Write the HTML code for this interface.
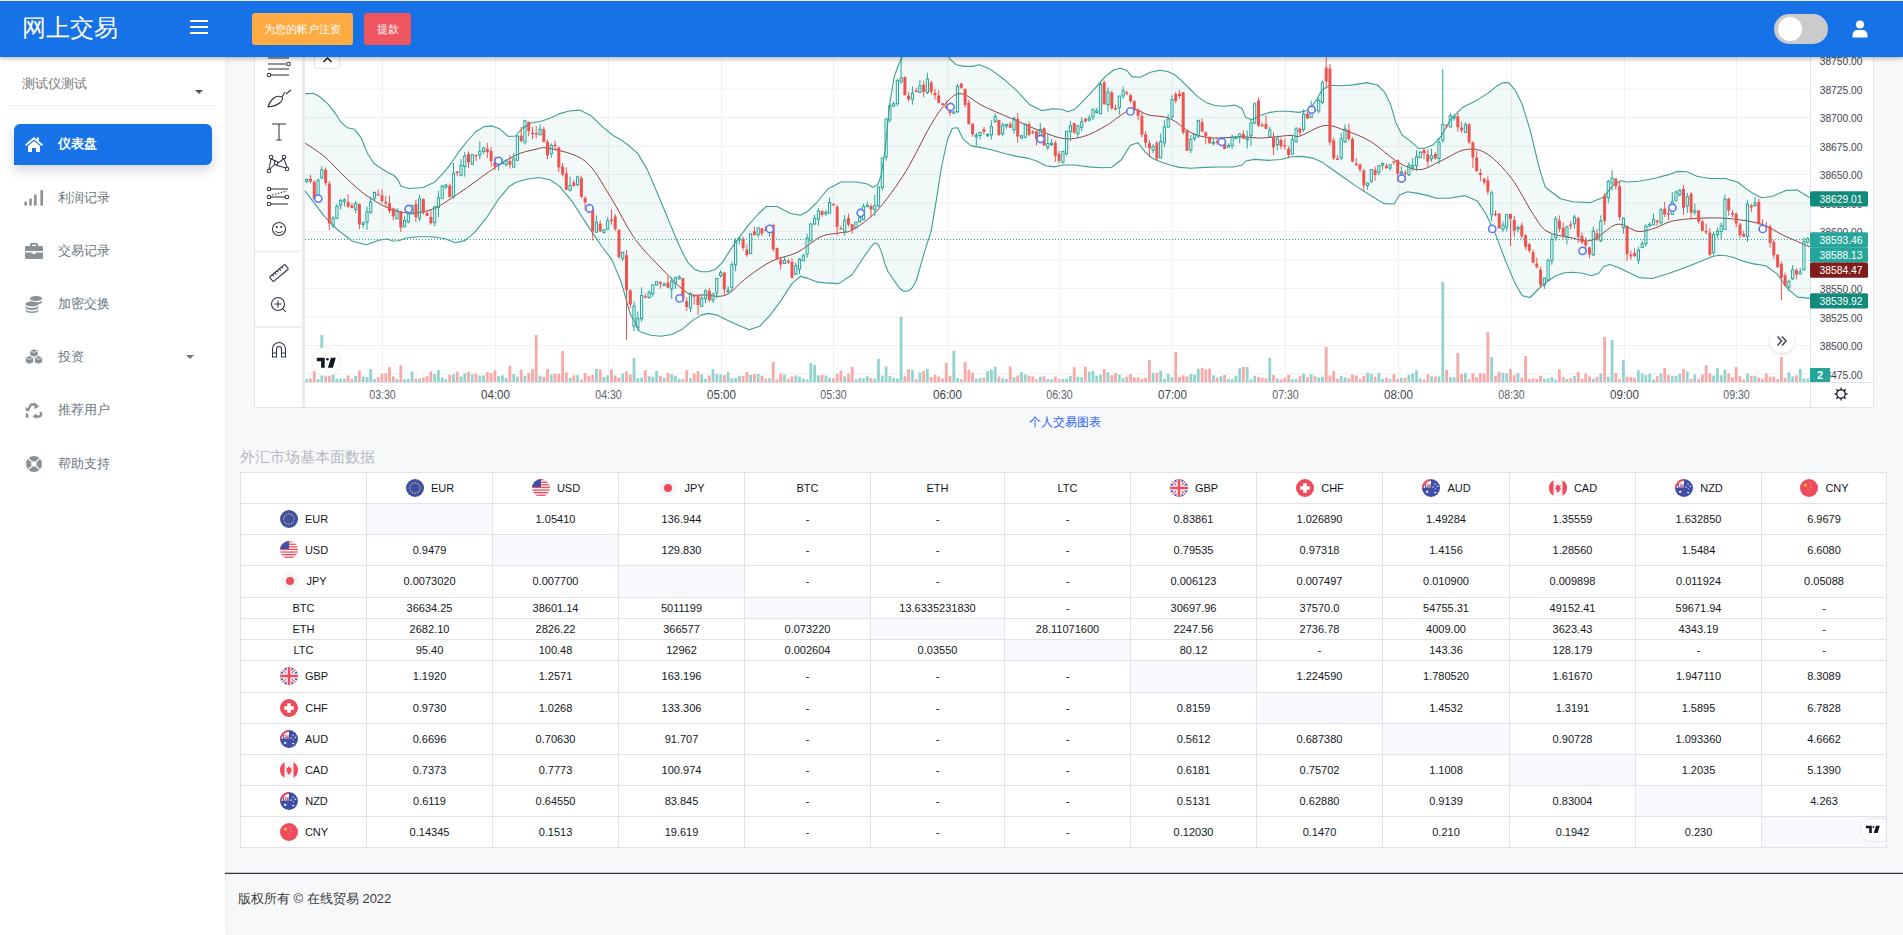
<!DOCTYPE html>
<html><head><meta charset="utf-8"><title>网上交易</title><style>*{box-sizing:border-box;margin:0;padding:0}
html,body{width:1903px;height:935px;overflow:hidden}
body{font-family:"Liberation Sans",sans-serif;background:#f7f8fa;position:relative}
.header{position:absolute;left:0;top:0;width:1903px;height:57px;background:#1672e6;border-top:1px solid #f3ead9;box-shadow:0 2px 4px rgba(0,0,0,.25);z-index:10}
.logo{position:absolute;left:22px;top:12px;font-size:24px;color:#fff;line-height:30px;letter-spacing:0px}
.ham{position:absolute;left:190px;top:19px;width:18px;height:15px}
.ham i{position:absolute;left:0;width:18px;height:2px;background:#fff}
.btn{position:absolute;top:12px;height:32px;border-radius:3px;color:#fff;font-size:11px;line-height:32px;text-align:center}
.btn1{left:252px;width:101px;background:#ffab44}
.btn2{left:364px;width:47px;background:#f05661}
.toggle{position:absolute;left:1774px;top:13px;width:54px;height:30px;border-radius:15px;background:#cbcbcb}
.toggle i{position:absolute;left:4px;top:3px;width:24px;height:24px;border-radius:50%;background:#fff}
.user{position:absolute;left:1852px;top:19px}
.side{position:absolute;left:0;top:56px;width:225px;height:879px;background:#fff;z-index:5;box-shadow:3px 0 10px rgba(0,0,0,.035)}
.acct{position:absolute;left:22px;top:20px;font-size:13px;color:#777;line-height:16px}
.caret{position:absolute;left:195px;top:34px;width:0;height:0;border-left:4px solid transparent;border-right:4px solid transparent;border-top:4px solid #555}
.sep{position:absolute;left:9px;top:49px;width:207px;height:1px;background:#ececec}
.nav{position:absolute;left:14px;width:198px;height:41px;font-size:13px;color:#6c757d}
.nav .ico{position:absolute;left:10px;top:12px;width:20px;height:18px}
.nav span{position:absolute;left:44px;top:12px;line-height:17px}
.nav.active{background:#1672e6;border-radius:6px 6px 6px 0;box-shadow:0 5px 12px rgba(50,70,100,.22);color:#fff;font-weight:bold}
.chart{position:absolute;left:0;top:0;z-index:1}
.chart text{font-family:"Liberation Sans",sans-serif}
.link{position:absolute;left:1029px;top:415px;font-size:11.7px;color:#2962ff;line-height:14px}
.sect{position:absolute;left:240px;top:448px;font-size:15px;color:#b5b8c0;line-height:18px}
.tbl{position:absolute;left:240px;top:472px;width:1647px;height:376px;background:#fff}
.c{position:absolute;border:1px solid #e0e3eb;text-align:center;font-size:11px;color:#131722;white-space:nowrap}
.c.hl{background:#f8f9fd}
.c .flag{display:inline-block;vertical-align:middle;margin-right:8px;position:relative;top:-1px;left:1px}
.c span{vertical-align:middle;position:relative;top:-1px}
.foot{position:absolute;left:225px;top:873px;width:1678px;height:62px;border-top:1px solid #2f3542;box-shadow:0 -0.5px 0 rgba(47,53,66,.5);background:#f7f8fa}
.foot div{position:absolute;left:13px;top:17px;font-size:13px;color:#3a3a3a;line-height:16px}
.nav.active span{top:11px}.nav.active .ico{top:11px}
</style></head>
<body>
<div class="header">
  <div class="logo">网上交易</div>
  <div class="ham"><i style="top:0"></i><i style="top:6px"></i><i style="top:12px"></i></div>
  <div class="btn btn1">为您的帐户注资</div>
  <div class="btn btn2">提款</div>
  <div class="toggle"><i></i></div>
  <svg class="user" width="16" height="18" viewBox="0 0 16 18"><circle cx="8" cy="4.5" r="4" fill="#fff"/><path d="M0.5,17.5 v-2.5 a5,5 0 0 1 5,-5 h5 a5,5 0 0 1 5,5 v2.5z" fill="#fff"/></svg>
</div>
<div class="side">
  <div class="acct">测试仪测试</div>
  <div class="caret"></div>
  <div class="sep"></div>
  <div class="nav active" style="top:68px">
    <svg class="ico" viewBox="0 0 20 18"><path d="M10,2 L1,9.5 L2.3,11 L10,4.6 L17.7,11 L19,9.5 L15,6.2 V2.5 H13 V4.5z M4,11 V17 H8 V13 H12 V17 H16 V11 L10,6z" fill="#fff"/></svg>
    <span>仪表盘</span></div>
  <div class="nav" style="top:121px">
    <svg class="ico" viewBox="0 0 20 18"><rect x="0.4" y="12.7" width="2.6" height="3.9" fill="#8a9196"/><rect x="5.3" y="9.6" width="2.5" height="7" fill="#8a9196"/><rect x="10" y="5.6" width="2.6" height="11" fill="#8a9196"/><rect x="16.4" y="1.2" width="2.6" height="15.4" fill="#8a9196"/></svg>
    <span>利润记录</span></div>
  <div class="nav" style="top:174px">
    <svg class="ico" viewBox="0 0 20 18"><path d="M6,4 V2.5 a1.5,1.5 0 0 1 1.5,-1.5 h5 a1.5,1.5 0 0 1 1.5,1.5 V4 h4 a1,1 0 0 1 1,1 v4 H1 V5 a1,1 0 0 1 1,-1z M8,4 h4 V2.8 H8z M1,10.5 h7.5 v1.5 h3 v-1.5 H19 V16 a1,1 0 0 1 -1,1 H2 a1,1 0 0 1 -1,-1z" fill="#8a9196"/></svg>
    <span>交易记录</span></div>
  <div class="nav" style="top:227px">
    <svg class="ico" viewBox="0 0 20 18"><ellipse cx="12" cy="3.5" rx="6" ry="2.5" fill="#8a9196"/><path d="M6,5 v2 a6,2.5 0 0 0 12,0 v-2 a6,2.5 0 0 1 -12,0z" fill="#8a9196"/><ellipse cx="8" cy="9" rx="6.5" ry="2.5" fill="#8a9196"/><path d="M1.5,10.5 v2 a6.5,2.5 0 0 0 13,0 v-2 a6.5,2.5 0 0 1 -13,0z M1.5,14 v1.5 a6.5,2.5 0 0 0 13,0 v-1.5 a6.5,2.5 0 0 1 -13,0z" fill="#8a9196"/></svg>
    <span>加密交换</span></div>
  <div class="nav" style="top:280px">
    <svg class="ico" viewBox="0 0 20 18"><g fill="#8a9196" stroke="#fff" stroke-width="0.9" stroke-linejoin="round"><path d="M10,0.8 L14.2,2.6 V7.4 L10,9.2 L5.8,7.4 V2.6z"/><path d="M5.5,7.6 L9.7,9.4 V14.4 L5.5,16.2 L1.3,14.4 V9.4z"/><path d="M14.5,7.6 L18.7,9.4 V14.4 L14.5,16.2 L10.3,14.4 V9.4z"/></g><path d="M6.3,2.9 L10,4.5 L13.7,2.9 M1.8,9.7 L5.5,11.3 L9.2,9.7 M10.8,9.7 L14.5,11.3 L18.2,9.7" fill="none" stroke="#fff" stroke-width="0.7"/></svg>
    <span>投资</span>
    <div style="position:absolute;left:172px;top:19px;border-left:4px solid transparent;border-right:4px solid transparent;border-top:4px solid #777"></div></div>
  <div class="nav" style="top:333px">
    <svg class="ico" viewBox="0 0 20 18"><g fill="none" stroke="#8a9196" stroke-width="2.3" stroke-linejoin="round"><path d="M3.5,10 L7,3.5 H10.5"/><path d="M4.5,15.5 H2.8 L3.2,12.5"/><path d="M16.5,11 L17.3,14.3 L15.5,15.5 H12"/></g><path d="M10,1 L15,5.5 L10.5,8z" fill="#8a9196"/><path d="M12.5,12.5 V18 L8.5,15.2z" fill="#8a9196"/><path d="M5.5,8.5 L2.2,10 L1,6z" fill="#8a9196"/></svg>
    <span>推荐用户</span></div>
  <div class="nav" style="top:387px">
    <svg class="ico" viewBox="0 0 20 18"><circle cx="10" cy="9" r="5.4" fill="none" stroke="#8a9196" stroke-width="5.2"/><path d="M12,11 L16.5,15.5 M8,11 L3.5,15.5 M12,7 L16.5,2.5 M8,7 L3.5,2.5" stroke="#fff" stroke-width="1.1"/></svg>
    <span>帮助支持</span></div>
</div>
<svg class="chart" width="1903" height="410" viewBox="0 0 1903 410">
<defs><clipPath id="pl"><rect x="305" y="0" width="1505" height="383"/></clipPath><filter id="sh" x="-50%" y="-50%" width="200%" height="200%"><feDropShadow dx="0" dy="1" stdDeviation="1.5" flood-color="#000" flood-opacity="0.18"/></filter></defs>
<rect x="254.5" y="-9.5" width="1619" height="417" fill="#fff" stroke="#e0e3eb" stroke-width="1"/>
<rect x="302" y="0" width="3" height="407" fill="#e9ebf0"/>
<rect x="255" y="250.5" width="47" height="2" fill="#eceef2"/>
<rect x="255" y="326" width="47" height="2" fill="#eceef2"/>
<line x1="305" x2="1810" y1="60.5" y2="60.5" stroke="#f0f0f0" stroke-width="1"/>
<line x1="305" x2="1810" y1="89.0" y2="89.0" stroke="#f0f0f0" stroke-width="1"/>
<line x1="305" x2="1810" y1="117.5" y2="117.5" stroke="#f0f0f0" stroke-width="1"/>
<line x1="305" x2="1810" y1="146.0" y2="146.0" stroke="#f0f0f0" stroke-width="1"/>
<line x1="305" x2="1810" y1="174.5" y2="174.5" stroke="#f0f0f0" stroke-width="1"/>
<line x1="305" x2="1810" y1="203.0" y2="203.0" stroke="#f0f0f0" stroke-width="1"/>
<line x1="305" x2="1810" y1="231.5" y2="231.5" stroke="#f0f0f0" stroke-width="1"/>
<line x1="305" x2="1810" y1="260.0" y2="260.0" stroke="#f0f0f0" stroke-width="1"/>
<line x1="305" x2="1810" y1="288.5" y2="288.5" stroke="#f0f0f0" stroke-width="1"/>
<line x1="305" x2="1810" y1="317.0" y2="317.0" stroke="#f0f0f0" stroke-width="1"/>
<line x1="305" x2="1810" y1="345.5" y2="345.5" stroke="#f0f0f0" stroke-width="1"/>
<line x1="305" x2="1810" y1="374.0" y2="374.0" stroke="#f0f0f0" stroke-width="1"/>
<line x1="382.5" x2="382.5" y1="0" y2="383" stroke="#f0f0f0" stroke-width="1"/>
<line x1="495.5" x2="495.5" y1="0" y2="383" stroke="#f0f0f0" stroke-width="1"/>
<line x1="608.5" x2="608.5" y1="0" y2="383" stroke="#f0f0f0" stroke-width="1"/>
<line x1="721.5" x2="721.5" y1="0" y2="383" stroke="#f0f0f0" stroke-width="1"/>
<line x1="833.5" x2="833.5" y1="0" y2="383" stroke="#f0f0f0" stroke-width="1"/>
<line x1="947.5" x2="947.5" y1="0" y2="383" stroke="#f0f0f0" stroke-width="1"/>
<line x1="1059.5" x2="1059.5" y1="0" y2="383" stroke="#f0f0f0" stroke-width="1"/>
<line x1="1172.5" x2="1172.5" y1="0" y2="383" stroke="#f0f0f0" stroke-width="1"/>
<line x1="1285.5" x2="1285.5" y1="0" y2="383" stroke="#f0f0f0" stroke-width="1"/>
<line x1="1398.5" x2="1398.5" y1="0" y2="383" stroke="#f0f0f0" stroke-width="1"/>
<line x1="1511.5" x2="1511.5" y1="0" y2="383" stroke="#f0f0f0" stroke-width="1"/>
<line x1="1624.5" x2="1624.5" y1="0" y2="383" stroke="#f0f0f0" stroke-width="1"/>
<line x1="1736.5" x2="1736.5" y1="0" y2="383" stroke="#f0f0f0" stroke-width="1"/>
<g clip-path="url(#pl)">
<path d="M305.0,93.8 L307.8,93.6 L313.2,93.2 L320.0,96.8 L328.0,104.2 L335.0,112.8 L341.0,122.2 L347.5,127.8 L354.5,129.2 L361.1,137.8 L367.4,153.2 L374.1,163.5 L381.4,168.5 L388.0,172.5 L394.0,175.5 L398.2,180.0 L400.8,186.0 L409.0,188.5 L423.0,187.5 L434.5,182.2 L443.5,172.8 L451.5,162.8 L458.5,152.2 L466.5,142.0 L475.5,132.0 L484.0,126.6 L492.0,125.9 L500.0,129.1 L508.0,136.4 L515.5,136.0 L522.5,128.0 L531.2,123.0 L541.8,121.0 L551.2,117.8 L559.8,113.6 L569.2,111.0 L579.8,110.1 L591.2,115.8 L603.8,127.9 L613.5,135.8 L620.5,139.6 L628.5,145.3 L637.5,153.1 L647.2,169.4 L657.8,194.3 L667.4,217.3 L676.1,238.4 L683.1,253.8 L688.4,263.2 L694.5,269.2 L701.5,271.8 L708.5,271.8 L715.5,269.2 L722.5,262.4 L729.5,251.1 L738.4,238.4 L749.2,224.1 L758.6,213.5 L766.5,206.5 L777.1,206.5 L790.4,213.5 L800.4,215.2 L807.2,211.8 L816.3,203.0 L827.8,189.0 L841.0,182.0 L856.0,182.0 L866.6,183.8 L872.9,187.2 L877.8,184.5 L881.2,175.5 L885.2,149.0 L889.5,105.0 L894.3,76.2 L899.4,62.8 L905.2,50.8 L911.8,40.2 L918.8,33.8 L926.2,31.2 L933.8,33.8 L941.2,41.2 L946.7,49.7 L950.0,59.1 L956.0,64.7 L964.7,66.4 L972.5,66.4 L979.5,64.7 L990.1,69.1 L1004.5,79.7 L1017.7,91.6 L1029.9,104.8 L1041.7,110.6 L1053.1,108.8 L1061.8,109.2 L1068.0,111.8 L1075.5,108.7 L1084.3,99.9 L1094.1,89.4 L1104.7,77.1 L1113.5,70.0 L1120.5,68.2 L1126.7,70.4 L1132.0,76.6 L1140.0,77.2 L1150.5,72.3 L1159.8,70.3 L1167.7,71.5 L1174.8,74.8 L1180.9,80.2 L1188.4,87.5 L1197.3,96.4 L1206.0,102.4 L1214.7,105.5 L1224.4,106.3 L1235.1,105.1 L1242.2,108.8 L1245.8,117.6 L1251.9,119.8 L1260.6,115.2 L1269.5,112.4 L1278.3,111.3 L1288.1,111.3 L1298.7,112.4 L1306.5,110.8 L1311.5,106.6 L1316.7,99.6 L1322.0,89.8 L1330.0,85.2 L1340.6,85.8 L1352.9,84.9 L1367.0,82.6 L1377.5,85.0 L1384.5,92.1 L1390.7,104.8 L1396.1,123.3 L1402.3,135.2 L1409.4,140.4 L1414.7,144.8 L1418.2,148.2 L1424.4,148.2 L1433.2,144.8 L1441.9,135.1 L1450.7,119.3 L1462.1,107.8 L1476.3,100.6 L1487.8,93.4 L1496.6,86.1 L1503.7,82.6 L1508.9,82.9 L1515.1,90.1 L1522.2,104.3 L1530.1,129.9 L1539.0,167.0 L1545.1,186.8 L1548.3,189.5 L1553.5,193.5 L1560.5,198.8 L1572.8,201.8 L1590.2,202.6 L1603.5,197.2 L1612.5,185.8 L1620.5,180.7 L1627.5,182.0 L1639.0,181.2 L1654.9,178.2 L1667.7,174.9 L1677.2,171.4 L1686.9,171.8 L1696.8,176.3 L1709.5,178.5 L1725.2,178.5 L1737.5,182.0 L1746.5,189.1 L1754.5,194.3 L1761.5,197.8 L1772.0,196.5 L1786.0,190.4 L1797.2,190.0 L1805.8,195.2 L1810.0,197.9 L1810.0,298.4 L1805.8,297.9 L1797.6,297.1 L1788.1,289.1 L1777.3,274.1 L1765.9,265.7 L1753.6,263.9 L1743.1,261.2 L1734.4,257.8 L1726.5,255.8 L1719.3,255.2 L1712.3,256.5 L1705.2,259.5 L1694.7,263.8 L1680.5,269.2 L1666.4,274.2 L1652.1,278.5 L1638.9,277.6 L1626.6,271.5 L1617.0,267.0 L1609.9,264.4 L1603.8,266.5 L1598.5,273.5 L1591.4,275.8 L1582.5,273.2 L1573.5,272.2 L1564.5,272.8 L1555.8,275.8 L1547.6,281.2 L1539.0,288.5 L1530.1,297.5 L1522.2,295.8 L1515.1,283.2 L1506.3,262.9 L1495.8,234.9 L1486.1,214.2 L1477.2,200.9 L1464.8,195.6 L1449.0,198.3 L1436.6,198.3 L1427.9,195.6 L1418.1,193.4 L1407.4,191.7 L1399.4,195.2 L1394.3,204.0 L1383.8,203.6 L1367.9,193.8 L1353.8,184.6 L1341.2,175.8 L1330.7,168.3 L1321.9,162.1 L1312.4,158.1 L1302.2,156.4 L1291.7,156.8 L1281.0,159.5 L1268.7,160.4 L1254.5,159.4 L1245.8,161.0 L1242.2,165.0 L1233.4,167.0 L1219.1,167.0 L1205.0,167.4 L1191.0,168.2 L1179.5,167.4 L1170.5,165.2 L1161.7,162.2 L1153.1,158.8 L1145.3,152.2 L1138.2,142.8 L1130.3,145.2 L1121.4,159.8 L1111.7,167.2 L1101.2,167.7 L1088.8,166.9 L1074.7,165.0 L1063.2,165.0 L1054.4,166.9 L1045.7,165.7 L1037.1,161.2 L1027.5,158.1 L1016.9,156.4 L1005.5,153.8 L993.1,150.2 L981.7,147.6 L971.1,145.9 L963.1,139.2 L957.7,127.8 L952.4,128.2 L947.2,140.5 L941.4,167.5 L934.9,209.2 L930.9,232.4 L929.1,237.3 L926.7,244.8 L923.6,254.9 L920.8,264.8 L918.2,274.2 L916.0,281.0 L914.0,285.0 L912.0,288.0 L910.0,290.0 L907.2,291.1 L903.5,291.3 L899.5,288.3 L895.2,282.1 L891.4,276.5 L888.0,271.5 L884.8,263.6 L881.6,252.6 L879.0,245.9 L877.0,243.3 L874.6,243.2 L871.9,245.8 L864.4,256.2 L852.0,274.8 L838.8,283.6 L824.7,282.9 L815.7,281.6 L811.9,279.9 L806.8,278.1 L800.2,276.4 L791.7,283.9 L781.0,300.6 L770.4,314.8 L759.9,326.2 L749.2,329.8 L738.4,325.2 L727.8,320.4 L717.2,315.1 L708.5,313.4 L701.5,315.1 L692.8,320.4 L682.2,329.3 L671.8,334.5 L661.2,336.2 L650.6,335.2 L640.0,331.8 L630.2,314.1 L621.4,282.5 L611.8,259.6 L601.2,245.5 L588.0,226.1 L572.0,201.3 L559.2,185.9 L549.8,179.8 L538.8,177.5 L526.2,179.2 L516.2,182.2 L508.8,186.8 L498.8,198.8 L486.2,218.2 L475.0,232.2 L465.0,240.6 L455.0,242.8 L445.0,238.7 L432.5,236.7 L417.5,236.7 L406.2,238.0 L398.8,240.7 L392.5,241.0 L387.5,239.0 L378.8,240.2 L366.2,244.8 L352.5,241.2 L337.5,229.8 L323.8,215.7 L311.2,199.1 L305.0,190.8 Z" fill="#26a69a" fill-opacity="0.06"/>
<rect x="305.4" y="378.9" width="2.8" height="3.1" fill="#94d3cd"/>
<rect x="309.1" y="378.7" width="2.8" height="3.3" fill="#f7a9a7"/>
<rect x="312.9" y="371.2" width="2.8" height="10.8" fill="#f7a9a7"/>
<rect x="316.7" y="379.2" width="2.8" height="2.8" fill="#94d3cd"/>
<rect x="320.4" y="335.0" width="2.8" height="47.0" fill="#94d3cd"/>
<rect x="324.2" y="369.6" width="2.8" height="12.4" fill="#f7a9a7"/>
<rect x="327.9" y="370.1" width="2.8" height="11.9" fill="#f7a9a7"/>
<rect x="331.7" y="373.7" width="2.8" height="8.3" fill="#94d3cd"/>
<rect x="335.5" y="378.8" width="2.8" height="3.2" fill="#94d3cd"/>
<rect x="339.2" y="378.7" width="2.8" height="3.3" fill="#94d3cd"/>
<rect x="343.0" y="378.7" width="2.8" height="3.3" fill="#94d3cd"/>
<rect x="346.7" y="375.5" width="2.8" height="6.5" fill="#f7a9a7"/>
<rect x="350.5" y="379.1" width="2.8" height="2.9" fill="#f7a9a7"/>
<rect x="354.3" y="376.0" width="2.8" height="6.0" fill="#94d3cd"/>
<rect x="358.0" y="370.5" width="2.8" height="11.5" fill="#f7a9a7"/>
<rect x="361.8" y="376.6" width="2.8" height="5.4" fill="#94d3cd"/>
<rect x="365.6" y="377.0" width="2.8" height="5.0" fill="#94d3cd"/>
<rect x="369.3" y="369.0" width="2.8" height="13.0" fill="#94d3cd"/>
<rect x="373.1" y="379.2" width="2.8" height="2.8" fill="#94d3cd"/>
<rect x="376.8" y="377.2" width="2.8" height="4.8" fill="#f7a9a7"/>
<rect x="380.6" y="373.5" width="2.8" height="8.5" fill="#f7a9a7"/>
<rect x="384.4" y="373.2" width="2.8" height="8.8" fill="#f7a9a7"/>
<rect x="388.1" y="367.1" width="2.8" height="14.9" fill="#f7a9a7"/>
<rect x="391.9" y="376.4" width="2.8" height="5.6" fill="#f7a9a7"/>
<rect x="395.6" y="379.1" width="2.8" height="2.9" fill="#94d3cd"/>
<rect x="399.4" y="365.3" width="2.8" height="16.7" fill="#f7a9a7"/>
<rect x="403.2" y="379.3" width="2.8" height="2.7" fill="#94d3cd"/>
<rect x="406.9" y="378.7" width="2.8" height="3.3" fill="#94d3cd"/>
<rect x="410.7" y="371.6" width="2.8" height="10.4" fill="#94d3cd"/>
<rect x="414.5" y="378.8" width="2.8" height="3.2" fill="#f7a9a7"/>
<rect x="418.2" y="378.6" width="2.8" height="3.4" fill="#94d3cd"/>
<rect x="422.0" y="377.5" width="2.8" height="4.5" fill="#f7a9a7"/>
<rect x="425.7" y="376.2" width="2.8" height="5.8" fill="#f7a9a7"/>
<rect x="429.5" y="371.3" width="2.8" height="10.7" fill="#f7a9a7"/>
<rect x="433.3" y="374.0" width="2.8" height="8.0" fill="#94d3cd"/>
<rect x="437.0" y="370.1" width="2.8" height="11.9" fill="#94d3cd"/>
<rect x="440.8" y="377.6" width="2.8" height="4.4" fill="#94d3cd"/>
<rect x="444.5" y="379.3" width="2.8" height="2.7" fill="#94d3cd"/>
<rect x="448.3" y="374.7" width="2.8" height="7.3" fill="#f7a9a7"/>
<rect x="452.1" y="374.2" width="2.8" height="7.8" fill="#94d3cd"/>
<rect x="455.8" y="371.8" width="2.8" height="10.2" fill="#f7a9a7"/>
<rect x="459.6" y="376.4" width="2.8" height="5.6" fill="#94d3cd"/>
<rect x="463.4" y="373.5" width="2.8" height="8.5" fill="#94d3cd"/>
<rect x="467.1" y="371.7" width="2.8" height="10.3" fill="#f7a9a7"/>
<rect x="470.9" y="374.3" width="2.8" height="7.7" fill="#94d3cd"/>
<rect x="474.6" y="373.5" width="2.8" height="8.5" fill="#f7a9a7"/>
<rect x="478.4" y="375.6" width="2.8" height="6.4" fill="#94d3cd"/>
<rect x="482.2" y="375.3" width="2.8" height="6.7" fill="#94d3cd"/>
<rect x="485.9" y="372.2" width="2.8" height="9.8" fill="#f7a9a7"/>
<rect x="489.7" y="373.1" width="2.8" height="8.9" fill="#f7a9a7"/>
<rect x="493.5" y="370.4" width="2.8" height="11.6" fill="#f7a9a7"/>
<rect x="497.2" y="376.2" width="2.8" height="5.8" fill="#94d3cd"/>
<rect x="501.0" y="375.3" width="2.8" height="6.7" fill="#94d3cd"/>
<rect x="504.7" y="377.6" width="2.8" height="4.4" fill="#94d3cd"/>
<rect x="508.5" y="365.7" width="2.8" height="16.3" fill="#f7a9a7"/>
<rect x="512.3" y="374.0" width="2.8" height="8.0" fill="#94d3cd"/>
<rect x="516.0" y="376.5" width="2.8" height="5.5" fill="#94d3cd"/>
<rect x="519.8" y="369.6" width="2.8" height="12.4" fill="#f7a9a7"/>
<rect x="523.5" y="375.8" width="2.8" height="6.2" fill="#94d3cd"/>
<rect x="527.3" y="373.0" width="2.8" height="9.0" fill="#f7a9a7"/>
<rect x="531.1" y="369.2" width="2.8" height="12.8" fill="#f7a9a7"/>
<rect x="534.8" y="335.0" width="2.8" height="47.0" fill="#f7a9a7"/>
<rect x="538.6" y="375.7" width="2.8" height="6.3" fill="#94d3cd"/>
<rect x="542.4" y="376.7" width="2.8" height="5.3" fill="#f7a9a7"/>
<rect x="546.1" y="369.1" width="2.8" height="12.9" fill="#f7a9a7"/>
<rect x="549.9" y="374.5" width="2.8" height="7.5" fill="#94d3cd"/>
<rect x="553.6" y="373.5" width="2.8" height="8.5" fill="#f7a9a7"/>
<rect x="557.4" y="373.7" width="2.8" height="8.3" fill="#f7a9a7"/>
<rect x="561.2" y="351.0" width="2.8" height="31.0" fill="#f7a9a7"/>
<rect x="564.9" y="372.5" width="2.8" height="9.5" fill="#f7a9a7"/>
<rect x="568.7" y="377.9" width="2.8" height="4.1" fill="#94d3cd"/>
<rect x="572.4" y="375.3" width="2.8" height="6.7" fill="#f7a9a7"/>
<rect x="576.2" y="375.2" width="2.8" height="6.8" fill="#94d3cd"/>
<rect x="580.0" y="379.5" width="2.8" height="2.5" fill="#f7a9a7"/>
<rect x="583.7" y="373.0" width="2.8" height="9.0" fill="#f7a9a7"/>
<rect x="587.5" y="376.1" width="2.8" height="5.9" fill="#f7a9a7"/>
<rect x="591.3" y="374.9" width="2.8" height="7.1" fill="#f7a9a7"/>
<rect x="595.0" y="369.0" width="2.8" height="13.0" fill="#94d3cd"/>
<rect x="598.8" y="369.5" width="2.8" height="12.5" fill="#f7a9a7"/>
<rect x="602.5" y="376.8" width="2.8" height="5.2" fill="#94d3cd"/>
<rect x="606.3" y="375.3" width="2.8" height="6.7" fill="#94d3cd"/>
<rect x="610.1" y="369.3" width="2.8" height="12.7" fill="#f7a9a7"/>
<rect x="613.8" y="375.5" width="2.8" height="6.5" fill="#f7a9a7"/>
<rect x="617.6" y="377.6" width="2.8" height="4.4" fill="#f7a9a7"/>
<rect x="621.3" y="373.6" width="2.8" height="8.4" fill="#94d3cd"/>
<rect x="625.1" y="371.5" width="2.8" height="10.5" fill="#f7a9a7"/>
<rect x="628.9" y="374.6" width="2.8" height="7.4" fill="#f7a9a7"/>
<rect x="632.6" y="358.0" width="2.8" height="24.0" fill="#94d3cd"/>
<rect x="636.4" y="378.2" width="2.8" height="3.8" fill="#94d3cd"/>
<rect x="640.2" y="377.6" width="2.8" height="4.4" fill="#94d3cd"/>
<rect x="643.9" y="370.2" width="2.8" height="11.8" fill="#f7a9a7"/>
<rect x="647.7" y="376.2" width="2.8" height="5.8" fill="#94d3cd"/>
<rect x="651.4" y="376.7" width="2.8" height="5.3" fill="#94d3cd"/>
<rect x="655.2" y="370.8" width="2.8" height="11.2" fill="#94d3cd"/>
<rect x="659.0" y="375.8" width="2.8" height="6.2" fill="#f7a9a7"/>
<rect x="662.7" y="377.8" width="2.8" height="4.2" fill="#94d3cd"/>
<rect x="666.5" y="373.0" width="2.8" height="9.0" fill="#f7a9a7"/>
<rect x="670.3" y="374.3" width="2.8" height="7.7" fill="#94d3cd"/>
<rect x="674.0" y="375.8" width="2.8" height="6.2" fill="#94d3cd"/>
<rect x="677.8" y="378.7" width="2.8" height="3.3" fill="#94d3cd"/>
<rect x="681.5" y="379.2" width="2.8" height="2.8" fill="#f7a9a7"/>
<rect x="685.3" y="370.3" width="2.8" height="11.7" fill="#f7a9a7"/>
<rect x="689.1" y="377.9" width="2.8" height="4.1" fill="#94d3cd"/>
<rect x="692.8" y="373.6" width="2.8" height="8.4" fill="#f7a9a7"/>
<rect x="696.6" y="371.0" width="2.8" height="11.0" fill="#f7a9a7"/>
<rect x="700.3" y="374.3" width="2.8" height="7.7" fill="#94d3cd"/>
<rect x="704.1" y="378.9" width="2.8" height="3.1" fill="#94d3cd"/>
<rect x="707.9" y="375.5" width="2.8" height="6.5" fill="#f7a9a7"/>
<rect x="711.6" y="369.2" width="2.8" height="12.8" fill="#94d3cd"/>
<rect x="715.4" y="373.9" width="2.8" height="8.1" fill="#94d3cd"/>
<rect x="719.2" y="374.5" width="2.8" height="7.5" fill="#94d3cd"/>
<rect x="722.9" y="375.1" width="2.8" height="6.9" fill="#f7a9a7"/>
<rect x="726.7" y="372.2" width="2.8" height="9.8" fill="#94d3cd"/>
<rect x="730.4" y="378.4" width="2.8" height="3.6" fill="#94d3cd"/>
<rect x="734.2" y="378.2" width="2.8" height="3.8" fill="#94d3cd"/>
<rect x="738.0" y="376.2" width="2.8" height="5.8" fill="#94d3cd"/>
<rect x="741.7" y="375.9" width="2.8" height="6.1" fill="#f7a9a7"/>
<rect x="745.5" y="371.8" width="2.8" height="10.2" fill="#f7a9a7"/>
<rect x="749.2" y="374.9" width="2.8" height="7.1" fill="#94d3cd"/>
<rect x="753.0" y="374.1" width="2.8" height="7.9" fill="#f7a9a7"/>
<rect x="756.8" y="374.1" width="2.8" height="7.9" fill="#94d3cd"/>
<rect x="760.5" y="375.7" width="2.8" height="6.3" fill="#f7a9a7"/>
<rect x="764.3" y="378.5" width="2.8" height="3.5" fill="#f7a9a7"/>
<rect x="768.1" y="378.2" width="2.8" height="3.8" fill="#94d3cd"/>
<rect x="771.8" y="362.0" width="2.8" height="20.0" fill="#f7a9a7"/>
<rect x="775.6" y="379.4" width="2.8" height="2.6" fill="#f7a9a7"/>
<rect x="779.3" y="373.4" width="2.8" height="8.6" fill="#f7a9a7"/>
<rect x="783.1" y="374.7" width="2.8" height="7.3" fill="#94d3cd"/>
<rect x="786.9" y="378.8" width="2.8" height="3.2" fill="#f7a9a7"/>
<rect x="790.6" y="376.4" width="2.8" height="5.6" fill="#f7a9a7"/>
<rect x="794.4" y="375.4" width="2.8" height="6.6" fill="#94d3cd"/>
<rect x="798.1" y="376.6" width="2.8" height="5.4" fill="#94d3cd"/>
<rect x="801.9" y="378.4" width="2.8" height="3.6" fill="#94d3cd"/>
<rect x="805.7" y="379.4" width="2.8" height="2.6" fill="#94d3cd"/>
<rect x="809.4" y="363.1" width="2.8" height="18.9" fill="#94d3cd"/>
<rect x="813.2" y="365.0" width="2.8" height="17.0" fill="#94d3cd"/>
<rect x="817.0" y="375.3" width="2.8" height="6.7" fill="#94d3cd"/>
<rect x="820.7" y="374.8" width="2.8" height="7.2" fill="#f7a9a7"/>
<rect x="824.5" y="375.6" width="2.8" height="6.4" fill="#94d3cd"/>
<rect x="828.2" y="377.7" width="2.8" height="4.3" fill="#94d3cd"/>
<rect x="832.0" y="378.4" width="2.8" height="3.6" fill="#f7a9a7"/>
<rect x="835.8" y="373.8" width="2.8" height="8.2" fill="#f7a9a7"/>
<rect x="839.5" y="370.6" width="2.8" height="11.4" fill="#f7a9a7"/>
<rect x="843.3" y="376.4" width="2.8" height="5.6" fill="#94d3cd"/>
<rect x="847.1" y="373.6" width="2.8" height="8.4" fill="#f7a9a7"/>
<rect x="850.8" y="366.7" width="2.8" height="15.3" fill="#f7a9a7"/>
<rect x="854.6" y="379.5" width="2.8" height="2.5" fill="#94d3cd"/>
<rect x="858.3" y="378.0" width="2.8" height="4.0" fill="#94d3cd"/>
<rect x="862.1" y="378.4" width="2.8" height="3.6" fill="#94d3cd"/>
<rect x="865.9" y="376.2" width="2.8" height="5.8" fill="#94d3cd"/>
<rect x="869.6" y="378.0" width="2.8" height="4.0" fill="#f7a9a7"/>
<rect x="873.4" y="378.6" width="2.8" height="3.4" fill="#94d3cd"/>
<rect x="877.1" y="359.0" width="2.8" height="23.0" fill="#94d3cd"/>
<rect x="880.9" y="375.6" width="2.8" height="6.4" fill="#94d3cd"/>
<rect x="884.7" y="366.6" width="2.8" height="15.4" fill="#94d3cd"/>
<rect x="888.4" y="376.0" width="2.8" height="6.0" fill="#94d3cd"/>
<rect x="892.2" y="377.8" width="2.8" height="4.2" fill="#94d3cd"/>
<rect x="896.0" y="378.4" width="2.8" height="3.6" fill="#94d3cd"/>
<rect x="899.7" y="316.7" width="2.8" height="65.3" fill="#94d3cd"/>
<rect x="903.5" y="376.3" width="2.8" height="5.7" fill="#f7a9a7"/>
<rect x="907.2" y="369.3" width="2.8" height="12.7" fill="#f7a9a7"/>
<rect x="911.0" y="370.0" width="2.8" height="12.0" fill="#94d3cd"/>
<rect x="914.8" y="379.2" width="2.8" height="2.8" fill="#f7a9a7"/>
<rect x="918.5" y="372.4" width="2.8" height="9.6" fill="#94d3cd"/>
<rect x="922.3" y="370.8" width="2.8" height="11.2" fill="#f7a9a7"/>
<rect x="926.0" y="368.9" width="2.8" height="13.1" fill="#94d3cd"/>
<rect x="929.8" y="376.8" width="2.8" height="5.2" fill="#f7a9a7"/>
<rect x="933.6" y="374.7" width="2.8" height="7.3" fill="#f7a9a7"/>
<rect x="937.3" y="376.4" width="2.8" height="5.6" fill="#f7a9a7"/>
<rect x="941.1" y="378.5" width="2.8" height="3.5" fill="#f7a9a7"/>
<rect x="944.9" y="362.9" width="2.8" height="19.1" fill="#f7a9a7"/>
<rect x="948.6" y="375.9" width="2.8" height="6.1" fill="#f7a9a7"/>
<rect x="952.4" y="350.6" width="2.8" height="31.4" fill="#94d3cd"/>
<rect x="956.1" y="378.0" width="2.8" height="4.0" fill="#94d3cd"/>
<rect x="959.9" y="379.3" width="2.8" height="2.7" fill="#f7a9a7"/>
<rect x="963.7" y="362.0" width="2.8" height="20.0" fill="#f7a9a7"/>
<rect x="967.4" y="369.7" width="2.8" height="12.3" fill="#f7a9a7"/>
<rect x="971.2" y="372.7" width="2.8" height="9.3" fill="#f7a9a7"/>
<rect x="974.9" y="378.6" width="2.8" height="3.4" fill="#94d3cd"/>
<rect x="978.7" y="378.0" width="2.8" height="4.0" fill="#94d3cd"/>
<rect x="982.5" y="377.5" width="2.8" height="4.5" fill="#f7a9a7"/>
<rect x="986.2" y="371.1" width="2.8" height="10.9" fill="#94d3cd"/>
<rect x="990.0" y="369.8" width="2.8" height="12.2" fill="#94d3cd"/>
<rect x="993.8" y="366.8" width="2.8" height="15.2" fill="#94d3cd"/>
<rect x="997.5" y="376.6" width="2.8" height="5.4" fill="#f7a9a7"/>
<rect x="1001.3" y="378.4" width="2.8" height="3.6" fill="#94d3cd"/>
<rect x="1005.0" y="379.1" width="2.8" height="2.9" fill="#94d3cd"/>
<rect x="1008.8" y="366.5" width="2.8" height="15.5" fill="#f7a9a7"/>
<rect x="1012.6" y="377.4" width="2.8" height="4.6" fill="#94d3cd"/>
<rect x="1016.3" y="375.3" width="2.8" height="6.7" fill="#f7a9a7"/>
<rect x="1020.1" y="371.7" width="2.8" height="10.3" fill="#94d3cd"/>
<rect x="1023.9" y="374.5" width="2.8" height="7.5" fill="#94d3cd"/>
<rect x="1027.6" y="375.7" width="2.8" height="6.3" fill="#f7a9a7"/>
<rect x="1031.4" y="376.5" width="2.8" height="5.5" fill="#f7a9a7"/>
<rect x="1035.1" y="379.4" width="2.8" height="2.6" fill="#f7a9a7"/>
<rect x="1038.9" y="376.7" width="2.8" height="5.3" fill="#94d3cd"/>
<rect x="1042.7" y="376.2" width="2.8" height="5.8" fill="#f7a9a7"/>
<rect x="1046.4" y="379.1" width="2.8" height="2.9" fill="#94d3cd"/>
<rect x="1050.2" y="379.3" width="2.8" height="2.7" fill="#94d3cd"/>
<rect x="1053.9" y="376.5" width="2.8" height="5.5" fill="#f7a9a7"/>
<rect x="1057.7" y="379.1" width="2.8" height="2.9" fill="#f7a9a7"/>
<rect x="1061.5" y="378.7" width="2.8" height="3.3" fill="#94d3cd"/>
<rect x="1065.2" y="378.8" width="2.8" height="3.2" fill="#94d3cd"/>
<rect x="1069.0" y="376.0" width="2.8" height="6.0" fill="#94d3cd"/>
<rect x="1072.8" y="367.2" width="2.8" height="14.8" fill="#f7a9a7"/>
<rect x="1076.5" y="376.7" width="2.8" height="5.3" fill="#94d3cd"/>
<rect x="1080.3" y="377.1" width="2.8" height="4.9" fill="#94d3cd"/>
<rect x="1084.0" y="366.9" width="2.8" height="15.1" fill="#f7a9a7"/>
<rect x="1087.8" y="371.8" width="2.8" height="10.2" fill="#94d3cd"/>
<rect x="1091.6" y="370.9" width="2.8" height="11.1" fill="#94d3cd"/>
<rect x="1095.3" y="375.7" width="2.8" height="6.3" fill="#94d3cd"/>
<rect x="1099.1" y="374.9" width="2.8" height="7.1" fill="#94d3cd"/>
<rect x="1102.8" y="369.1" width="2.8" height="12.9" fill="#f7a9a7"/>
<rect x="1106.6" y="372.3" width="2.8" height="9.7" fill="#94d3cd"/>
<rect x="1110.4" y="375.3" width="2.8" height="6.7" fill="#f7a9a7"/>
<rect x="1114.1" y="373.0" width="2.8" height="9.0" fill="#f7a9a7"/>
<rect x="1117.9" y="374.7" width="2.8" height="7.3" fill="#94d3cd"/>
<rect x="1121.7" y="378.0" width="2.8" height="4.0" fill="#94d3cd"/>
<rect x="1125.4" y="376.7" width="2.8" height="5.3" fill="#f7a9a7"/>
<rect x="1129.2" y="373.9" width="2.8" height="8.1" fill="#f7a9a7"/>
<rect x="1132.9" y="377.4" width="2.8" height="4.6" fill="#f7a9a7"/>
<rect x="1136.7" y="377.3" width="2.8" height="4.7" fill="#f7a9a7"/>
<rect x="1140.5" y="379.2" width="2.8" height="2.8" fill="#f7a9a7"/>
<rect x="1144.2" y="377.7" width="2.8" height="4.3" fill="#f7a9a7"/>
<rect x="1148.0" y="360.0" width="2.8" height="22.0" fill="#f7a9a7"/>
<rect x="1151.7" y="372.7" width="2.8" height="9.3" fill="#94d3cd"/>
<rect x="1155.5" y="372.7" width="2.8" height="9.3" fill="#f7a9a7"/>
<rect x="1159.3" y="370.7" width="2.8" height="11.3" fill="#94d3cd"/>
<rect x="1163.0" y="378.9" width="2.8" height="3.1" fill="#94d3cd"/>
<rect x="1166.8" y="373.9" width="2.8" height="8.1" fill="#94d3cd"/>
<rect x="1170.6" y="377.1" width="2.8" height="4.9" fill="#94d3cd"/>
<rect x="1174.3" y="352.0" width="2.8" height="30.0" fill="#f7a9a7"/>
<rect x="1178.1" y="376.9" width="2.8" height="5.1" fill="#f7a9a7"/>
<rect x="1181.8" y="375.3" width="2.8" height="6.7" fill="#f7a9a7"/>
<rect x="1185.6" y="376.3" width="2.8" height="5.7" fill="#f7a9a7"/>
<rect x="1189.4" y="373.9" width="2.8" height="8.1" fill="#94d3cd"/>
<rect x="1193.1" y="374.6" width="2.8" height="7.4" fill="#94d3cd"/>
<rect x="1196.9" y="368.7" width="2.8" height="13.3" fill="#94d3cd"/>
<rect x="1200.7" y="368.0" width="2.8" height="14.0" fill="#f7a9a7"/>
<rect x="1204.4" y="369.5" width="2.8" height="12.5" fill="#f7a9a7"/>
<rect x="1208.2" y="368.6" width="2.8" height="13.4" fill="#f7a9a7"/>
<rect x="1211.9" y="375.4" width="2.8" height="6.6" fill="#94d3cd"/>
<rect x="1215.7" y="377.6" width="2.8" height="4.4" fill="#f7a9a7"/>
<rect x="1219.5" y="376.2" width="2.8" height="5.8" fill="#94d3cd"/>
<rect x="1223.2" y="375.0" width="2.8" height="7.0" fill="#f7a9a7"/>
<rect x="1227.0" y="378.9" width="2.8" height="3.1" fill="#94d3cd"/>
<rect x="1230.7" y="379.3" width="2.8" height="2.7" fill="#94d3cd"/>
<rect x="1234.5" y="375.8" width="2.8" height="6.2" fill="#94d3cd"/>
<rect x="1238.3" y="368.4" width="2.8" height="13.6" fill="#94d3cd"/>
<rect x="1242.0" y="366.8" width="2.8" height="15.2" fill="#f7a9a7"/>
<rect x="1245.8" y="367.0" width="2.8" height="15.0" fill="#94d3cd"/>
<rect x="1249.6" y="379.3" width="2.8" height="2.7" fill="#94d3cd"/>
<rect x="1253.3" y="375.8" width="2.8" height="6.2" fill="#94d3cd"/>
<rect x="1257.1" y="376.9" width="2.8" height="5.1" fill="#f7a9a7"/>
<rect x="1260.8" y="378.0" width="2.8" height="4.0" fill="#f7a9a7"/>
<rect x="1264.6" y="378.4" width="2.8" height="3.6" fill="#f7a9a7"/>
<rect x="1268.4" y="358.0" width="2.8" height="24.0" fill="#94d3cd"/>
<rect x="1272.1" y="375.0" width="2.8" height="7.0" fill="#f7a9a7"/>
<rect x="1275.9" y="378.5" width="2.8" height="3.5" fill="#94d3cd"/>
<rect x="1279.6" y="379.4" width="2.8" height="2.6" fill="#f7a9a7"/>
<rect x="1283.4" y="377.7" width="2.8" height="4.3" fill="#f7a9a7"/>
<rect x="1287.2" y="374.8" width="2.8" height="7.2" fill="#f7a9a7"/>
<rect x="1290.9" y="379.3" width="2.8" height="2.7" fill="#94d3cd"/>
<rect x="1294.7" y="379.2" width="2.8" height="2.8" fill="#94d3cd"/>
<rect x="1298.5" y="376.2" width="2.8" height="5.8" fill="#f7a9a7"/>
<rect x="1302.2" y="373.7" width="2.8" height="8.3" fill="#94d3cd"/>
<rect x="1306.0" y="377.2" width="2.8" height="4.8" fill="#f7a9a7"/>
<rect x="1309.7" y="374.1" width="2.8" height="7.9" fill="#94d3cd"/>
<rect x="1313.5" y="376.2" width="2.8" height="5.8" fill="#f7a9a7"/>
<rect x="1317.3" y="377.5" width="2.8" height="4.5" fill="#94d3cd"/>
<rect x="1321.0" y="376.8" width="2.8" height="5.2" fill="#94d3cd"/>
<rect x="1324.8" y="347.0" width="2.8" height="35.0" fill="#f7a9a7"/>
<rect x="1328.5" y="375.5" width="2.8" height="6.5" fill="#f7a9a7"/>
<rect x="1332.3" y="371.0" width="2.8" height="11.0" fill="#f7a9a7"/>
<rect x="1336.1" y="378.6" width="2.8" height="3.4" fill="#f7a9a7"/>
<rect x="1339.8" y="376.0" width="2.8" height="6.0" fill="#94d3cd"/>
<rect x="1343.6" y="377.4" width="2.8" height="4.6" fill="#94d3cd"/>
<rect x="1347.4" y="378.4" width="2.8" height="3.6" fill="#f7a9a7"/>
<rect x="1351.1" y="374.5" width="2.8" height="7.5" fill="#f7a9a7"/>
<rect x="1354.9" y="375.4" width="2.8" height="6.6" fill="#f7a9a7"/>
<rect x="1358.6" y="378.9" width="2.8" height="3.1" fill="#f7a9a7"/>
<rect x="1362.4" y="375.8" width="2.8" height="6.2" fill="#f7a9a7"/>
<rect x="1366.2" y="372.9" width="2.8" height="9.1" fill="#94d3cd"/>
<rect x="1369.9" y="373.9" width="2.8" height="8.1" fill="#94d3cd"/>
<rect x="1373.7" y="376.8" width="2.8" height="5.2" fill="#f7a9a7"/>
<rect x="1377.5" y="372.8" width="2.8" height="9.2" fill="#94d3cd"/>
<rect x="1381.2" y="378.9" width="2.8" height="3.1" fill="#94d3cd"/>
<rect x="1385.0" y="377.6" width="2.8" height="4.4" fill="#f7a9a7"/>
<rect x="1388.7" y="378.9" width="2.8" height="3.1" fill="#94d3cd"/>
<rect x="1392.5" y="373.9" width="2.8" height="8.1" fill="#f7a9a7"/>
<rect x="1396.3" y="379.2" width="2.8" height="2.8" fill="#f7a9a7"/>
<rect x="1400.0" y="377.7" width="2.8" height="4.3" fill="#94d3cd"/>
<rect x="1403.8" y="377.7" width="2.8" height="4.3" fill="#f7a9a7"/>
<rect x="1407.5" y="374.9" width="2.8" height="7.1" fill="#94d3cd"/>
<rect x="1411.3" y="373.5" width="2.8" height="8.5" fill="#94d3cd"/>
<rect x="1415.1" y="370.3" width="2.8" height="11.7" fill="#94d3cd"/>
<rect x="1418.8" y="378.5" width="2.8" height="3.5" fill="#94d3cd"/>
<rect x="1422.6" y="379.5" width="2.8" height="2.5" fill="#f7a9a7"/>
<rect x="1426.4" y="374.2" width="2.8" height="7.8" fill="#f7a9a7"/>
<rect x="1430.1" y="376.2" width="2.8" height="5.8" fill="#94d3cd"/>
<rect x="1433.9" y="376.5" width="2.8" height="5.5" fill="#f7a9a7"/>
<rect x="1437.6" y="376.4" width="2.8" height="5.6" fill="#94d3cd"/>
<rect x="1441.4" y="281.8" width="2.8" height="100.2" fill="#94d3cd"/>
<rect x="1445.2" y="369.9" width="2.8" height="12.1" fill="#f7a9a7"/>
<rect x="1448.9" y="377.3" width="2.8" height="4.7" fill="#94d3cd"/>
<rect x="1452.7" y="377.1" width="2.8" height="4.9" fill="#94d3cd"/>
<rect x="1456.4" y="353.0" width="2.8" height="29.0" fill="#f7a9a7"/>
<rect x="1460.2" y="374.1" width="2.8" height="7.9" fill="#f7a9a7"/>
<rect x="1464.0" y="372.8" width="2.8" height="9.2" fill="#94d3cd"/>
<rect x="1467.7" y="379.3" width="2.8" height="2.7" fill="#f7a9a7"/>
<rect x="1471.5" y="373.3" width="2.8" height="8.7" fill="#f7a9a7"/>
<rect x="1475.3" y="377.3" width="2.8" height="4.7" fill="#f7a9a7"/>
<rect x="1479.0" y="373.2" width="2.8" height="8.8" fill="#f7a9a7"/>
<rect x="1482.8" y="373.5" width="2.8" height="8.5" fill="#f7a9a7"/>
<rect x="1486.5" y="332.0" width="2.8" height="50.0" fill="#f7a9a7"/>
<rect x="1490.3" y="357.0" width="2.8" height="25.0" fill="#94d3cd"/>
<rect x="1494.1" y="375.8" width="2.8" height="6.2" fill="#f7a9a7"/>
<rect x="1497.8" y="371.7" width="2.8" height="10.3" fill="#f7a9a7"/>
<rect x="1501.6" y="372.8" width="2.8" height="9.2" fill="#94d3cd"/>
<rect x="1505.3" y="373.3" width="2.8" height="8.7" fill="#94d3cd"/>
<rect x="1509.1" y="369.1" width="2.8" height="12.9" fill="#f7a9a7"/>
<rect x="1512.9" y="375.3" width="2.8" height="6.7" fill="#f7a9a7"/>
<rect x="1516.6" y="373.3" width="2.8" height="8.7" fill="#94d3cd"/>
<rect x="1520.4" y="377.7" width="2.8" height="4.3" fill="#f7a9a7"/>
<rect x="1524.2" y="356.0" width="2.8" height="26.0" fill="#f7a9a7"/>
<rect x="1527.9" y="378.9" width="2.8" height="3.1" fill="#f7a9a7"/>
<rect x="1531.7" y="378.4" width="2.8" height="3.6" fill="#f7a9a7"/>
<rect x="1535.4" y="379.2" width="2.8" height="2.8" fill="#f7a9a7"/>
<rect x="1539.2" y="375.7" width="2.8" height="6.3" fill="#f7a9a7"/>
<rect x="1543.0" y="378.7" width="2.8" height="3.3" fill="#94d3cd"/>
<rect x="1546.7" y="378.4" width="2.8" height="3.6" fill="#94d3cd"/>
<rect x="1550.5" y="377.2" width="2.8" height="4.8" fill="#94d3cd"/>
<rect x="1554.3" y="379.5" width="2.8" height="2.5" fill="#94d3cd"/>
<rect x="1558.0" y="369.4" width="2.8" height="12.6" fill="#f7a9a7"/>
<rect x="1561.8" y="377.1" width="2.8" height="4.9" fill="#f7a9a7"/>
<rect x="1565.5" y="379.0" width="2.8" height="3.0" fill="#94d3cd"/>
<rect x="1569.3" y="378.4" width="2.8" height="3.6" fill="#f7a9a7"/>
<rect x="1573.1" y="376.1" width="2.8" height="5.9" fill="#94d3cd"/>
<rect x="1576.8" y="372.1" width="2.8" height="9.9" fill="#f7a9a7"/>
<rect x="1580.6" y="378.7" width="2.8" height="3.3" fill="#f7a9a7"/>
<rect x="1584.3" y="373.6" width="2.8" height="8.4" fill="#f7a9a7"/>
<rect x="1588.1" y="376.4" width="2.8" height="5.6" fill="#f7a9a7"/>
<rect x="1591.9" y="378.7" width="2.8" height="3.3" fill="#94d3cd"/>
<rect x="1595.6" y="377.0" width="2.8" height="5.0" fill="#f7a9a7"/>
<rect x="1599.4" y="373.5" width="2.8" height="8.5" fill="#94d3cd"/>
<rect x="1603.2" y="337.0" width="2.8" height="45.0" fill="#f7a9a7"/>
<rect x="1606.9" y="376.8" width="2.8" height="5.2" fill="#94d3cd"/>
<rect x="1610.7" y="340.0" width="2.8" height="42.0" fill="#94d3cd"/>
<rect x="1614.4" y="373.0" width="2.8" height="9.0" fill="#f7a9a7"/>
<rect x="1618.2" y="379.2" width="2.8" height="2.8" fill="#f7a9a7"/>
<rect x="1622.0" y="360.0" width="2.8" height="22.0" fill="#94d3cd"/>
<rect x="1625.7" y="376.7" width="2.8" height="5.3" fill="#f7a9a7"/>
<rect x="1629.5" y="377.0" width="2.8" height="5.0" fill="#f7a9a7"/>
<rect x="1633.2" y="377.8" width="2.8" height="4.2" fill="#f7a9a7"/>
<rect x="1637.0" y="370.3" width="2.8" height="11.7" fill="#94d3cd"/>
<rect x="1640.8" y="373.5" width="2.8" height="8.5" fill="#94d3cd"/>
<rect x="1644.5" y="375.2" width="2.8" height="6.8" fill="#94d3cd"/>
<rect x="1648.3" y="373.8" width="2.8" height="8.2" fill="#94d3cd"/>
<rect x="1652.1" y="379.4" width="2.8" height="2.6" fill="#94d3cd"/>
<rect x="1655.8" y="376.2" width="2.8" height="5.8" fill="#f7a9a7"/>
<rect x="1659.6" y="373.5" width="2.8" height="8.5" fill="#94d3cd"/>
<rect x="1663.3" y="368.0" width="2.8" height="14.0" fill="#f7a9a7"/>
<rect x="1667.1" y="375.1" width="2.8" height="6.9" fill="#f7a9a7"/>
<rect x="1670.9" y="375.8" width="2.8" height="6.2" fill="#94d3cd"/>
<rect x="1674.6" y="375.9" width="2.8" height="6.1" fill="#94d3cd"/>
<rect x="1678.4" y="373.8" width="2.8" height="8.2" fill="#94d3cd"/>
<rect x="1682.1" y="369.1" width="2.8" height="12.9" fill="#f7a9a7"/>
<rect x="1685.9" y="371.5" width="2.8" height="10.5" fill="#94d3cd"/>
<rect x="1689.7" y="378.7" width="2.8" height="3.3" fill="#f7a9a7"/>
<rect x="1693.4" y="374.6" width="2.8" height="7.4" fill="#94d3cd"/>
<rect x="1697.2" y="379.2" width="2.8" height="2.8" fill="#f7a9a7"/>
<rect x="1701.0" y="374.5" width="2.8" height="7.5" fill="#f7a9a7"/>
<rect x="1704.7" y="365.2" width="2.8" height="16.8" fill="#f7a9a7"/>
<rect x="1708.5" y="373.4" width="2.8" height="8.6" fill="#f7a9a7"/>
<rect x="1712.2" y="375.4" width="2.8" height="6.6" fill="#94d3cd"/>
<rect x="1716.0" y="368.1" width="2.8" height="13.9" fill="#94d3cd"/>
<rect x="1719.8" y="375.3" width="2.8" height="6.7" fill="#94d3cd"/>
<rect x="1723.5" y="369.7" width="2.8" height="12.3" fill="#94d3cd"/>
<rect x="1727.3" y="373.2" width="2.8" height="8.8" fill="#f7a9a7"/>
<rect x="1731.1" y="377.3" width="2.8" height="4.7" fill="#f7a9a7"/>
<rect x="1734.8" y="367.1" width="2.8" height="14.9" fill="#f7a9a7"/>
<rect x="1738.6" y="376.1" width="2.8" height="5.9" fill="#f7a9a7"/>
<rect x="1742.3" y="379.5" width="2.8" height="2.5" fill="#f7a9a7"/>
<rect x="1746.1" y="373.7" width="2.8" height="8.3" fill="#94d3cd"/>
<rect x="1749.9" y="376.0" width="2.8" height="6.0" fill="#f7a9a7"/>
<rect x="1753.6" y="375.6" width="2.8" height="6.4" fill="#94d3cd"/>
<rect x="1757.4" y="377.5" width="2.8" height="4.5" fill="#f7a9a7"/>
<rect x="1761.1" y="379.1" width="2.8" height="2.9" fill="#f7a9a7"/>
<rect x="1764.9" y="373.5" width="2.8" height="8.5" fill="#f7a9a7"/>
<rect x="1768.7" y="376.8" width="2.8" height="5.2" fill="#f7a9a7"/>
<rect x="1772.4" y="376.5" width="2.8" height="5.5" fill="#f7a9a7"/>
<rect x="1776.2" y="379.1" width="2.8" height="2.9" fill="#f7a9a7"/>
<rect x="1780.0" y="357.0" width="2.8" height="25.0" fill="#f7a9a7"/>
<rect x="1783.7" y="377.7" width="2.8" height="4.3" fill="#f7a9a7"/>
<rect x="1787.5" y="372.3" width="2.8" height="9.7" fill="#94d3cd"/>
<rect x="1791.2" y="376.5" width="2.8" height="5.5" fill="#94d3cd"/>
<rect x="1795.0" y="375.3" width="2.8" height="6.7" fill="#f7a9a7"/>
<rect x="1798.8" y="368.9" width="2.8" height="13.1" fill="#94d3cd"/>
<rect x="1802.5" y="378.4" width="2.8" height="3.6" fill="#94d3cd"/>
<rect x="1806.3" y="378.5" width="2.8" height="3.5" fill="#94d3cd"/>
<path d="M305.0,93.8 L307.8,93.6 L313.2,93.2 L320.0,96.8 L328.0,104.2 L335.0,112.8 L341.0,122.2 L347.5,127.8 L354.5,129.2 L361.1,137.8 L367.4,153.2 L374.1,163.5 L381.4,168.5 L388.0,172.5 L394.0,175.5 L398.2,180.0 L400.8,186.0 L409.0,188.5 L423.0,187.5 L434.5,182.2 L443.5,172.8 L451.5,162.8 L458.5,152.2 L466.5,142.0 L475.5,132.0 L484.0,126.6 L492.0,125.9 L500.0,129.1 L508.0,136.4 L515.5,136.0 L522.5,128.0 L531.2,123.0 L541.8,121.0 L551.2,117.8 L559.8,113.6 L569.2,111.0 L579.8,110.1 L591.2,115.8 L603.8,127.9 L613.5,135.8 L620.5,139.6 L628.5,145.3 L637.5,153.1 L647.2,169.4 L657.8,194.3 L667.4,217.3 L676.1,238.4 L683.1,253.8 L688.4,263.2 L694.5,269.2 L701.5,271.8 L708.5,271.8 L715.5,269.2 L722.5,262.4 L729.5,251.1 L738.4,238.4 L749.2,224.1 L758.6,213.5 L766.5,206.5 L777.1,206.5 L790.4,213.5 L800.4,215.2 L807.2,211.8 L816.3,203.0 L827.8,189.0 L841.0,182.0 L856.0,182.0 L866.6,183.8 L872.9,187.2 L877.8,184.5 L881.2,175.5 L885.2,149.0 L889.5,105.0 L894.3,76.2 L899.4,62.8 L905.2,50.8 L911.8,40.2 L918.8,33.8 L926.2,31.2 L933.8,33.8 L941.2,41.2 L946.7,49.7 L950.0,59.1 L956.0,64.7 L964.7,66.4 L972.5,66.4 L979.5,64.7 L990.1,69.1 L1004.5,79.7 L1017.7,91.6 L1029.9,104.8 L1041.7,110.6 L1053.1,108.8 L1061.8,109.2 L1068.0,111.8 L1075.5,108.7 L1084.3,99.9 L1094.1,89.4 L1104.7,77.1 L1113.5,70.0 L1120.5,68.2 L1126.7,70.4 L1132.0,76.6 L1140.0,77.2 L1150.5,72.3 L1159.8,70.3 L1167.7,71.5 L1174.8,74.8 L1180.9,80.2 L1188.4,87.5 L1197.3,96.4 L1206.0,102.4 L1214.7,105.5 L1224.4,106.3 L1235.1,105.1 L1242.2,108.8 L1245.8,117.6 L1251.9,119.8 L1260.6,115.2 L1269.5,112.4 L1278.3,111.3 L1288.1,111.3 L1298.7,112.4 L1306.5,110.8 L1311.5,106.6 L1316.7,99.6 L1322.0,89.8 L1330.0,85.2 L1340.6,85.8 L1352.9,84.9 L1367.0,82.6 L1377.5,85.0 L1384.5,92.1 L1390.7,104.8 L1396.1,123.3 L1402.3,135.2 L1409.4,140.4 L1414.7,144.8 L1418.2,148.2 L1424.4,148.2 L1433.2,144.8 L1441.9,135.1 L1450.7,119.3 L1462.1,107.8 L1476.3,100.6 L1487.8,93.4 L1496.6,86.1 L1503.7,82.6 L1508.9,82.9 L1515.1,90.1 L1522.2,104.3 L1530.1,129.9 L1539.0,167.0 L1545.1,186.8 L1548.3,189.5 L1553.5,193.5 L1560.5,198.8 L1572.8,201.8 L1590.2,202.6 L1603.5,197.2 L1612.5,185.8 L1620.5,180.7 L1627.5,182.0 L1639.0,181.2 L1654.9,178.2 L1667.7,174.9 L1677.2,171.4 L1686.9,171.8 L1696.8,176.3 L1709.5,178.5 L1725.2,178.5 L1737.5,182.0 L1746.5,189.1 L1754.5,194.3 L1761.5,197.8 L1772.0,196.5 L1786.0,190.4 L1797.2,190.0 L1805.8,195.2 L1810.0,197.9" fill="none" stroke="#3f9d95" stroke-width="1.1" stroke-linejoin="round"/>
<path d="M305.0,190.8 L311.2,199.1 L323.8,215.7 L337.5,229.8 L352.5,241.2 L366.2,244.8 L378.8,240.2 L387.5,239.0 L392.5,241.0 L398.8,240.7 L406.2,238.0 L417.5,236.7 L432.5,236.7 L445.0,238.7 L455.0,242.8 L465.0,240.6 L475.0,232.2 L486.2,218.2 L498.8,198.8 L508.8,186.8 L516.2,182.2 L526.2,179.2 L538.8,177.5 L549.8,179.8 L559.2,185.9 L572.0,201.3 L588.0,226.1 L601.2,245.5 L611.8,259.6 L621.4,282.5 L630.2,314.1 L640.0,331.8 L650.6,335.2 L661.2,336.2 L671.8,334.5 L682.2,329.3 L692.8,320.4 L701.5,315.1 L708.5,313.4 L717.2,315.1 L727.8,320.4 L738.4,325.2 L749.2,329.8 L759.9,326.2 L770.4,314.8 L781.0,300.6 L791.7,283.9 L800.2,276.4 L806.8,278.1 L811.9,279.9 L815.7,281.6 L824.7,282.9 L838.8,283.6 L852.0,274.8 L864.4,256.2 L871.9,245.8 L874.6,243.2 L877.0,243.3 L879.0,245.9 L881.6,252.6 L884.8,263.6 L888.0,271.5 L891.4,276.5 L895.2,282.1 L899.5,288.3 L903.5,291.3 L907.2,291.1 L910.0,290.0 L912.0,288.0 L914.0,285.0 L916.0,281.0 L918.2,274.2 L920.8,264.8 L923.6,254.9 L926.7,244.8 L929.1,237.3 L930.9,232.4 L934.9,209.2 L941.4,167.5 L947.2,140.5 L952.4,128.2 L957.7,127.8 L963.1,139.2 L971.1,145.9 L981.7,147.6 L993.1,150.2 L1005.5,153.8 L1016.9,156.4 L1027.5,158.1 L1037.1,161.2 L1045.7,165.7 L1054.4,166.9 L1063.2,165.0 L1074.7,165.0 L1088.8,166.9 L1101.2,167.7 L1111.7,167.2 L1121.4,159.8 L1130.3,145.2 L1138.2,142.8 L1145.3,152.2 L1153.1,158.8 L1161.7,162.2 L1170.5,165.2 L1179.5,167.4 L1191.0,168.2 L1205.0,167.4 L1219.1,167.0 L1233.4,167.0 L1242.2,165.0 L1245.8,161.0 L1254.5,159.4 L1268.7,160.4 L1281.0,159.5 L1291.7,156.8 L1302.2,156.4 L1312.4,158.1 L1321.9,162.1 L1330.7,168.3 L1341.2,175.8 L1353.8,184.6 L1367.9,193.8 L1383.8,203.6 L1394.3,204.0 L1399.4,195.2 L1407.4,191.7 L1418.1,193.4 L1427.9,195.6 L1436.6,198.3 L1449.0,198.3 L1464.8,195.6 L1477.2,200.9 L1486.1,214.2 L1495.8,234.9 L1506.3,262.9 L1515.1,283.2 L1522.2,295.8 L1530.1,297.5 L1539.0,288.5 L1547.6,281.2 L1555.8,275.8 L1564.5,272.8 L1573.5,272.2 L1582.5,273.2 L1591.4,275.8 L1598.5,273.5 L1603.8,266.5 L1609.9,264.4 L1617.0,267.0 L1626.6,271.5 L1638.9,277.6 L1652.1,278.5 L1666.4,274.2 L1680.5,269.2 L1694.7,263.8 L1705.2,259.5 L1712.3,256.5 L1719.3,255.2 L1726.5,255.8 L1734.4,257.8 L1743.1,261.2 L1753.6,263.9 L1765.9,265.7 L1777.3,274.1 L1788.1,289.1 L1797.6,297.1 L1805.8,297.9 L1810.0,298.4" fill="none" stroke="#3f9d95" stroke-width="1.1" stroke-linejoin="round"/>
<path d="M305.0,143.0 C308.3,145.3 318.3,151.3 325.0,157.0 C331.7,162.7 337.5,170.2 345.0,177.0 C352.5,183.8 360.8,192.2 370.0,198.0 C379.2,203.8 390.0,210.0 400.0,212.0 C410.0,214.0 420.0,213.2 430.0,210.0 C440.0,206.8 450.0,199.0 460.0,192.5 C470.0,186.0 480.8,177.2 490.0,171.0 C499.2,164.8 507.5,159.1 515.0,155.5 C522.5,151.9 529.2,150.7 535.0,149.5 C540.8,148.3 541.7,146.6 550.0,148.5 C558.3,150.4 575.0,153.1 585.0,161.0 C595.0,168.9 601.7,183.1 610.0,196.0 C618.3,208.9 625.8,226.1 634.6,238.4 C643.4,250.7 654.2,260.9 663.0,270.0 C671.8,279.1 680.6,288.9 687.6,293.0 C694.6,297.1 698.6,294.6 705.0,294.9 C711.4,295.2 718.9,297.9 726.0,294.9 C733.1,291.9 739.8,282.6 747.5,277.0 C755.2,271.4 763.8,265.1 772.0,261.0 C780.2,256.9 788.8,256.6 797.0,252.5 C805.2,248.4 814.0,239.9 821.0,236.7 C828.0,233.4 833.5,234.2 838.8,233.0 C844.1,231.8 846.5,233.4 853.0,229.6 C859.5,225.8 868.8,219.7 877.6,210.0 C886.4,200.3 897.0,185.5 905.8,171.4 C914.6,157.3 923.5,137.2 930.5,125.5 C937.5,113.8 942.8,106.2 948.0,100.9 C953.2,95.6 956.2,93.0 962.0,93.8 C967.8,94.6 974.7,101.9 983.0,106.0 C991.3,110.1 1002.1,114.4 1011.6,118.5 C1021.1,122.6 1031.3,127.5 1040.0,130.8 C1048.7,134.2 1056.5,137.7 1064.0,138.6 C1071.5,139.5 1077.9,138.2 1085.0,136.0 C1092.1,133.8 1098.7,129.9 1106.4,125.5 C1114.1,121.1 1123.9,111.5 1131.0,109.7 C1138.1,108.0 1142.3,113.5 1148.8,115.0 C1155.3,116.5 1163.0,115.6 1170.0,118.5 C1177.0,121.4 1184.0,129.3 1191.0,132.6 C1198.0,135.8 1203.8,137.3 1212.0,138.0 C1220.2,138.7 1232.2,136.8 1240.5,136.8 C1248.8,136.8 1253.3,138.2 1261.6,138.0 C1269.8,137.8 1283.6,135.7 1290.0,135.4 C1296.4,135.1 1294.2,137.7 1300.0,136.0 C1305.8,134.3 1317.0,126.4 1324.7,125.5 C1332.4,124.6 1338.3,128.2 1345.9,130.8 C1353.5,133.5 1361.7,136.1 1370.5,141.4 C1379.3,146.7 1390.5,157.9 1398.8,162.6 C1407.0,167.3 1413.0,169.9 1420.0,169.6 C1427.0,169.3 1433.4,164.2 1441.0,160.8 C1448.6,157.5 1458.1,150.7 1465.8,149.5 C1473.5,148.3 1479.4,149.0 1487.0,153.8 C1494.6,158.6 1504.0,168.5 1511.6,178.5 C1519.2,188.5 1526.9,204.9 1532.8,213.7 C1538.7,222.5 1540.6,227.4 1547.0,231.4 C1553.4,235.4 1563.5,236.2 1571.0,237.7 C1578.5,239.2 1584.3,242.4 1592.0,240.2 C1599.7,238.0 1609.3,225.8 1617.0,224.3 C1624.7,222.8 1631.5,230.8 1638.0,231.4 C1644.5,232.0 1649.9,229.6 1655.8,227.8 C1661.7,226.0 1665.3,222.4 1673.5,220.8 C1681.7,219.2 1695.0,218.3 1705.0,218.0 C1715.0,217.7 1724.0,217.9 1733.4,219.0 C1742.8,220.1 1753.4,221.6 1761.6,224.3 C1769.8,227.0 1774.7,231.2 1782.8,235.0 C1790.9,238.8 1805.5,245.0 1810.0,247.0" fill="none" stroke="#94403d" stroke-width="1"/>
<line x1="306.8" x2="306.8" y1="178.5" y2="179.4" stroke="#26a69a" stroke-width="1"/>
<line x1="306.8" x2="306.8" y1="181.7" y2="182.9" stroke="#26a69a" stroke-width="1"/>
<rect x="305.7" y="179.4" width="2.2" height="2.3" fill="none" stroke="#26a69a" stroke-width="1"/>
<line x1="310.5" x2="310.5" y1="174.8" y2="183.1" stroke="#ef5350" stroke-width="1"/>
<rect x="309.0" y="179.0" width="3" height="2.4" fill="#ef5350"/>
<line x1="314.3" x2="314.3" y1="180.3" y2="200.1" stroke="#ef5350" stroke-width="1"/>
<rect x="312.8" y="181.8" width="3" height="17.6" fill="#ef5350"/>
<line x1="318.1" x2="318.1" y1="178.4" y2="180.3" stroke="#26a69a" stroke-width="1"/>
<line x1="318.1" x2="318.1" y1="200.7" y2="202.6" stroke="#26a69a" stroke-width="1"/>
<rect x="317.0" y="180.3" width="2.2" height="20.4" fill="none" stroke="#26a69a" stroke-width="1"/>
<line x1="321.8" x2="321.8" y1="166.3" y2="169.7" stroke="#26a69a" stroke-width="1"/>
<line x1="321.8" x2="321.8" y1="177.7" y2="179.5" stroke="#26a69a" stroke-width="1"/>
<rect x="320.7" y="169.7" width="2.2" height="8.0" fill="none" stroke="#26a69a" stroke-width="1"/>
<line x1="325.6" x2="325.6" y1="167.7" y2="185.4" stroke="#ef5350" stroke-width="1"/>
<rect x="324.1" y="169.6" width="3" height="13.3" fill="#ef5350"/>
<line x1="329.3" x2="329.3" y1="181.1" y2="230.0" stroke="#ef5350" stroke-width="1"/>
<rect x="327.8" y="183.6" width="3" height="39.9" fill="#ef5350"/>
<line x1="333.1" x2="333.1" y1="216.1" y2="218.4" stroke="#26a69a" stroke-width="1"/>
<line x1="333.1" x2="333.1" y1="225.3" y2="228.1" stroke="#26a69a" stroke-width="1"/>
<rect x="332.0" y="218.4" width="2.2" height="6.9" fill="none" stroke="#26a69a" stroke-width="1"/>
<line x1="336.9" x2="336.9" y1="204.0" y2="206.4" stroke="#26a69a" stroke-width="1"/>
<line x1="336.9" x2="336.9" y1="218.3" y2="219.2" stroke="#26a69a" stroke-width="1"/>
<rect x="335.8" y="206.4" width="2.2" height="11.8" fill="none" stroke="#26a69a" stroke-width="1"/>
<line x1="340.6" x2="340.6" y1="198.6" y2="200.6" stroke="#26a69a" stroke-width="1"/>
<line x1="340.6" x2="340.6" y1="205.0" y2="209.6" stroke="#26a69a" stroke-width="1"/>
<rect x="339.5" y="200.6" width="2.2" height="4.4" fill="none" stroke="#26a69a" stroke-width="1"/>
<line x1="344.4" x2="344.4" y1="198.3" y2="199.9" stroke="#26a69a" stroke-width="1"/>
<line x1="344.4" x2="344.4" y1="201.4" y2="206.6" stroke="#26a69a" stroke-width="1"/>
<rect x="343.3" y="199.9" width="2.2" height="1.5" fill="none" stroke="#26a69a" stroke-width="1"/>
<line x1="348.1" x2="348.1" y1="194.2" y2="207.8" stroke="#ef5350" stroke-width="1"/>
<rect x="346.6" y="201.9" width="3" height="4.7" fill="#ef5350"/>
<line x1="351.9" x2="351.9" y1="203.4" y2="208.4" stroke="#ef5350" stroke-width="1"/>
<rect x="350.4" y="205.3" width="3" height="2.8" fill="#ef5350"/>
<line x1="355.7" x2="355.7" y1="201.0" y2="203.5" stroke="#26a69a" stroke-width="1"/>
<line x1="355.7" x2="355.7" y1="209.4" y2="213.0" stroke="#26a69a" stroke-width="1"/>
<rect x="354.6" y="203.5" width="2.2" height="5.9" fill="none" stroke="#26a69a" stroke-width="1"/>
<line x1="359.4" x2="359.4" y1="203.6" y2="229.4" stroke="#ef5350" stroke-width="1"/>
<rect x="357.9" y="204.0" width="3" height="20.4" fill="#ef5350"/>
<line x1="363.2" x2="363.2" y1="221.3" y2="223.0" stroke="#26a69a" stroke-width="1"/>
<line x1="363.2" x2="363.2" y1="224.5" y2="228.3" stroke="#26a69a" stroke-width="1"/>
<rect x="362.1" y="223.0" width="2.2" height="1.5" fill="none" stroke="#26a69a" stroke-width="1"/>
<line x1="367.0" x2="367.0" y1="206.8" y2="211.7" stroke="#26a69a" stroke-width="1"/>
<line x1="367.0" x2="367.0" y1="222.2" y2="229.9" stroke="#26a69a" stroke-width="1"/>
<rect x="365.9" y="211.7" width="2.2" height="10.5" fill="none" stroke="#26a69a" stroke-width="1"/>
<line x1="370.7" x2="370.7" y1="196.5" y2="202.0" stroke="#26a69a" stroke-width="1"/>
<line x1="370.7" x2="370.7" y1="212.0" y2="214.2" stroke="#26a69a" stroke-width="1"/>
<rect x="369.6" y="202.0" width="2.2" height="10.1" fill="none" stroke="#26a69a" stroke-width="1"/>
<line x1="374.5" x2="374.5" y1="191.2" y2="192.5" stroke="#26a69a" stroke-width="1"/>
<line x1="374.5" x2="374.5" y1="198.2" y2="201.0" stroke="#26a69a" stroke-width="1"/>
<rect x="373.4" y="192.5" width="2.2" height="5.6" fill="none" stroke="#26a69a" stroke-width="1"/>
<line x1="378.2" x2="378.2" y1="189.8" y2="195.3" stroke="#ef5350" stroke-width="1"/>
<rect x="376.7" y="194.0" width="3" height="1.5" fill="#ef5350"/>
<line x1="382.0" x2="382.0" y1="189.3" y2="203.3" stroke="#ef5350" stroke-width="1"/>
<rect x="380.5" y="195.3" width="3" height="5.7" fill="#ef5350"/>
<line x1="385.8" x2="385.8" y1="195.8" y2="207.2" stroke="#ef5350" stroke-width="1"/>
<rect x="384.3" y="201.8" width="3" height="1.5" fill="#ef5350"/>
<line x1="389.5" x2="389.5" y1="195.6" y2="213.4" stroke="#ef5350" stroke-width="1"/>
<rect x="388.0" y="203.1" width="3" height="7.8" fill="#ef5350"/>
<line x1="393.3" x2="393.3" y1="207.6" y2="220.2" stroke="#ef5350" stroke-width="1"/>
<rect x="391.8" y="208.3" width="3" height="8.1" fill="#ef5350"/>
<line x1="397.0" x2="397.0" y1="208.1" y2="210.2" stroke="#26a69a" stroke-width="1"/>
<line x1="397.0" x2="397.0" y1="218.7" y2="219.3" stroke="#26a69a" stroke-width="1"/>
<rect x="395.9" y="210.2" width="2.2" height="8.5" fill="none" stroke="#26a69a" stroke-width="1"/>
<line x1="400.8" x2="400.8" y1="210.7" y2="231.9" stroke="#ef5350" stroke-width="1"/>
<rect x="399.3" y="211.2" width="3" height="16.4" fill="#ef5350"/>
<line x1="404.6" x2="404.6" y1="216.5" y2="220.5" stroke="#26a69a" stroke-width="1"/>
<line x1="404.6" x2="404.6" y1="226.9" y2="227.0" stroke="#26a69a" stroke-width="1"/>
<rect x="403.5" y="220.5" width="2.2" height="6.4" fill="none" stroke="#26a69a" stroke-width="1"/>
<line x1="408.3" x2="408.3" y1="208.4" y2="214.0" stroke="#26a69a" stroke-width="1"/>
<line x1="408.3" x2="408.3" y1="221.9" y2="223.6" stroke="#26a69a" stroke-width="1"/>
<rect x="407.2" y="214.0" width="2.2" height="7.9" fill="none" stroke="#26a69a" stroke-width="1"/>
<line x1="412.1" x2="412.1" y1="205.2" y2="205.8" stroke="#26a69a" stroke-width="1"/>
<line x1="412.1" x2="412.1" y1="213.8" y2="214.9" stroke="#26a69a" stroke-width="1"/>
<rect x="411.0" y="205.8" width="2.2" height="8.0" fill="none" stroke="#26a69a" stroke-width="1"/>
<line x1="415.9" x2="415.9" y1="199.5" y2="222.1" stroke="#ef5350" stroke-width="1"/>
<rect x="414.4" y="204.2" width="3" height="13.0" fill="#ef5350"/>
<line x1="419.6" x2="419.6" y1="194.5" y2="198.8" stroke="#26a69a" stroke-width="1"/>
<line x1="419.6" x2="419.6" y1="218.2" y2="221.4" stroke="#26a69a" stroke-width="1"/>
<rect x="418.5" y="198.8" width="2.2" height="19.4" fill="none" stroke="#26a69a" stroke-width="1"/>
<line x1="423.4" x2="423.4" y1="198.4" y2="214.7" stroke="#ef5350" stroke-width="1"/>
<rect x="421.9" y="199.0" width="3" height="13.5" fill="#ef5350"/>
<line x1="427.1" x2="427.1" y1="210.7" y2="215.9" stroke="#ef5350" stroke-width="1"/>
<rect x="425.6" y="212.9" width="3" height="3.0" fill="#ef5350"/>
<line x1="430.9" x2="430.9" y1="209.1" y2="224.6" stroke="#ef5350" stroke-width="1"/>
<rect x="429.4" y="216.8" width="3" height="6.5" fill="#ef5350"/>
<line x1="434.7" x2="434.7" y1="206.7" y2="206.8" stroke="#26a69a" stroke-width="1"/>
<line x1="434.7" x2="434.7" y1="222.8" y2="226.3" stroke="#26a69a" stroke-width="1"/>
<rect x="433.6" y="206.8" width="2.2" height="16.0" fill="none" stroke="#26a69a" stroke-width="1"/>
<line x1="438.4" x2="438.4" y1="190.9" y2="197.9" stroke="#26a69a" stroke-width="1"/>
<line x1="438.4" x2="438.4" y1="207.4" y2="217.1" stroke="#26a69a" stroke-width="1"/>
<rect x="437.3" y="197.9" width="2.2" height="9.4" fill="none" stroke="#26a69a" stroke-width="1"/>
<line x1="442.2" x2="442.2" y1="184.7" y2="186.2" stroke="#26a69a" stroke-width="1"/>
<line x1="442.2" x2="442.2" y1="198.3" y2="199.2" stroke="#26a69a" stroke-width="1"/>
<rect x="441.1" y="186.2" width="2.2" height="12.1" fill="none" stroke="#26a69a" stroke-width="1"/>
<line x1="445.9" x2="445.9" y1="184.0" y2="185.1" stroke="#26a69a" stroke-width="1"/>
<line x1="445.9" x2="445.9" y1="187.2" y2="189.2" stroke="#26a69a" stroke-width="1"/>
<rect x="444.8" y="185.1" width="2.2" height="2.1" fill="none" stroke="#26a69a" stroke-width="1"/>
<line x1="449.7" x2="449.7" y1="183.5" y2="197.4" stroke="#ef5350" stroke-width="1"/>
<rect x="448.2" y="185.6" width="3" height="11.4" fill="#ef5350"/>
<line x1="453.5" x2="453.5" y1="163.0" y2="173.4" stroke="#26a69a" stroke-width="1"/>
<line x1="453.5" x2="453.5" y1="196.9" y2="198.7" stroke="#26a69a" stroke-width="1"/>
<rect x="452.4" y="173.4" width="2.2" height="23.5" fill="none" stroke="#26a69a" stroke-width="1"/>
<line x1="457.2" x2="457.2" y1="171.3" y2="176.5" stroke="#ef5350" stroke-width="1"/>
<rect x="455.7" y="171.6" width="3" height="1.5" fill="#ef5350"/>
<line x1="461.0" x2="461.0" y1="159.1" y2="165.5" stroke="#26a69a" stroke-width="1"/>
<line x1="461.0" x2="461.0" y1="175.1" y2="176.4" stroke="#26a69a" stroke-width="1"/>
<rect x="459.9" y="165.5" width="2.2" height="9.6" fill="none" stroke="#26a69a" stroke-width="1"/>
<line x1="464.8" x2="464.8" y1="152.0" y2="156.1" stroke="#26a69a" stroke-width="1"/>
<line x1="464.8" x2="464.8" y1="166.5" y2="176.7" stroke="#26a69a" stroke-width="1"/>
<rect x="463.7" y="156.1" width="2.2" height="10.4" fill="none" stroke="#26a69a" stroke-width="1"/>
<line x1="468.5" x2="468.5" y1="151.3" y2="168.1" stroke="#ef5350" stroke-width="1"/>
<rect x="467.0" y="153.9" width="3" height="8.5" fill="#ef5350"/>
<line x1="472.3" x2="472.3" y1="154.1" y2="154.7" stroke="#26a69a" stroke-width="1"/>
<line x1="472.3" x2="472.3" y1="164.2" y2="164.9" stroke="#26a69a" stroke-width="1"/>
<rect x="471.2" y="154.7" width="2.2" height="9.5" fill="none" stroke="#26a69a" stroke-width="1"/>
<line x1="476.0" x2="476.0" y1="154.6" y2="161.2" stroke="#ef5350" stroke-width="1"/>
<rect x="474.5" y="154.9" width="3" height="1.5" fill="#ef5350"/>
<line x1="479.8" x2="479.8" y1="141.3" y2="151.7" stroke="#26a69a" stroke-width="1"/>
<line x1="479.8" x2="479.8" y1="154.9" y2="159.3" stroke="#26a69a" stroke-width="1"/>
<rect x="478.7" y="151.7" width="2.2" height="3.2" fill="none" stroke="#26a69a" stroke-width="1"/>
<line x1="483.6" x2="483.6" y1="147.3" y2="147.8" stroke="#26a69a" stroke-width="1"/>
<line x1="483.6" x2="483.6" y1="151.3" y2="154.0" stroke="#26a69a" stroke-width="1"/>
<rect x="482.5" y="147.8" width="2.2" height="3.5" fill="none" stroke="#26a69a" stroke-width="1"/>
<line x1="487.3" x2="487.3" y1="142.9" y2="158.0" stroke="#ef5350" stroke-width="1"/>
<rect x="485.8" y="148.7" width="3" height="3.5" fill="#ef5350"/>
<line x1="491.1" x2="491.1" y1="146.9" y2="166.7" stroke="#ef5350" stroke-width="1"/>
<rect x="489.6" y="150.8" width="3" height="10.3" fill="#ef5350"/>
<line x1="494.9" x2="494.9" y1="156.6" y2="170.1" stroke="#ef5350" stroke-width="1"/>
<rect x="493.4" y="162.2" width="3" height="4.3" fill="#ef5350"/>
<line x1="498.6" x2="498.6" y1="157.5" y2="160.5" stroke="#26a69a" stroke-width="1"/>
<line x1="498.6" x2="498.6" y1="164.8" y2="170.9" stroke="#26a69a" stroke-width="1"/>
<rect x="497.5" y="160.5" width="2.2" height="4.4" fill="none" stroke="#26a69a" stroke-width="1"/>
<line x1="502.4" x2="502.4" y1="158.6" y2="162.3" stroke="#26a69a" stroke-width="1"/>
<line x1="502.4" x2="502.4" y1="163.8" y2="163.5" stroke="#26a69a" stroke-width="1"/>
<rect x="501.3" y="162.3" width="2.2" height="1.5" fill="none" stroke="#26a69a" stroke-width="1"/>
<line x1="506.1" x2="506.1" y1="159.9" y2="160.2" stroke="#26a69a" stroke-width="1"/>
<line x1="506.1" x2="506.1" y1="164.4" y2="166.7" stroke="#26a69a" stroke-width="1"/>
<rect x="505.0" y="160.2" width="2.2" height="4.2" fill="none" stroke="#26a69a" stroke-width="1"/>
<line x1="509.9" x2="509.9" y1="155.2" y2="168.7" stroke="#ef5350" stroke-width="1"/>
<rect x="508.4" y="160.9" width="3" height="3.9" fill="#ef5350"/>
<line x1="513.7" x2="513.7" y1="153.2" y2="158.8" stroke="#26a69a" stroke-width="1"/>
<line x1="513.7" x2="513.7" y1="167.0" y2="167.7" stroke="#26a69a" stroke-width="1"/>
<rect x="512.6" y="158.8" width="2.2" height="8.3" fill="none" stroke="#26a69a" stroke-width="1"/>
<line x1="517.4" x2="517.4" y1="135.6" y2="136.0" stroke="#26a69a" stroke-width="1"/>
<line x1="517.4" x2="517.4" y1="160.3" y2="160.8" stroke="#26a69a" stroke-width="1"/>
<rect x="516.3" y="136.0" width="2.2" height="24.3" fill="none" stroke="#26a69a" stroke-width="1"/>
<line x1="521.2" x2="521.2" y1="126.9" y2="142.4" stroke="#ef5350" stroke-width="1"/>
<rect x="519.7" y="135.6" width="3" height="5.4" fill="#ef5350"/>
<line x1="524.9" x2="524.9" y1="119.5" y2="120.7" stroke="#26a69a" stroke-width="1"/>
<line x1="524.9" x2="524.9" y1="142.2" y2="144.5" stroke="#26a69a" stroke-width="1"/>
<rect x="523.8" y="120.7" width="2.2" height="21.5" fill="none" stroke="#26a69a" stroke-width="1"/>
<line x1="528.7" x2="528.7" y1="121.6" y2="136.2" stroke="#ef5350" stroke-width="1"/>
<rect x="527.2" y="121.9" width="3" height="9.2" fill="#ef5350"/>
<line x1="532.5" x2="532.5" y1="127.0" y2="139.2" stroke="#ef5350" stroke-width="1"/>
<rect x="531.0" y="132.7" width="3" height="1.5" fill="#ef5350"/>
<line x1="536.2" x2="536.2" y1="126.1" y2="138.5" stroke="#ef5350" stroke-width="1"/>
<rect x="534.7" y="133.2" width="3" height="1.5" fill="#ef5350"/>
<line x1="540.0" x2="540.0" y1="124.5" y2="129.2" stroke="#26a69a" stroke-width="1"/>
<line x1="540.0" x2="540.0" y1="134.8" y2="134.9" stroke="#26a69a" stroke-width="1"/>
<rect x="538.9" y="129.2" width="2.2" height="5.6" fill="none" stroke="#26a69a" stroke-width="1"/>
<line x1="543.8" x2="543.8" y1="126.9" y2="142.6" stroke="#ef5350" stroke-width="1"/>
<rect x="542.3" y="129.2" width="3" height="12.6" fill="#ef5350"/>
<line x1="547.5" x2="547.5" y1="139.8" y2="159.3" stroke="#ef5350" stroke-width="1"/>
<rect x="546.0" y="141.8" width="3" height="13.7" fill="#ef5350"/>
<line x1="551.3" x2="551.3" y1="143.3" y2="145.5" stroke="#26a69a" stroke-width="1"/>
<line x1="551.3" x2="551.3" y1="153.6" y2="157.7" stroke="#26a69a" stroke-width="1"/>
<rect x="550.2" y="145.5" width="2.2" height="8.2" fill="none" stroke="#26a69a" stroke-width="1"/>
<line x1="555.0" x2="555.0" y1="140.7" y2="149.2" stroke="#ef5350" stroke-width="1"/>
<rect x="553.5" y="144.6" width="3" height="1.7" fill="#ef5350"/>
<line x1="558.8" x2="558.8" y1="146.8" y2="171.9" stroke="#ef5350" stroke-width="1"/>
<rect x="557.3" y="147.4" width="3" height="20.0" fill="#ef5350"/>
<line x1="562.6" x2="562.6" y1="163.0" y2="176.6" stroke="#ef5350" stroke-width="1"/>
<rect x="561.1" y="166.5" width="3" height="7.9" fill="#ef5350"/>
<line x1="566.3" x2="566.3" y1="167.4" y2="190.1" stroke="#ef5350" stroke-width="1"/>
<rect x="564.8" y="173.3" width="3" height="16.4" fill="#ef5350"/>
<line x1="570.1" x2="570.1" y1="176.4" y2="185.4" stroke="#26a69a" stroke-width="1"/>
<line x1="570.1" x2="570.1" y1="190.2" y2="191.5" stroke="#26a69a" stroke-width="1"/>
<rect x="569.0" y="185.4" width="2.2" height="4.8" fill="none" stroke="#26a69a" stroke-width="1"/>
<line x1="573.8" x2="573.8" y1="179.7" y2="187.0" stroke="#ef5350" stroke-width="1"/>
<rect x="572.3" y="182.4" width="3" height="3.5" fill="#ef5350"/>
<line x1="577.6" x2="577.6" y1="175.8" y2="176.9" stroke="#26a69a" stroke-width="1"/>
<line x1="577.6" x2="577.6" y1="184.6" y2="186.4" stroke="#26a69a" stroke-width="1"/>
<rect x="576.5" y="176.9" width="2.2" height="7.7" fill="none" stroke="#26a69a" stroke-width="1"/>
<line x1="581.4" x2="581.4" y1="175.5" y2="198.1" stroke="#ef5350" stroke-width="1"/>
<rect x="579.9" y="178.0" width="3" height="18.8" fill="#ef5350"/>
<line x1="585.1" x2="585.1" y1="196.1" y2="210.3" stroke="#ef5350" stroke-width="1"/>
<rect x="583.6" y="197.9" width="3" height="4.6" fill="#ef5350"/>
<line x1="588.9" x2="588.9" y1="203.3" y2="213.6" stroke="#ef5350" stroke-width="1"/>
<rect x="587.4" y="204.4" width="3" height="7.5" fill="#ef5350"/>
<line x1="592.7" x2="592.7" y1="207.4" y2="240.4" stroke="#ef5350" stroke-width="1"/>
<rect x="591.2" y="209.2" width="3" height="22.0" fill="#ef5350"/>
<line x1="596.4" x2="596.4" y1="215.3" y2="222.4" stroke="#26a69a" stroke-width="1"/>
<line x1="596.4" x2="596.4" y1="232.2" y2="232.7" stroke="#26a69a" stroke-width="1"/>
<rect x="595.3" y="222.4" width="2.2" height="9.8" fill="none" stroke="#26a69a" stroke-width="1"/>
<line x1="600.2" x2="600.2" y1="220.3" y2="231.7" stroke="#ef5350" stroke-width="1"/>
<rect x="598.7" y="223.8" width="3" height="7.6" fill="#ef5350"/>
<line x1="603.9" x2="603.9" y1="229.6" y2="229.8" stroke="#26a69a" stroke-width="1"/>
<line x1="603.9" x2="603.9" y1="232.6" y2="233.3" stroke="#26a69a" stroke-width="1"/>
<rect x="602.8" y="229.8" width="2.2" height="2.8" fill="none" stroke="#26a69a" stroke-width="1"/>
<line x1="607.7" x2="607.7" y1="217.4" y2="220.8" stroke="#26a69a" stroke-width="1"/>
<line x1="607.7" x2="607.7" y1="229.2" y2="229.6" stroke="#26a69a" stroke-width="1"/>
<rect x="606.6" y="220.8" width="2.2" height="8.4" fill="none" stroke="#26a69a" stroke-width="1"/>
<line x1="611.5" x2="611.5" y1="209.4" y2="224.6" stroke="#ef5350" stroke-width="1"/>
<rect x="610.0" y="219.6" width="3" height="1.5" fill="#ef5350"/>
<line x1="615.2" x2="615.2" y1="214.0" y2="230.9" stroke="#ef5350" stroke-width="1"/>
<rect x="613.7" y="216.4" width="3" height="12.7" fill="#ef5350"/>
<line x1="619.0" x2="619.0" y1="229.5" y2="258.8" stroke="#ef5350" stroke-width="1"/>
<rect x="617.5" y="229.8" width="3" height="27.1" fill="#ef5350"/>
<line x1="622.7" x2="622.7" y1="251.3" y2="252.5" stroke="#26a69a" stroke-width="1"/>
<line x1="622.7" x2="622.7" y1="258.4" y2="261.0" stroke="#26a69a" stroke-width="1"/>
<rect x="621.6" y="252.5" width="2.2" height="5.9" fill="none" stroke="#26a69a" stroke-width="1"/>
<line x1="626.5" x2="626.5" y1="249.9" y2="340.0" stroke="#ef5350" stroke-width="1"/>
<rect x="625.0" y="255.2" width="3" height="35.0" fill="#ef5350"/>
<line x1="630.3" x2="630.3" y1="289.0" y2="308.2" stroke="#ef5350" stroke-width="1"/>
<rect x="628.8" y="290.5" width="3" height="14.0" fill="#ef5350"/>
<line x1="634.0" x2="634.0" y1="301.5" y2="306.1" stroke="#26a69a" stroke-width="1"/>
<line x1="634.0" x2="634.0" y1="326.0" y2="331.1" stroke="#26a69a" stroke-width="1"/>
<rect x="632.9" y="306.1" width="2.2" height="20.0" fill="none" stroke="#26a69a" stroke-width="1"/>
<line x1="637.8" x2="637.8" y1="311.5" y2="318.4" stroke="#26a69a" stroke-width="1"/>
<line x1="637.8" x2="637.8" y1="327.5" y2="330.6" stroke="#26a69a" stroke-width="1"/>
<rect x="636.7" y="318.4" width="2.2" height="9.1" fill="none" stroke="#26a69a" stroke-width="1"/>
<line x1="641.6" x2="641.6" y1="287.3" y2="295.5" stroke="#26a69a" stroke-width="1"/>
<line x1="641.6" x2="641.6" y1="318.8" y2="321.6" stroke="#26a69a" stroke-width="1"/>
<rect x="640.5" y="295.5" width="2.2" height="23.3" fill="none" stroke="#26a69a" stroke-width="1"/>
<line x1="645.3" x2="645.3" y1="293.5" y2="297.5" stroke="#ef5350" stroke-width="1"/>
<rect x="643.8" y="296.3" width="3" height="1.5" fill="#ef5350"/>
<line x1="649.1" x2="649.1" y1="290.2" y2="292.6" stroke="#26a69a" stroke-width="1"/>
<line x1="649.1" x2="649.1" y1="297.6" y2="298.4" stroke="#26a69a" stroke-width="1"/>
<rect x="648.0" y="292.6" width="2.2" height="5.0" fill="none" stroke="#26a69a" stroke-width="1"/>
<line x1="652.8" x2="652.8" y1="284.7" y2="284.9" stroke="#26a69a" stroke-width="1"/>
<line x1="652.8" x2="652.8" y1="293.8" y2="296.9" stroke="#26a69a" stroke-width="1"/>
<rect x="651.7" y="284.9" width="2.2" height="8.9" fill="none" stroke="#26a69a" stroke-width="1"/>
<line x1="656.6" x2="656.6" y1="281.2" y2="281.6" stroke="#26a69a" stroke-width="1"/>
<line x1="656.6" x2="656.6" y1="284.9" y2="285.5" stroke="#26a69a" stroke-width="1"/>
<rect x="655.5" y="281.6" width="2.2" height="3.3" fill="none" stroke="#26a69a" stroke-width="1"/>
<line x1="660.4" x2="660.4" y1="281.4" y2="288.6" stroke="#ef5350" stroke-width="1"/>
<rect x="658.9" y="281.9" width="3" height="1.9" fill="#ef5350"/>
<line x1="664.1" x2="664.1" y1="282.4" y2="284.1" stroke="#26a69a" stroke-width="1"/>
<line x1="664.1" x2="664.1" y1="285.6" y2="286.1" stroke="#26a69a" stroke-width="1"/>
<rect x="663.0" y="284.1" width="2.2" height="1.5" fill="none" stroke="#26a69a" stroke-width="1"/>
<line x1="667.9" x2="667.9" y1="275.4" y2="287.9" stroke="#ef5350" stroke-width="1"/>
<rect x="666.4" y="282.6" width="3" height="5.1" fill="#ef5350"/>
<line x1="671.7" x2="671.7" y1="277.1" y2="281.3" stroke="#26a69a" stroke-width="1"/>
<line x1="671.7" x2="671.7" y1="288.8" y2="298.8" stroke="#26a69a" stroke-width="1"/>
<rect x="670.6" y="281.3" width="2.2" height="7.6" fill="none" stroke="#26a69a" stroke-width="1"/>
<line x1="675.4" x2="675.4" y1="276.5" y2="278.0" stroke="#26a69a" stroke-width="1"/>
<line x1="675.4" x2="675.4" y1="283.6" y2="288.8" stroke="#26a69a" stroke-width="1"/>
<rect x="674.3" y="278.0" width="2.2" height="5.7" fill="none" stroke="#26a69a" stroke-width="1"/>
<line x1="679.2" x2="679.2" y1="275.1" y2="277.0" stroke="#26a69a" stroke-width="1"/>
<line x1="679.2" x2="679.2" y1="278.8" y2="279.4" stroke="#26a69a" stroke-width="1"/>
<rect x="678.1" y="277.0" width="2.2" height="1.8" fill="none" stroke="#26a69a" stroke-width="1"/>
<line x1="682.9" x2="682.9" y1="278.0" y2="302.2" stroke="#ef5350" stroke-width="1"/>
<rect x="681.4" y="278.1" width="3" height="21.8" fill="#ef5350"/>
<line x1="686.7" x2="686.7" y1="297.5" y2="311.0" stroke="#ef5350" stroke-width="1"/>
<rect x="685.2" y="301.3" width="3" height="5.6" fill="#ef5350"/>
<line x1="690.5" x2="690.5" y1="292.6" y2="293.7" stroke="#26a69a" stroke-width="1"/>
<line x1="690.5" x2="690.5" y1="308.0" y2="312.1" stroke="#26a69a" stroke-width="1"/>
<rect x="689.4" y="293.7" width="2.2" height="14.3" fill="none" stroke="#26a69a" stroke-width="1"/>
<line x1="694.2" x2="694.2" y1="294.3" y2="304.9" stroke="#ef5350" stroke-width="1"/>
<rect x="692.7" y="295.1" width="3" height="1.5" fill="#ef5350"/>
<line x1="698.0" x2="698.0" y1="294.5" y2="314.9" stroke="#ef5350" stroke-width="1"/>
<rect x="696.5" y="294.9" width="3" height="10.1" fill="#ef5350"/>
<line x1="701.7" x2="701.7" y1="294.8" y2="298.5" stroke="#26a69a" stroke-width="1"/>
<line x1="701.7" x2="701.7" y1="306.3" y2="306.3" stroke="#26a69a" stroke-width="1"/>
<rect x="700.6" y="298.5" width="2.2" height="7.8" fill="none" stroke="#26a69a" stroke-width="1"/>
<line x1="705.5" x2="705.5" y1="289.3" y2="290.7" stroke="#26a69a" stroke-width="1"/>
<line x1="705.5" x2="705.5" y1="298.8" y2="303.1" stroke="#26a69a" stroke-width="1"/>
<rect x="704.4" y="290.7" width="2.2" height="8.1" fill="none" stroke="#26a69a" stroke-width="1"/>
<line x1="709.3" x2="709.3" y1="287.5" y2="302.2" stroke="#ef5350" stroke-width="1"/>
<rect x="707.8" y="290.7" width="3" height="9.4" fill="#ef5350"/>
<line x1="713.0" x2="713.0" y1="292.9" y2="293.8" stroke="#26a69a" stroke-width="1"/>
<line x1="713.0" x2="713.0" y1="300.2" y2="302.8" stroke="#26a69a" stroke-width="1"/>
<rect x="711.9" y="293.8" width="2.2" height="6.4" fill="none" stroke="#26a69a" stroke-width="1"/>
<line x1="716.8" x2="716.8" y1="278.5" y2="278.5" stroke="#26a69a" stroke-width="1"/>
<line x1="716.8" x2="716.8" y1="292.9" y2="298.4" stroke="#26a69a" stroke-width="1"/>
<rect x="715.7" y="278.5" width="2.2" height="14.4" fill="none" stroke="#26a69a" stroke-width="1"/>
<line x1="720.6" x2="720.6" y1="270.1" y2="272.7" stroke="#26a69a" stroke-width="1"/>
<line x1="720.6" x2="720.6" y1="275.5" y2="277.6" stroke="#26a69a" stroke-width="1"/>
<rect x="719.5" y="272.7" width="2.2" height="2.8" fill="none" stroke="#26a69a" stroke-width="1"/>
<line x1="724.3" x2="724.3" y1="271.7" y2="294.8" stroke="#ef5350" stroke-width="1"/>
<rect x="722.8" y="272.6" width="3" height="16.9" fill="#ef5350"/>
<line x1="728.1" x2="728.1" y1="286.0" y2="290.2" stroke="#26a69a" stroke-width="1"/>
<line x1="728.1" x2="728.1" y1="291.7" y2="293.6" stroke="#26a69a" stroke-width="1"/>
<rect x="727.0" y="290.2" width="2.2" height="1.5" fill="none" stroke="#26a69a" stroke-width="1"/>
<line x1="731.8" x2="731.8" y1="261.8" y2="264.8" stroke="#26a69a" stroke-width="1"/>
<line x1="731.8" x2="731.8" y1="287.4" y2="291.0" stroke="#26a69a" stroke-width="1"/>
<rect x="730.7" y="264.8" width="2.2" height="22.6" fill="none" stroke="#26a69a" stroke-width="1"/>
<line x1="735.6" x2="735.6" y1="238.3" y2="240.7" stroke="#26a69a" stroke-width="1"/>
<line x1="735.6" x2="735.6" y1="264.7" y2="271.4" stroke="#26a69a" stroke-width="1"/>
<rect x="734.5" y="240.7" width="2.2" height="24.0" fill="none" stroke="#26a69a" stroke-width="1"/>
<line x1="739.4" x2="739.4" y1="236.1" y2="238.5" stroke="#26a69a" stroke-width="1"/>
<line x1="739.4" x2="739.4" y1="240.0" y2="244.4" stroke="#26a69a" stroke-width="1"/>
<rect x="738.3" y="238.5" width="2.2" height="1.5" fill="none" stroke="#26a69a" stroke-width="1"/>
<line x1="743.1" x2="743.1" y1="236.5" y2="250.5" stroke="#ef5350" stroke-width="1"/>
<rect x="741.6" y="238.9" width="3" height="9.0" fill="#ef5350"/>
<line x1="746.9" x2="746.9" y1="244.6" y2="256.9" stroke="#ef5350" stroke-width="1"/>
<rect x="745.4" y="249.6" width="3" height="5.4" fill="#ef5350"/>
<line x1="750.6" x2="750.6" y1="233.3" y2="233.7" stroke="#26a69a" stroke-width="1"/>
<line x1="750.6" x2="750.6" y1="253.4" y2="253.4" stroke="#26a69a" stroke-width="1"/>
<rect x="749.5" y="233.7" width="2.2" height="19.7" fill="none" stroke="#26a69a" stroke-width="1"/>
<line x1="754.4" x2="754.4" y1="226.6" y2="235.3" stroke="#ef5350" stroke-width="1"/>
<rect x="752.9" y="231.3" width="3" height="3.9" fill="#ef5350"/>
<line x1="758.2" x2="758.2" y1="227.7" y2="227.9" stroke="#26a69a" stroke-width="1"/>
<line x1="758.2" x2="758.2" y1="234.7" y2="237.6" stroke="#26a69a" stroke-width="1"/>
<rect x="757.1" y="227.9" width="2.2" height="6.8" fill="none" stroke="#26a69a" stroke-width="1"/>
<line x1="761.9" x2="761.9" y1="228.1" y2="236.1" stroke="#ef5350" stroke-width="1"/>
<rect x="760.4" y="228.4" width="3" height="5.1" fill="#ef5350"/>
<line x1="765.7" x2="765.7" y1="225.7" y2="231.1" stroke="#ef5350" stroke-width="1"/>
<rect x="764.2" y="229.5" width="3" height="1.5" fill="#ef5350"/>
<line x1="769.5" x2="769.5" y1="225.0" y2="225.6" stroke="#26a69a" stroke-width="1"/>
<line x1="769.5" x2="769.5" y1="231.2" y2="236.5" stroke="#26a69a" stroke-width="1"/>
<rect x="768.4" y="225.6" width="2.2" height="5.6" fill="none" stroke="#26a69a" stroke-width="1"/>
<line x1="773.2" x2="773.2" y1="223.4" y2="251.6" stroke="#ef5350" stroke-width="1"/>
<rect x="771.7" y="225.1" width="3" height="24.2" fill="#ef5350"/>
<line x1="777.0" x2="777.0" y1="247.5" y2="259.6" stroke="#ef5350" stroke-width="1"/>
<rect x="775.5" y="248.0" width="3" height="11.3" fill="#ef5350"/>
<line x1="780.7" x2="780.7" y1="257.1" y2="269.7" stroke="#ef5350" stroke-width="1"/>
<rect x="779.2" y="259.8" width="3" height="4.7" fill="#ef5350"/>
<line x1="784.5" x2="784.5" y1="256.3" y2="260.5" stroke="#26a69a" stroke-width="1"/>
<line x1="784.5" x2="784.5" y1="263.4" y2="263.9" stroke="#26a69a" stroke-width="1"/>
<rect x="783.4" y="260.5" width="2.2" height="2.9" fill="none" stroke="#26a69a" stroke-width="1"/>
<line x1="788.3" x2="788.3" y1="258.7" y2="264.0" stroke="#ef5350" stroke-width="1"/>
<rect x="786.8" y="260.7" width="3" height="1.8" fill="#ef5350"/>
<line x1="792.0" x2="792.0" y1="257.8" y2="278.2" stroke="#ef5350" stroke-width="1"/>
<rect x="790.5" y="262.0" width="3" height="15.8" fill="#ef5350"/>
<line x1="795.8" x2="795.8" y1="262.7" y2="265.6" stroke="#26a69a" stroke-width="1"/>
<line x1="795.8" x2="795.8" y1="274.1" y2="275.1" stroke="#26a69a" stroke-width="1"/>
<rect x="794.7" y="265.6" width="2.2" height="8.5" fill="none" stroke="#26a69a" stroke-width="1"/>
<line x1="799.5" x2="799.5" y1="258.0" y2="259.2" stroke="#26a69a" stroke-width="1"/>
<line x1="799.5" x2="799.5" y1="269.1" y2="274.0" stroke="#26a69a" stroke-width="1"/>
<rect x="798.4" y="259.2" width="2.2" height="9.9" fill="none" stroke="#26a69a" stroke-width="1"/>
<line x1="803.3" x2="803.3" y1="253.8" y2="255.8" stroke="#26a69a" stroke-width="1"/>
<line x1="803.3" x2="803.3" y1="260.6" y2="261.2" stroke="#26a69a" stroke-width="1"/>
<rect x="802.2" y="255.8" width="2.2" height="4.8" fill="none" stroke="#26a69a" stroke-width="1"/>
<line x1="807.1" x2="807.1" y1="233.6" y2="238.0" stroke="#26a69a" stroke-width="1"/>
<line x1="807.1" x2="807.1" y1="254.1" y2="258.0" stroke="#26a69a" stroke-width="1"/>
<rect x="806.0" y="238.0" width="2.2" height="16.1" fill="none" stroke="#26a69a" stroke-width="1"/>
<line x1="810.8" x2="810.8" y1="223.1" y2="224.0" stroke="#26a69a" stroke-width="1"/>
<line x1="810.8" x2="810.8" y1="241.2" y2="241.3" stroke="#26a69a" stroke-width="1"/>
<rect x="809.7" y="224.0" width="2.2" height="17.2" fill="none" stroke="#26a69a" stroke-width="1"/>
<line x1="814.6" x2="814.6" y1="215.1" y2="218.2" stroke="#26a69a" stroke-width="1"/>
<line x1="814.6" x2="814.6" y1="224.0" y2="225.0" stroke="#26a69a" stroke-width="1"/>
<rect x="813.5" y="218.2" width="2.2" height="5.8" fill="none" stroke="#26a69a" stroke-width="1"/>
<line x1="818.4" x2="818.4" y1="208.2" y2="211.1" stroke="#26a69a" stroke-width="1"/>
<line x1="818.4" x2="818.4" y1="219.3" y2="225.9" stroke="#26a69a" stroke-width="1"/>
<rect x="817.3" y="211.1" width="2.2" height="8.1" fill="none" stroke="#26a69a" stroke-width="1"/>
<line x1="822.1" x2="822.1" y1="210.1" y2="216.6" stroke="#ef5350" stroke-width="1"/>
<rect x="820.6" y="211.2" width="3" height="3.8" fill="#ef5350"/>
<line x1="825.9" x2="825.9" y1="209.6" y2="212.2" stroke="#26a69a" stroke-width="1"/>
<line x1="825.9" x2="825.9" y1="214.0" y2="215.8" stroke="#26a69a" stroke-width="1"/>
<rect x="824.8" y="212.2" width="2.2" height="1.8" fill="none" stroke="#26a69a" stroke-width="1"/>
<line x1="829.6" x2="829.6" y1="197.5" y2="202.5" stroke="#26a69a" stroke-width="1"/>
<line x1="829.6" x2="829.6" y1="213.3" y2="213.3" stroke="#26a69a" stroke-width="1"/>
<rect x="828.5" y="202.5" width="2.2" height="10.7" fill="none" stroke="#26a69a" stroke-width="1"/>
<line x1="833.4" x2="833.4" y1="203.6" y2="206.2" stroke="#ef5350" stroke-width="1"/>
<rect x="831.9" y="203.8" width="3" height="1.5" fill="#ef5350"/>
<line x1="837.2" x2="837.2" y1="204.7" y2="235.6" stroke="#ef5350" stroke-width="1"/>
<rect x="835.7" y="206.7" width="3" height="20.3" fill="#ef5350"/>
<line x1="840.9" x2="840.9" y1="225.7" y2="228.7" stroke="#ef5350" stroke-width="1"/>
<rect x="839.4" y="228.1" width="3" height="1.5" fill="#ef5350"/>
<line x1="844.7" x2="844.7" y1="215.1" y2="220.3" stroke="#26a69a" stroke-width="1"/>
<line x1="844.7" x2="844.7" y1="231.3" y2="235.9" stroke="#26a69a" stroke-width="1"/>
<rect x="843.6" y="220.3" width="2.2" height="10.9" fill="none" stroke="#26a69a" stroke-width="1"/>
<line x1="848.5" x2="848.5" y1="213.4" y2="226.5" stroke="#ef5350" stroke-width="1"/>
<rect x="847.0" y="217.9" width="3" height="6.8" fill="#ef5350"/>
<line x1="852.2" x2="852.2" y1="223.8" y2="233.9" stroke="#ef5350" stroke-width="1"/>
<rect x="850.7" y="224.3" width="3" height="5.5" fill="#ef5350"/>
<line x1="856.0" x2="856.0" y1="221.9" y2="222.2" stroke="#26a69a" stroke-width="1"/>
<line x1="856.0" x2="856.0" y1="227.6" y2="228.8" stroke="#26a69a" stroke-width="1"/>
<rect x="854.9" y="222.2" width="2.2" height="5.4" fill="none" stroke="#26a69a" stroke-width="1"/>
<line x1="859.7" x2="859.7" y1="213.9" y2="217.3" stroke="#26a69a" stroke-width="1"/>
<line x1="859.7" x2="859.7" y1="221.8" y2="222.5" stroke="#26a69a" stroke-width="1"/>
<rect x="858.6" y="217.3" width="2.2" height="4.5" fill="none" stroke="#26a69a" stroke-width="1"/>
<line x1="863.5" x2="863.5" y1="203.6" y2="206.5" stroke="#26a69a" stroke-width="1"/>
<line x1="863.5" x2="863.5" y1="219.7" y2="220.1" stroke="#26a69a" stroke-width="1"/>
<rect x="862.4" y="206.5" width="2.2" height="13.2" fill="none" stroke="#26a69a" stroke-width="1"/>
<line x1="867.3" x2="867.3" y1="201.6" y2="205.2" stroke="#26a69a" stroke-width="1"/>
<line x1="867.3" x2="867.3" y1="206.7" y2="206.8" stroke="#26a69a" stroke-width="1"/>
<rect x="866.2" y="205.2" width="2.2" height="1.5" fill="none" stroke="#26a69a" stroke-width="1"/>
<line x1="871.0" x2="871.0" y1="203.8" y2="217.4" stroke="#ef5350" stroke-width="1"/>
<rect x="869.5" y="206.0" width="3" height="3.4" fill="#ef5350"/>
<line x1="874.8" x2="874.8" y1="195.0" y2="205.6" stroke="#26a69a" stroke-width="1"/>
<line x1="874.8" x2="874.8" y1="209.4" y2="216.5" stroke="#26a69a" stroke-width="1"/>
<rect x="873.7" y="205.6" width="2.2" height="3.8" fill="none" stroke="#26a69a" stroke-width="1"/>
<line x1="878.5" x2="878.5" y1="186.4" y2="187.0" stroke="#26a69a" stroke-width="1"/>
<line x1="878.5" x2="878.5" y1="205.9" y2="207.4" stroke="#26a69a" stroke-width="1"/>
<rect x="877.4" y="187.0" width="2.2" height="18.9" fill="none" stroke="#26a69a" stroke-width="1"/>
<line x1="882.3" x2="882.3" y1="157.9" y2="158.1" stroke="#26a69a" stroke-width="1"/>
<line x1="882.3" x2="882.3" y1="187.6" y2="190.5" stroke="#26a69a" stroke-width="1"/>
<rect x="881.2" y="158.1" width="2.2" height="29.5" fill="none" stroke="#26a69a" stroke-width="1"/>
<line x1="886.1" x2="886.1" y1="119.0" y2="119.0" stroke="#26a69a" stroke-width="1"/>
<line x1="886.1" x2="886.1" y1="156.8" y2="160.7" stroke="#26a69a" stroke-width="1"/>
<rect x="885.0" y="119.0" width="2.2" height="37.8" fill="none" stroke="#26a69a" stroke-width="1"/>
<line x1="889.8" x2="889.8" y1="103.4" y2="105.8" stroke="#26a69a" stroke-width="1"/>
<line x1="889.8" x2="889.8" y1="119.9" y2="122.3" stroke="#26a69a" stroke-width="1"/>
<rect x="888.7" y="105.8" width="2.2" height="14.1" fill="none" stroke="#26a69a" stroke-width="1"/>
<line x1="893.6" x2="893.6" y1="101.9" y2="103.8" stroke="#26a69a" stroke-width="1"/>
<line x1="893.6" x2="893.6" y1="106.3" y2="106.7" stroke="#26a69a" stroke-width="1"/>
<rect x="892.5" y="103.8" width="2.2" height="2.4" fill="none" stroke="#26a69a" stroke-width="1"/>
<line x1="897.4" x2="897.4" y1="78.8" y2="80.6" stroke="#26a69a" stroke-width="1"/>
<line x1="897.4" x2="897.4" y1="103.8" y2="105.8" stroke="#26a69a" stroke-width="1"/>
<rect x="896.3" y="80.6" width="2.2" height="23.2" fill="none" stroke="#26a69a" stroke-width="1"/>
<line x1="901.1" x2="901.1" y1="56.0" y2="77.9" stroke="#26a69a" stroke-width="1"/>
<line x1="901.1" x2="901.1" y1="81.7" y2="84.1" stroke="#26a69a" stroke-width="1"/>
<rect x="900.0" y="77.9" width="2.2" height="3.8" fill="none" stroke="#26a69a" stroke-width="1"/>
<line x1="904.9" x2="904.9" y1="76.5" y2="95.7" stroke="#ef5350" stroke-width="1"/>
<rect x="903.4" y="77.1" width="3" height="18.0" fill="#ef5350"/>
<line x1="908.6" x2="908.6" y1="92.1" y2="101.9" stroke="#ef5350" stroke-width="1"/>
<rect x="907.1" y="95.6" width="3" height="3.8" fill="#ef5350"/>
<line x1="912.4" x2="912.4" y1="86.4" y2="93.2" stroke="#26a69a" stroke-width="1"/>
<line x1="912.4" x2="912.4" y1="99.3" y2="104.8" stroke="#26a69a" stroke-width="1"/>
<rect x="911.3" y="93.2" width="2.2" height="6.1" fill="none" stroke="#26a69a" stroke-width="1"/>
<line x1="916.2" x2="916.2" y1="87.7" y2="92.3" stroke="#ef5350" stroke-width="1"/>
<rect x="914.7" y="90.5" width="3" height="1.5" fill="#ef5350"/>
<line x1="919.9" x2="919.9" y1="80.0" y2="85.7" stroke="#26a69a" stroke-width="1"/>
<line x1="919.9" x2="919.9" y1="92.3" y2="93.1" stroke="#26a69a" stroke-width="1"/>
<rect x="918.8" y="85.7" width="2.2" height="6.6" fill="none" stroke="#26a69a" stroke-width="1"/>
<line x1="923.7" x2="923.7" y1="80.9" y2="97.1" stroke="#ef5350" stroke-width="1"/>
<rect x="922.2" y="84.8" width="3" height="7.1" fill="#ef5350"/>
<line x1="927.4" x2="927.4" y1="72.7" y2="79.1" stroke="#26a69a" stroke-width="1"/>
<line x1="927.4" x2="927.4" y1="92.5" y2="94.1" stroke="#26a69a" stroke-width="1"/>
<rect x="926.3" y="79.1" width="2.2" height="13.4" fill="none" stroke="#26a69a" stroke-width="1"/>
<line x1="931.2" x2="931.2" y1="80.5" y2="94.5" stroke="#ef5350" stroke-width="1"/>
<rect x="929.7" y="82.4" width="3" height="9.5" fill="#ef5350"/>
<line x1="935.0" x2="935.0" y1="88.9" y2="99.6" stroke="#ef5350" stroke-width="1"/>
<rect x="933.5" y="92.8" width="3" height="2.4" fill="#ef5350"/>
<line x1="938.7" x2="938.7" y1="90.6" y2="103.5" stroke="#ef5350" stroke-width="1"/>
<rect x="937.2" y="95.5" width="3" height="7.2" fill="#ef5350"/>
<line x1="942.5" x2="942.5" y1="102.9" y2="104.6" stroke="#ef5350" stroke-width="1"/>
<rect x="941.0" y="103.4" width="3" height="1.5" fill="#ef5350"/>
<line x1="946.3" x2="946.3" y1="100.5" y2="109.5" stroke="#ef5350" stroke-width="1"/>
<rect x="944.8" y="105.8" width="3" height="2.3" fill="#ef5350"/>
<line x1="950.0" x2="950.0" y1="106.7" y2="115.9" stroke="#ef5350" stroke-width="1"/>
<rect x="948.5" y="107.0" width="3" height="6.1" fill="#ef5350"/>
<line x1="953.8" x2="953.8" y1="111.5" y2="111.8" stroke="#26a69a" stroke-width="1"/>
<line x1="953.8" x2="953.8" y1="113.3" y2="113.2" stroke="#26a69a" stroke-width="1"/>
<rect x="952.7" y="111.8" width="2.2" height="1.5" fill="none" stroke="#26a69a" stroke-width="1"/>
<line x1="957.5" x2="957.5" y1="83.9" y2="86.4" stroke="#26a69a" stroke-width="1"/>
<line x1="957.5" x2="957.5" y1="111.8" y2="113.2" stroke="#26a69a" stroke-width="1"/>
<rect x="956.4" y="86.4" width="2.2" height="25.4" fill="none" stroke="#26a69a" stroke-width="1"/>
<line x1="961.3" x2="961.3" y1="83.3" y2="88.9" stroke="#ef5350" stroke-width="1"/>
<rect x="959.8" y="83.5" width="3" height="4.4" fill="#ef5350"/>
<line x1="965.1" x2="965.1" y1="88.2" y2="107.2" stroke="#ef5350" stroke-width="1"/>
<rect x="963.6" y="89.2" width="3" height="15.7" fill="#ef5350"/>
<line x1="968.8" x2="968.8" y1="100.0" y2="124.3" stroke="#ef5350" stroke-width="1"/>
<rect x="967.3" y="102.6" width="3" height="21.7" fill="#ef5350"/>
<line x1="972.6" x2="972.6" y1="122.8" y2="136.8" stroke="#ef5350" stroke-width="1"/>
<rect x="971.1" y="124.0" width="3" height="10.3" fill="#ef5350"/>
<line x1="976.3" x2="976.3" y1="132.8" y2="135.4" stroke="#26a69a" stroke-width="1"/>
<line x1="976.3" x2="976.3" y1="136.9" y2="145.8" stroke="#26a69a" stroke-width="1"/>
<rect x="975.2" y="135.4" width="2.2" height="1.5" fill="none" stroke="#26a69a" stroke-width="1"/>
<line x1="980.1" x2="980.1" y1="131.9" y2="132.5" stroke="#26a69a" stroke-width="1"/>
<line x1="980.1" x2="980.1" y1="135.4" y2="139.3" stroke="#26a69a" stroke-width="1"/>
<rect x="979.0" y="132.5" width="2.2" height="2.9" fill="none" stroke="#26a69a" stroke-width="1"/>
<line x1="983.9" x2="983.9" y1="127.1" y2="134.8" stroke="#ef5350" stroke-width="1"/>
<rect x="982.4" y="129.4" width="3" height="2.4" fill="#ef5350"/>
<line x1="987.6" x2="987.6" y1="133.5" y2="134.3" stroke="#26a69a" stroke-width="1"/>
<line x1="987.6" x2="987.6" y1="135.8" y2="136.7" stroke="#26a69a" stroke-width="1"/>
<rect x="986.5" y="134.3" width="2.2" height="1.5" fill="none" stroke="#26a69a" stroke-width="1"/>
<line x1="991.4" x2="991.4" y1="120.3" y2="126.6" stroke="#26a69a" stroke-width="1"/>
<line x1="991.4" x2="991.4" y1="134.8" y2="139.5" stroke="#26a69a" stroke-width="1"/>
<rect x="990.3" y="126.6" width="2.2" height="8.2" fill="none" stroke="#26a69a" stroke-width="1"/>
<line x1="995.2" x2="995.2" y1="113.6" y2="116.7" stroke="#26a69a" stroke-width="1"/>
<line x1="995.2" x2="995.2" y1="121.4" y2="122.8" stroke="#26a69a" stroke-width="1"/>
<rect x="994.1" y="116.7" width="2.2" height="4.7" fill="none" stroke="#26a69a" stroke-width="1"/>
<line x1="998.9" x2="998.9" y1="119.9" y2="136.1" stroke="#ef5350" stroke-width="1"/>
<rect x="997.4" y="119.9" width="3" height="15.2" fill="#ef5350"/>
<line x1="1002.7" x2="1002.7" y1="122.6" y2="125.0" stroke="#26a69a" stroke-width="1"/>
<line x1="1002.7" x2="1002.7" y1="133.8" y2="136.3" stroke="#26a69a" stroke-width="1"/>
<rect x="1001.6" y="125.0" width="2.2" height="8.8" fill="none" stroke="#26a69a" stroke-width="1"/>
<line x1="1006.4" x2="1006.4" y1="123.8" y2="124.4" stroke="#26a69a" stroke-width="1"/>
<line x1="1006.4" x2="1006.4" y1="125.9" y2="128.6" stroke="#26a69a" stroke-width="1"/>
<rect x="1005.3" y="124.4" width="2.2" height="1.5" fill="none" stroke="#26a69a" stroke-width="1"/>
<line x1="1010.2" x2="1010.2" y1="121.7" y2="128.3" stroke="#ef5350" stroke-width="1"/>
<rect x="1008.7" y="124.2" width="3" height="3.5" fill="#ef5350"/>
<line x1="1014.0" x2="1014.0" y1="116.7" y2="118.4" stroke="#26a69a" stroke-width="1"/>
<line x1="1014.0" x2="1014.0" y1="129.9" y2="133.6" stroke="#26a69a" stroke-width="1"/>
<rect x="1012.9" y="118.4" width="2.2" height="11.5" fill="none" stroke="#26a69a" stroke-width="1"/>
<line x1="1017.7" x2="1017.7" y1="113.0" y2="142.7" stroke="#ef5350" stroke-width="1"/>
<rect x="1016.2" y="118.9" width="3" height="17.7" fill="#ef5350"/>
<line x1="1021.5" x2="1021.5" y1="135.0" y2="135.8" stroke="#26a69a" stroke-width="1"/>
<line x1="1021.5" x2="1021.5" y1="137.9" y2="138.5" stroke="#26a69a" stroke-width="1"/>
<rect x="1020.4" y="135.8" width="2.2" height="2.2" fill="none" stroke="#26a69a" stroke-width="1"/>
<line x1="1025.3" x2="1025.3" y1="123.9" y2="124.0" stroke="#26a69a" stroke-width="1"/>
<line x1="1025.3" x2="1025.3" y1="137.2" y2="138.3" stroke="#26a69a" stroke-width="1"/>
<rect x="1024.2" y="124.0" width="2.2" height="13.3" fill="none" stroke="#26a69a" stroke-width="1"/>
<line x1="1029.0" x2="1029.0" y1="121.5" y2="136.3" stroke="#ef5350" stroke-width="1"/>
<rect x="1027.5" y="124.1" width="3" height="10.8" fill="#ef5350"/>
<line x1="1032.8" x2="1032.8" y1="130.0" y2="134.4" stroke="#ef5350" stroke-width="1"/>
<rect x="1031.3" y="131.6" width="3" height="1.5" fill="#ef5350"/>
<line x1="1036.5" x2="1036.5" y1="130.9" y2="145.5" stroke="#ef5350" stroke-width="1"/>
<rect x="1035.0" y="131.3" width="3" height="8.1" fill="#ef5350"/>
<line x1="1040.3" x2="1040.3" y1="123.0" y2="129.4" stroke="#26a69a" stroke-width="1"/>
<line x1="1040.3" x2="1040.3" y1="140.5" y2="140.7" stroke="#26a69a" stroke-width="1"/>
<rect x="1039.2" y="129.4" width="2.2" height="11.2" fill="none" stroke="#26a69a" stroke-width="1"/>
<line x1="1044.1" x2="1044.1" y1="127.5" y2="145.9" stroke="#ef5350" stroke-width="1"/>
<rect x="1042.6" y="128.3" width="3" height="17.3" fill="#ef5350"/>
<line x1="1047.8" x2="1047.8" y1="134.4" y2="143.5" stroke="#26a69a" stroke-width="1"/>
<line x1="1047.8" x2="1047.8" y1="147.3" y2="149.9" stroke="#26a69a" stroke-width="1"/>
<rect x="1046.7" y="143.5" width="2.2" height="3.8" fill="none" stroke="#26a69a" stroke-width="1"/>
<line x1="1051.6" x2="1051.6" y1="139.1" y2="143.1" stroke="#26a69a" stroke-width="1"/>
<line x1="1051.6" x2="1051.6" y1="144.6" y2="146.1" stroke="#26a69a" stroke-width="1"/>
<rect x="1050.5" y="143.1" width="2.2" height="1.5" fill="none" stroke="#26a69a" stroke-width="1"/>
<line x1="1055.3" x2="1055.3" y1="140.7" y2="161.9" stroke="#ef5350" stroke-width="1"/>
<rect x="1053.8" y="142.7" width="3" height="13.3" fill="#ef5350"/>
<line x1="1059.1" x2="1059.1" y1="151.0" y2="163.0" stroke="#ef5350" stroke-width="1"/>
<rect x="1057.6" y="153.7" width="3" height="7.2" fill="#ef5350"/>
<line x1="1062.9" x2="1062.9" y1="151.2" y2="151.5" stroke="#26a69a" stroke-width="1"/>
<line x1="1062.9" x2="1062.9" y1="162.1" y2="163.6" stroke="#26a69a" stroke-width="1"/>
<rect x="1061.8" y="151.5" width="2.2" height="10.7" fill="none" stroke="#26a69a" stroke-width="1"/>
<line x1="1066.6" x2="1066.6" y1="131.2" y2="131.3" stroke="#26a69a" stroke-width="1"/>
<line x1="1066.6" x2="1066.6" y1="153.8" y2="155.2" stroke="#26a69a" stroke-width="1"/>
<rect x="1065.5" y="131.3" width="2.2" height="22.6" fill="none" stroke="#26a69a" stroke-width="1"/>
<line x1="1070.4" x2="1070.4" y1="121.1" y2="126.0" stroke="#26a69a" stroke-width="1"/>
<line x1="1070.4" x2="1070.4" y1="131.7" y2="141.1" stroke="#26a69a" stroke-width="1"/>
<rect x="1069.3" y="126.0" width="2.2" height="5.7" fill="none" stroke="#26a69a" stroke-width="1"/>
<line x1="1074.2" x2="1074.2" y1="122.9" y2="134.1" stroke="#ef5350" stroke-width="1"/>
<rect x="1072.7" y="123.0" width="3" height="9.5" fill="#ef5350"/>
<line x1="1077.9" x2="1077.9" y1="124.7" y2="125.8" stroke="#26a69a" stroke-width="1"/>
<line x1="1077.9" x2="1077.9" y1="133.5" y2="137.5" stroke="#26a69a" stroke-width="1"/>
<rect x="1076.8" y="125.8" width="2.2" height="7.8" fill="none" stroke="#26a69a" stroke-width="1"/>
<line x1="1081.7" x2="1081.7" y1="117.5" y2="121.7" stroke="#26a69a" stroke-width="1"/>
<line x1="1081.7" x2="1081.7" y1="127.3" y2="131.2" stroke="#26a69a" stroke-width="1"/>
<rect x="1080.6" y="121.7" width="2.2" height="5.7" fill="none" stroke="#26a69a" stroke-width="1"/>
<line x1="1085.4" x2="1085.4" y1="117.8" y2="122.8" stroke="#ef5350" stroke-width="1"/>
<rect x="1083.9" y="118.8" width="3" height="2.4" fill="#ef5350"/>
<line x1="1089.2" x2="1089.2" y1="114.8" y2="118.1" stroke="#26a69a" stroke-width="1"/>
<line x1="1089.2" x2="1089.2" y1="120.1" y2="121.6" stroke="#26a69a" stroke-width="1"/>
<rect x="1088.1" y="118.1" width="2.2" height="2.0" fill="none" stroke="#26a69a" stroke-width="1"/>
<line x1="1093.0" x2="1093.0" y1="109.2" y2="109.3" stroke="#26a69a" stroke-width="1"/>
<line x1="1093.0" x2="1093.0" y1="117.1" y2="120.0" stroke="#26a69a" stroke-width="1"/>
<rect x="1091.9" y="109.3" width="2.2" height="7.8" fill="none" stroke="#26a69a" stroke-width="1"/>
<line x1="1096.7" x2="1096.7" y1="108.0" y2="111.0" stroke="#26a69a" stroke-width="1"/>
<line x1="1096.7" x2="1096.7" y1="112.5" y2="113.4" stroke="#26a69a" stroke-width="1"/>
<rect x="1095.6" y="111.0" width="2.2" height="1.5" fill="none" stroke="#26a69a" stroke-width="1"/>
<line x1="1100.5" x2="1100.5" y1="81.6" y2="84.3" stroke="#26a69a" stroke-width="1"/>
<line x1="1100.5" x2="1100.5" y1="113.9" y2="114.0" stroke="#26a69a" stroke-width="1"/>
<rect x="1099.4" y="84.3" width="2.2" height="29.5" fill="none" stroke="#26a69a" stroke-width="1"/>
<line x1="1104.2" x2="1104.2" y1="80.5" y2="104.4" stroke="#ef5350" stroke-width="1"/>
<rect x="1102.7" y="82.3" width="3" height="22.0" fill="#ef5350"/>
<line x1="1108.0" x2="1108.0" y1="87.5" y2="92.0" stroke="#26a69a" stroke-width="1"/>
<line x1="1108.0" x2="1108.0" y1="104.7" y2="111.8" stroke="#26a69a" stroke-width="1"/>
<rect x="1106.9" y="92.0" width="2.2" height="12.6" fill="none" stroke="#26a69a" stroke-width="1"/>
<line x1="1111.8" x2="1111.8" y1="90.6" y2="110.0" stroke="#ef5350" stroke-width="1"/>
<rect x="1110.3" y="92.4" width="3" height="16.0" fill="#ef5350"/>
<line x1="1115.5" x2="1115.5" y1="104.7" y2="110.6" stroke="#ef5350" stroke-width="1"/>
<rect x="1114.0" y="108.0" width="3" height="1.5" fill="#ef5350"/>
<line x1="1119.3" x2="1119.3" y1="95.7" y2="96.1" stroke="#26a69a" stroke-width="1"/>
<line x1="1119.3" x2="1119.3" y1="107.9" y2="114.4" stroke="#26a69a" stroke-width="1"/>
<rect x="1118.2" y="96.1" width="2.2" height="11.7" fill="none" stroke="#26a69a" stroke-width="1"/>
<line x1="1123.1" x2="1123.1" y1="86.5" y2="90.8" stroke="#26a69a" stroke-width="1"/>
<line x1="1123.1" x2="1123.1" y1="95.9" y2="98.9" stroke="#26a69a" stroke-width="1"/>
<rect x="1122.0" y="90.8" width="2.2" height="5.1" fill="none" stroke="#26a69a" stroke-width="1"/>
<line x1="1126.8" x2="1126.8" y1="90.6" y2="95.2" stroke="#ef5350" stroke-width="1"/>
<rect x="1125.3" y="92.2" width="3" height="1.5" fill="#ef5350"/>
<line x1="1130.6" x2="1130.6" y1="93.8" y2="103.2" stroke="#ef5350" stroke-width="1"/>
<rect x="1129.1" y="95.3" width="3" height="5.8" fill="#ef5350"/>
<line x1="1134.3" x2="1134.3" y1="100.1" y2="111.1" stroke="#ef5350" stroke-width="1"/>
<rect x="1132.8" y="101.2" width="3" height="7.7" fill="#ef5350"/>
<line x1="1138.1" x2="1138.1" y1="108.5" y2="120.4" stroke="#ef5350" stroke-width="1"/>
<rect x="1136.6" y="109.9" width="3" height="5.9" fill="#ef5350"/>
<line x1="1141.9" x2="1141.9" y1="112.3" y2="137.5" stroke="#ef5350" stroke-width="1"/>
<rect x="1140.4" y="116.1" width="3" height="18.5" fill="#ef5350"/>
<line x1="1145.6" x2="1145.6" y1="131.1" y2="147.7" stroke="#ef5350" stroke-width="1"/>
<rect x="1144.1" y="134.1" width="3" height="8.6" fill="#ef5350"/>
<line x1="1149.4" x2="1149.4" y1="140.0" y2="157.1" stroke="#ef5350" stroke-width="1"/>
<rect x="1147.9" y="143.3" width="3" height="5.0" fill="#ef5350"/>
<line x1="1153.1" x2="1153.1" y1="144.1" y2="146.6" stroke="#26a69a" stroke-width="1"/>
<line x1="1153.1" x2="1153.1" y1="150.1" y2="153.2" stroke="#26a69a" stroke-width="1"/>
<rect x="1152.0" y="146.6" width="2.2" height="3.6" fill="none" stroke="#26a69a" stroke-width="1"/>
<line x1="1156.9" x2="1156.9" y1="141.1" y2="160.7" stroke="#ef5350" stroke-width="1"/>
<rect x="1155.4" y="142.7" width="3" height="16.0" fill="#ef5350"/>
<line x1="1160.7" x2="1160.7" y1="133.3" y2="141.5" stroke="#26a69a" stroke-width="1"/>
<line x1="1160.7" x2="1160.7" y1="157.8" y2="158.1" stroke="#26a69a" stroke-width="1"/>
<rect x="1159.6" y="141.5" width="2.2" height="16.3" fill="none" stroke="#26a69a" stroke-width="1"/>
<line x1="1164.4" x2="1164.4" y1="120.4" y2="126.9" stroke="#26a69a" stroke-width="1"/>
<line x1="1164.4" x2="1164.4" y1="142.8" y2="147.2" stroke="#26a69a" stroke-width="1"/>
<rect x="1163.3" y="126.9" width="2.2" height="15.9" fill="none" stroke="#26a69a" stroke-width="1"/>
<line x1="1168.2" x2="1168.2" y1="114.3" y2="119.1" stroke="#26a69a" stroke-width="1"/>
<line x1="1168.2" x2="1168.2" y1="127.1" y2="127.6" stroke="#26a69a" stroke-width="1"/>
<rect x="1167.1" y="119.1" width="2.2" height="8.0" fill="none" stroke="#26a69a" stroke-width="1"/>
<line x1="1172.0" x2="1172.0" y1="95.1" y2="99.6" stroke="#26a69a" stroke-width="1"/>
<line x1="1172.0" x2="1172.0" y1="116.6" y2="119.4" stroke="#26a69a" stroke-width="1"/>
<rect x="1170.9" y="99.6" width="2.2" height="17.0" fill="none" stroke="#26a69a" stroke-width="1"/>
<line x1="1175.7" x2="1175.7" y1="92.2" y2="103.4" stroke="#ef5350" stroke-width="1"/>
<rect x="1174.2" y="94.1" width="3" height="6.8" fill="#ef5350"/>
<line x1="1179.5" x2="1179.5" y1="90.2" y2="98.8" stroke="#ef5350" stroke-width="1"/>
<rect x="1178.0" y="93.7" width="3" height="2.3" fill="#ef5350"/>
<line x1="1183.2" x2="1183.2" y1="91.7" y2="134.4" stroke="#ef5350" stroke-width="1"/>
<rect x="1181.7" y="92.3" width="3" height="40.2" fill="#ef5350"/>
<line x1="1187.0" x2="1187.0" y1="129.8" y2="150.8" stroke="#ef5350" stroke-width="1"/>
<rect x="1185.5" y="131.1" width="3" height="19.6" fill="#ef5350"/>
<line x1="1190.8" x2="1190.8" y1="135.0" y2="139.4" stroke="#26a69a" stroke-width="1"/>
<line x1="1190.8" x2="1190.8" y1="150.0" y2="153.0" stroke="#26a69a" stroke-width="1"/>
<rect x="1189.7" y="139.4" width="2.2" height="10.6" fill="none" stroke="#26a69a" stroke-width="1"/>
<line x1="1194.5" x2="1194.5" y1="133.8" y2="134.4" stroke="#26a69a" stroke-width="1"/>
<line x1="1194.5" x2="1194.5" y1="138.6" y2="141.2" stroke="#26a69a" stroke-width="1"/>
<rect x="1193.4" y="134.4" width="2.2" height="4.2" fill="none" stroke="#26a69a" stroke-width="1"/>
<line x1="1198.3" x2="1198.3" y1="119.5" y2="120.6" stroke="#26a69a" stroke-width="1"/>
<line x1="1198.3" x2="1198.3" y1="136.0" y2="138.1" stroke="#26a69a" stroke-width="1"/>
<rect x="1197.2" y="120.6" width="2.2" height="15.4" fill="none" stroke="#26a69a" stroke-width="1"/>
<line x1="1202.1" x2="1202.1" y1="118.4" y2="132.1" stroke="#ef5350" stroke-width="1"/>
<rect x="1200.6" y="122.1" width="3" height="9.5" fill="#ef5350"/>
<line x1="1205.8" x2="1205.8" y1="131.2" y2="144.3" stroke="#ef5350" stroke-width="1"/>
<rect x="1204.3" y="132.4" width="3" height="3.9" fill="#ef5350"/>
<line x1="1209.6" x2="1209.6" y1="136.7" y2="144.2" stroke="#ef5350" stroke-width="1"/>
<rect x="1208.1" y="136.8" width="3" height="6.4" fill="#ef5350"/>
<line x1="1213.3" x2="1213.3" y1="138.4" y2="142.3" stroke="#26a69a" stroke-width="1"/>
<line x1="1213.3" x2="1213.3" y1="143.8" y2="145.3" stroke="#26a69a" stroke-width="1"/>
<rect x="1212.2" y="142.3" width="2.2" height="1.5" fill="none" stroke="#26a69a" stroke-width="1"/>
<line x1="1217.1" x2="1217.1" y1="136.9" y2="144.8" stroke="#ef5350" stroke-width="1"/>
<rect x="1215.6" y="141.3" width="3" height="1.5" fill="#ef5350"/>
<line x1="1220.9" x2="1220.9" y1="136.6" y2="140.4" stroke="#26a69a" stroke-width="1"/>
<line x1="1220.9" x2="1220.9" y1="143.3" y2="144.7" stroke="#26a69a" stroke-width="1"/>
<rect x="1219.8" y="140.4" width="2.2" height="2.9" fill="none" stroke="#26a69a" stroke-width="1"/>
<line x1="1224.6" x2="1224.6" y1="138.0" y2="149.2" stroke="#ef5350" stroke-width="1"/>
<rect x="1223.1" y="140.7" width="3" height="8.3" fill="#ef5350"/>
<line x1="1228.4" x2="1228.4" y1="143.3" y2="145.6" stroke="#26a69a" stroke-width="1"/>
<line x1="1228.4" x2="1228.4" y1="147.1" y2="147.0" stroke="#26a69a" stroke-width="1"/>
<rect x="1227.3" y="145.6" width="2.2" height="1.5" fill="none" stroke="#26a69a" stroke-width="1"/>
<line x1="1232.1" x2="1232.1" y1="134.4" y2="137.2" stroke="#26a69a" stroke-width="1"/>
<line x1="1232.1" x2="1232.1" y1="145.7" y2="148.7" stroke="#26a69a" stroke-width="1"/>
<rect x="1231.0" y="137.2" width="2.2" height="8.5" fill="none" stroke="#26a69a" stroke-width="1"/>
<line x1="1235.9" x2="1235.9" y1="136.1" y2="137.2" stroke="#26a69a" stroke-width="1"/>
<line x1="1235.9" x2="1235.9" y1="138.7" y2="138.2" stroke="#26a69a" stroke-width="1"/>
<rect x="1234.8" y="137.2" width="2.2" height="1.5" fill="none" stroke="#26a69a" stroke-width="1"/>
<line x1="1239.7" x2="1239.7" y1="133.3" y2="134.0" stroke="#26a69a" stroke-width="1"/>
<line x1="1239.7" x2="1239.7" y1="136.7" y2="143.3" stroke="#26a69a" stroke-width="1"/>
<rect x="1238.6" y="134.0" width="2.2" height="2.7" fill="none" stroke="#26a69a" stroke-width="1"/>
<line x1="1243.4" x2="1243.4" y1="130.3" y2="138.9" stroke="#ef5350" stroke-width="1"/>
<rect x="1241.9" y="134.0" width="3" height="4.8" fill="#ef5350"/>
<line x1="1247.2" x2="1247.2" y1="130.5" y2="138.4" stroke="#26a69a" stroke-width="1"/>
<line x1="1247.2" x2="1247.2" y1="139.9" y2="148.5" stroke="#26a69a" stroke-width="1"/>
<rect x="1246.1" y="138.4" width="2.2" height="1.5" fill="none" stroke="#26a69a" stroke-width="1"/>
<line x1="1251.0" x2="1251.0" y1="119.2" y2="122.9" stroke="#26a69a" stroke-width="1"/>
<line x1="1251.0" x2="1251.0" y1="135.7" y2="145.8" stroke="#26a69a" stroke-width="1"/>
<rect x="1249.9" y="122.9" width="2.2" height="12.8" fill="none" stroke="#26a69a" stroke-width="1"/>
<line x1="1254.7" x2="1254.7" y1="101.9" y2="103.9" stroke="#26a69a" stroke-width="1"/>
<line x1="1254.7" x2="1254.7" y1="123.1" y2="124.3" stroke="#26a69a" stroke-width="1"/>
<rect x="1253.6" y="103.9" width="2.2" height="19.2" fill="none" stroke="#26a69a" stroke-width="1"/>
<line x1="1258.5" x2="1258.5" y1="97.3" y2="127.0" stroke="#ef5350" stroke-width="1"/>
<rect x="1257.0" y="100.5" width="3" height="25.1" fill="#ef5350"/>
<line x1="1262.2" x2="1262.2" y1="122.3" y2="126.7" stroke="#ef5350" stroke-width="1"/>
<rect x="1260.7" y="124.8" width="3" height="1.5" fill="#ef5350"/>
<line x1="1266.0" x2="1266.0" y1="115.5" y2="129.1" stroke="#ef5350" stroke-width="1"/>
<rect x="1264.5" y="124.0" width="3" height="4.9" fill="#ef5350"/>
<line x1="1269.8" x2="1269.8" y1="126.7" y2="130.1" stroke="#26a69a" stroke-width="1"/>
<line x1="1269.8" x2="1269.8" y1="136.7" y2="136.8" stroke="#26a69a" stroke-width="1"/>
<rect x="1268.7" y="130.1" width="2.2" height="6.6" fill="none" stroke="#26a69a" stroke-width="1"/>
<line x1="1273.5" x2="1273.5" y1="132.2" y2="155.0" stroke="#ef5350" stroke-width="1"/>
<rect x="1272.0" y="136.9" width="3" height="10.5" fill="#ef5350"/>
<line x1="1277.3" x2="1277.3" y1="135.6" y2="138.8" stroke="#26a69a" stroke-width="1"/>
<line x1="1277.3" x2="1277.3" y1="144.6" y2="150.4" stroke="#26a69a" stroke-width="1"/>
<rect x="1276.2" y="138.8" width="2.2" height="5.8" fill="none" stroke="#26a69a" stroke-width="1"/>
<line x1="1281.0" x2="1281.0" y1="137.7" y2="149.1" stroke="#ef5350" stroke-width="1"/>
<rect x="1279.5" y="140.0" width="3" height="6.4" fill="#ef5350"/>
<line x1="1284.8" x2="1284.8" y1="138.2" y2="149.6" stroke="#ef5350" stroke-width="1"/>
<rect x="1283.3" y="145.1" width="3" height="1.5" fill="#ef5350"/>
<line x1="1288.6" x2="1288.6" y1="146.1" y2="157.9" stroke="#ef5350" stroke-width="1"/>
<rect x="1287.1" y="148.7" width="3" height="6.4" fill="#ef5350"/>
<line x1="1292.3" x2="1292.3" y1="134.7" y2="139.7" stroke="#26a69a" stroke-width="1"/>
<line x1="1292.3" x2="1292.3" y1="154.0" y2="154.3" stroke="#26a69a" stroke-width="1"/>
<rect x="1291.2" y="139.7" width="2.2" height="14.3" fill="none" stroke="#26a69a" stroke-width="1"/>
<line x1="1296.1" x2="1296.1" y1="126.8" y2="129.0" stroke="#26a69a" stroke-width="1"/>
<line x1="1296.1" x2="1296.1" y1="141.6" y2="142.5" stroke="#26a69a" stroke-width="1"/>
<rect x="1295.0" y="129.0" width="2.2" height="12.7" fill="none" stroke="#26a69a" stroke-width="1"/>
<line x1="1299.9" x2="1299.9" y1="127.3" y2="135.3" stroke="#ef5350" stroke-width="1"/>
<rect x="1298.4" y="128.5" width="3" height="4.1" fill="#ef5350"/>
<line x1="1303.6" x2="1303.6" y1="109.1" y2="113.9" stroke="#26a69a" stroke-width="1"/>
<line x1="1303.6" x2="1303.6" y1="129.3" y2="132.2" stroke="#26a69a" stroke-width="1"/>
<rect x="1302.5" y="113.9" width="2.2" height="15.5" fill="none" stroke="#26a69a" stroke-width="1"/>
<line x1="1307.4" x2="1307.4" y1="111.8" y2="119.0" stroke="#ef5350" stroke-width="1"/>
<rect x="1305.9" y="113.9" width="3" height="4.6" fill="#ef5350"/>
<line x1="1311.1" x2="1311.1" y1="100.6" y2="108.6" stroke="#26a69a" stroke-width="1"/>
<line x1="1311.1" x2="1311.1" y1="117.5" y2="118.1" stroke="#26a69a" stroke-width="1"/>
<rect x="1310.0" y="108.6" width="2.2" height="8.8" fill="none" stroke="#26a69a" stroke-width="1"/>
<line x1="1314.9" x2="1314.9" y1="109.0" y2="111.7" stroke="#ef5350" stroke-width="1"/>
<rect x="1313.4" y="109.4" width="3" height="1.6" fill="#ef5350"/>
<line x1="1318.7" x2="1318.7" y1="97.7" y2="100.5" stroke="#26a69a" stroke-width="1"/>
<line x1="1318.7" x2="1318.7" y1="111.1" y2="113.3" stroke="#26a69a" stroke-width="1"/>
<rect x="1317.6" y="100.5" width="2.2" height="10.5" fill="none" stroke="#26a69a" stroke-width="1"/>
<line x1="1322.4" x2="1322.4" y1="80.6" y2="82.8" stroke="#26a69a" stroke-width="1"/>
<line x1="1322.4" x2="1322.4" y1="102.5" y2="103.9" stroke="#26a69a" stroke-width="1"/>
<rect x="1321.3" y="82.8" width="2.2" height="19.7" fill="none" stroke="#26a69a" stroke-width="1"/>
<line x1="1326.2" x2="1326.2" y1="57.0" y2="88.3" stroke="#ef5350" stroke-width="1"/>
<rect x="1324.7" y="67.6" width="3" height="14.0" fill="#ef5350"/>
<line x1="1329.9" x2="1329.9" y1="64.0" y2="145.3" stroke="#ef5350" stroke-width="1"/>
<rect x="1328.4" y="68.5" width="3" height="73.7" fill="#ef5350"/>
<line x1="1333.7" x2="1333.7" y1="137.9" y2="160.0" stroke="#ef5350" stroke-width="1"/>
<rect x="1332.2" y="140.3" width="3" height="18.0" fill="#ef5350"/>
<line x1="1337.5" x2="1337.5" y1="155.1" y2="160.4" stroke="#ef5350" stroke-width="1"/>
<rect x="1336.0" y="158.4" width="3" height="1.5" fill="#ef5350"/>
<line x1="1341.2" x2="1341.2" y1="132.9" y2="138.6" stroke="#26a69a" stroke-width="1"/>
<line x1="1341.2" x2="1341.2" y1="157.8" y2="160.1" stroke="#26a69a" stroke-width="1"/>
<rect x="1340.1" y="138.6" width="2.2" height="19.2" fill="none" stroke="#26a69a" stroke-width="1"/>
<line x1="1345.0" x2="1345.0" y1="124.6" y2="129.1" stroke="#26a69a" stroke-width="1"/>
<line x1="1345.0" x2="1345.0" y1="141.8" y2="143.1" stroke="#26a69a" stroke-width="1"/>
<rect x="1343.9" y="129.1" width="2.2" height="12.7" fill="none" stroke="#26a69a" stroke-width="1"/>
<line x1="1348.8" x2="1348.8" y1="123.6" y2="141.2" stroke="#ef5350" stroke-width="1"/>
<rect x="1347.3" y="129.8" width="3" height="9.1" fill="#ef5350"/>
<line x1="1352.5" x2="1352.5" y1="137.0" y2="162.4" stroke="#ef5350" stroke-width="1"/>
<rect x="1351.0" y="139.0" width="3" height="22.6" fill="#ef5350"/>
<line x1="1356.3" x2="1356.3" y1="158.1" y2="165.6" stroke="#ef5350" stroke-width="1"/>
<rect x="1354.8" y="163.6" width="3" height="1.8" fill="#ef5350"/>
<line x1="1360.0" x2="1360.0" y1="163.3" y2="172.5" stroke="#ef5350" stroke-width="1"/>
<rect x="1358.5" y="164.5" width="3" height="5.0" fill="#ef5350"/>
<line x1="1363.8" x2="1363.8" y1="169.2" y2="191.2" stroke="#ef5350" stroke-width="1"/>
<rect x="1362.3" y="170.4" width="3" height="14.9" fill="#ef5350"/>
<line x1="1367.6" x2="1367.6" y1="182.8" y2="183.0" stroke="#26a69a" stroke-width="1"/>
<line x1="1367.6" x2="1367.6" y1="185.5" y2="189.7" stroke="#26a69a" stroke-width="1"/>
<rect x="1366.5" y="183.0" width="2.2" height="2.5" fill="none" stroke="#26a69a" stroke-width="1"/>
<line x1="1371.3" x2="1371.3" y1="169.2" y2="169.5" stroke="#26a69a" stroke-width="1"/>
<line x1="1371.3" x2="1371.3" y1="181.3" y2="183.1" stroke="#26a69a" stroke-width="1"/>
<rect x="1370.2" y="169.5" width="2.2" height="11.8" fill="none" stroke="#26a69a" stroke-width="1"/>
<line x1="1375.1" x2="1375.1" y1="166.7" y2="180.5" stroke="#ef5350" stroke-width="1"/>
<rect x="1373.6" y="169.9" width="3" height="5.1" fill="#ef5350"/>
<line x1="1378.9" x2="1378.9" y1="165.0" y2="165.7" stroke="#26a69a" stroke-width="1"/>
<line x1="1378.9" x2="1378.9" y1="172.3" y2="175.2" stroke="#26a69a" stroke-width="1"/>
<rect x="1377.8" y="165.7" width="2.2" height="6.6" fill="none" stroke="#26a69a" stroke-width="1"/>
<line x1="1382.6" x2="1382.6" y1="162.4" y2="163.5" stroke="#26a69a" stroke-width="1"/>
<line x1="1382.6" x2="1382.6" y1="165.2" y2="169.6" stroke="#26a69a" stroke-width="1"/>
<rect x="1381.5" y="163.5" width="2.2" height="1.6" fill="none" stroke="#26a69a" stroke-width="1"/>
<line x1="1386.4" x2="1386.4" y1="163.1" y2="168.8" stroke="#ef5350" stroke-width="1"/>
<rect x="1384.9" y="165.6" width="3" height="2.6" fill="#ef5350"/>
<line x1="1390.1" x2="1390.1" y1="164.5" y2="164.7" stroke="#26a69a" stroke-width="1"/>
<line x1="1390.1" x2="1390.1" y1="168.1" y2="170.9" stroke="#26a69a" stroke-width="1"/>
<rect x="1389.0" y="164.7" width="2.2" height="3.4" fill="none" stroke="#26a69a" stroke-width="1"/>
<line x1="1393.9" x2="1393.9" y1="161.0" y2="164.5" stroke="#ef5350" stroke-width="1"/>
<rect x="1392.4" y="161.1" width="3" height="1.5" fill="#ef5350"/>
<line x1="1397.7" x2="1397.7" y1="159.6" y2="182.0" stroke="#ef5350" stroke-width="1"/>
<rect x="1396.2" y="160.2" width="3" height="13.6" fill="#ef5350"/>
<line x1="1401.4" x2="1401.4" y1="166.4" y2="171.8" stroke="#26a69a" stroke-width="1"/>
<line x1="1401.4" x2="1401.4" y1="173.3" y2="181.2" stroke="#26a69a" stroke-width="1"/>
<rect x="1400.3" y="171.8" width="2.2" height="1.5" fill="none" stroke="#26a69a" stroke-width="1"/>
<line x1="1405.2" x2="1405.2" y1="169.9" y2="180.8" stroke="#ef5350" stroke-width="1"/>
<rect x="1403.7" y="172.4" width="3" height="1.5" fill="#ef5350"/>
<line x1="1408.9" x2="1408.9" y1="162.2" y2="165.2" stroke="#26a69a" stroke-width="1"/>
<line x1="1408.9" x2="1408.9" y1="174.6" y2="176.0" stroke="#26a69a" stroke-width="1"/>
<rect x="1407.8" y="165.2" width="2.2" height="9.5" fill="none" stroke="#26a69a" stroke-width="1"/>
<line x1="1412.7" x2="1412.7" y1="158.0" y2="165.4" stroke="#26a69a" stroke-width="1"/>
<line x1="1412.7" x2="1412.7" y1="167.2" y2="171.1" stroke="#26a69a" stroke-width="1"/>
<rect x="1411.6" y="165.4" width="2.2" height="1.8" fill="none" stroke="#26a69a" stroke-width="1"/>
<line x1="1416.5" x2="1416.5" y1="150.1" y2="156.9" stroke="#26a69a" stroke-width="1"/>
<line x1="1416.5" x2="1416.5" y1="165.7" y2="171.1" stroke="#26a69a" stroke-width="1"/>
<rect x="1415.4" y="156.9" width="2.2" height="8.8" fill="none" stroke="#26a69a" stroke-width="1"/>
<line x1="1420.2" x2="1420.2" y1="151.0" y2="152.1" stroke="#26a69a" stroke-width="1"/>
<line x1="1420.2" x2="1420.2" y1="157.6" y2="157.8" stroke="#26a69a" stroke-width="1"/>
<rect x="1419.1" y="152.1" width="2.2" height="5.5" fill="none" stroke="#26a69a" stroke-width="1"/>
<line x1="1424.0" x2="1424.0" y1="148.1" y2="159.2" stroke="#ef5350" stroke-width="1"/>
<rect x="1422.5" y="150.1" width="3" height="3.3" fill="#ef5350"/>
<line x1="1427.8" x2="1427.8" y1="149.6" y2="166.9" stroke="#ef5350" stroke-width="1"/>
<rect x="1426.3" y="154.2" width="3" height="7.4" fill="#ef5350"/>
<line x1="1431.5" x2="1431.5" y1="148.8" y2="155.8" stroke="#26a69a" stroke-width="1"/>
<line x1="1431.5" x2="1431.5" y1="158.7" y2="161.8" stroke="#26a69a" stroke-width="1"/>
<rect x="1430.4" y="155.8" width="2.2" height="2.9" fill="none" stroke="#26a69a" stroke-width="1"/>
<line x1="1435.3" x2="1435.3" y1="152.0" y2="159.9" stroke="#ef5350" stroke-width="1"/>
<rect x="1433.8" y="154.0" width="3" height="4.3" fill="#ef5350"/>
<line x1="1439.0" x2="1439.0" y1="138.4" y2="142.4" stroke="#26a69a" stroke-width="1"/>
<line x1="1439.0" x2="1439.0" y1="158.5" y2="164.2" stroke="#26a69a" stroke-width="1"/>
<rect x="1437.9" y="142.4" width="2.2" height="16.1" fill="none" stroke="#26a69a" stroke-width="1"/>
<line x1="1442.8" x2="1442.8" y1="69.0" y2="124.4" stroke="#26a69a" stroke-width="1"/>
<line x1="1442.8" x2="1442.8" y1="140.3" y2="142.6" stroke="#26a69a" stroke-width="1"/>
<rect x="1441.7" y="124.4" width="2.2" height="15.9" fill="none" stroke="#26a69a" stroke-width="1"/>
<line x1="1446.6" x2="1446.6" y1="124.7" y2="128.1" stroke="#ef5350" stroke-width="1"/>
<rect x="1445.1" y="124.8" width="3" height="1.5" fill="#ef5350"/>
<line x1="1450.3" x2="1450.3" y1="112.9" y2="115.8" stroke="#26a69a" stroke-width="1"/>
<line x1="1450.3" x2="1450.3" y1="126.9" y2="127.3" stroke="#26a69a" stroke-width="1"/>
<rect x="1449.2" y="115.8" width="2.2" height="11.1" fill="none" stroke="#26a69a" stroke-width="1"/>
<line x1="1454.1" x2="1454.1" y1="114.3" y2="116.6" stroke="#26a69a" stroke-width="1"/>
<line x1="1454.1" x2="1454.1" y1="118.2" y2="120.6" stroke="#26a69a" stroke-width="1"/>
<rect x="1453.0" y="116.6" width="2.2" height="1.6" fill="none" stroke="#26a69a" stroke-width="1"/>
<line x1="1457.8" x2="1457.8" y1="113.0" y2="131.7" stroke="#ef5350" stroke-width="1"/>
<rect x="1456.3" y="116.2" width="3" height="11.2" fill="#ef5350"/>
<line x1="1461.6" x2="1461.6" y1="121.7" y2="132.9" stroke="#ef5350" stroke-width="1"/>
<rect x="1460.1" y="127.7" width="3" height="2.6" fill="#ef5350"/>
<line x1="1465.4" x2="1465.4" y1="122.1" y2="124.7" stroke="#26a69a" stroke-width="1"/>
<line x1="1465.4" x2="1465.4" y1="132.2" y2="132.9" stroke="#26a69a" stroke-width="1"/>
<rect x="1464.3" y="124.7" width="2.2" height="7.6" fill="none" stroke="#26a69a" stroke-width="1"/>
<line x1="1469.1" x2="1469.1" y1="123.2" y2="144.4" stroke="#ef5350" stroke-width="1"/>
<rect x="1467.6" y="124.2" width="3" height="18.1" fill="#ef5350"/>
<line x1="1472.9" x2="1472.9" y1="141.5" y2="167.9" stroke="#ef5350" stroke-width="1"/>
<rect x="1471.4" y="142.3" width="3" height="15.2" fill="#ef5350"/>
<line x1="1476.7" x2="1476.7" y1="150.7" y2="171.6" stroke="#ef5350" stroke-width="1"/>
<rect x="1475.2" y="157.5" width="3" height="13.8" fill="#ef5350"/>
<line x1="1480.4" x2="1480.4" y1="168.8" y2="180.9" stroke="#ef5350" stroke-width="1"/>
<rect x="1478.9" y="172.9" width="3" height="2.1" fill="#ef5350"/>
<line x1="1484.2" x2="1484.2" y1="178.0" y2="184.7" stroke="#ef5350" stroke-width="1"/>
<rect x="1482.7" y="178.6" width="3" height="3.6" fill="#ef5350"/>
<line x1="1487.9" x2="1487.9" y1="176.3" y2="195.0" stroke="#ef5350" stroke-width="1"/>
<rect x="1486.4" y="180.5" width="3" height="11.1" fill="#ef5350"/>
<line x1="1491.7" x2="1491.7" y1="190.7" y2="192.9" stroke="#26a69a" stroke-width="1"/>
<line x1="1491.7" x2="1491.7" y1="214.8" y2="221.1" stroke="#26a69a" stroke-width="1"/>
<rect x="1490.6" y="192.9" width="2.2" height="21.9" fill="none" stroke="#26a69a" stroke-width="1"/>
<line x1="1495.5" x2="1495.5" y1="210.6" y2="216.3" stroke="#ef5350" stroke-width="1"/>
<rect x="1494.0" y="213.7" width="3" height="1.5" fill="#ef5350"/>
<line x1="1499.2" x2="1499.2" y1="213.1" y2="228.8" stroke="#ef5350" stroke-width="1"/>
<rect x="1497.7" y="213.7" width="3" height="14.6" fill="#ef5350"/>
<line x1="1503.0" x2="1503.0" y1="221.4" y2="225.1" stroke="#26a69a" stroke-width="1"/>
<line x1="1503.0" x2="1503.0" y1="229.4" y2="232.0" stroke="#26a69a" stroke-width="1"/>
<rect x="1501.9" y="225.1" width="2.2" height="4.3" fill="none" stroke="#26a69a" stroke-width="1"/>
<line x1="1506.7" x2="1506.7" y1="214.0" y2="214.4" stroke="#26a69a" stroke-width="1"/>
<line x1="1506.7" x2="1506.7" y1="227.2" y2="231.4" stroke="#26a69a" stroke-width="1"/>
<rect x="1505.6" y="214.4" width="2.2" height="12.8" fill="none" stroke="#26a69a" stroke-width="1"/>
<line x1="1510.5" x2="1510.5" y1="213.8" y2="246.0" stroke="#ef5350" stroke-width="1"/>
<rect x="1509.0" y="213.9" width="3" height="4.9" fill="#ef5350"/>
<line x1="1514.3" x2="1514.3" y1="215.8" y2="236.9" stroke="#ef5350" stroke-width="1"/>
<rect x="1512.8" y="219.9" width="3" height="10.9" fill="#ef5350"/>
<line x1="1518.0" x2="1518.0" y1="225.4" y2="227.4" stroke="#26a69a" stroke-width="1"/>
<line x1="1518.0" x2="1518.0" y1="228.9" y2="232.4" stroke="#26a69a" stroke-width="1"/>
<rect x="1516.9" y="227.4" width="2.2" height="1.5" fill="none" stroke="#26a69a" stroke-width="1"/>
<line x1="1521.8" x2="1521.8" y1="222.5" y2="239.1" stroke="#ef5350" stroke-width="1"/>
<rect x="1520.3" y="225.4" width="3" height="10.7" fill="#ef5350"/>
<line x1="1525.6" x2="1525.6" y1="234.2" y2="249.9" stroke="#ef5350" stroke-width="1"/>
<rect x="1524.1" y="235.4" width="3" height="11.5" fill="#ef5350"/>
<line x1="1529.3" x2="1529.3" y1="242.9" y2="252.6" stroke="#ef5350" stroke-width="1"/>
<rect x="1527.8" y="244.1" width="3" height="6.6" fill="#ef5350"/>
<line x1="1533.1" x2="1533.1" y1="249.8" y2="262.9" stroke="#ef5350" stroke-width="1"/>
<rect x="1531.6" y="252.1" width="3" height="10.5" fill="#ef5350"/>
<line x1="1536.8" x2="1536.8" y1="257.4" y2="268.3" stroke="#ef5350" stroke-width="1"/>
<rect x="1535.3" y="263.5" width="3" height="3.9" fill="#ef5350"/>
<line x1="1540.6" x2="1540.6" y1="266.7" y2="287.4" stroke="#ef5350" stroke-width="1"/>
<rect x="1539.1" y="269.7" width="3" height="15.5" fill="#ef5350"/>
<line x1="1544.4" x2="1544.4" y1="277.7" y2="278.1" stroke="#26a69a" stroke-width="1"/>
<line x1="1544.4" x2="1544.4" y1="284.9" y2="288.9" stroke="#26a69a" stroke-width="1"/>
<rect x="1543.3" y="278.1" width="2.2" height="6.8" fill="none" stroke="#26a69a" stroke-width="1"/>
<line x1="1548.1" x2="1548.1" y1="258.6" y2="260.6" stroke="#26a69a" stroke-width="1"/>
<line x1="1548.1" x2="1548.1" y1="280.1" y2="281.8" stroke="#26a69a" stroke-width="1"/>
<rect x="1547.0" y="260.6" width="2.2" height="19.5" fill="none" stroke="#26a69a" stroke-width="1"/>
<line x1="1551.9" x2="1551.9" y1="234.0" y2="239.4" stroke="#26a69a" stroke-width="1"/>
<line x1="1551.9" x2="1551.9" y1="260.9" y2="264.9" stroke="#26a69a" stroke-width="1"/>
<rect x="1550.8" y="239.4" width="2.2" height="21.5" fill="none" stroke="#26a69a" stroke-width="1"/>
<line x1="1555.7" x2="1555.7" y1="216.1" y2="218.9" stroke="#26a69a" stroke-width="1"/>
<line x1="1555.7" x2="1555.7" y1="237.7" y2="240.9" stroke="#26a69a" stroke-width="1"/>
<rect x="1554.6" y="218.9" width="2.2" height="18.8" fill="none" stroke="#26a69a" stroke-width="1"/>
<line x1="1559.4" x2="1559.4" y1="215.4" y2="232.3" stroke="#ef5350" stroke-width="1"/>
<rect x="1557.9" y="220.5" width="3" height="8.3" fill="#ef5350"/>
<line x1="1563.2" x2="1563.2" y1="222.3" y2="239.1" stroke="#ef5350" stroke-width="1"/>
<rect x="1561.7" y="227.9" width="3" height="8.4" fill="#ef5350"/>
<line x1="1566.9" x2="1566.9" y1="225.6" y2="226.9" stroke="#26a69a" stroke-width="1"/>
<line x1="1566.9" x2="1566.9" y1="236.8" y2="244.5" stroke="#26a69a" stroke-width="1"/>
<rect x="1565.8" y="226.9" width="2.2" height="9.9" fill="none" stroke="#26a69a" stroke-width="1"/>
<line x1="1570.7" x2="1570.7" y1="221.2" y2="229.6" stroke="#ef5350" stroke-width="1"/>
<rect x="1569.2" y="224.6" width="3" height="1.5" fill="#ef5350"/>
<line x1="1574.5" x2="1574.5" y1="215.1" y2="217.2" stroke="#26a69a" stroke-width="1"/>
<line x1="1574.5" x2="1574.5" y1="223.7" y2="228.6" stroke="#26a69a" stroke-width="1"/>
<rect x="1573.4" y="217.2" width="2.2" height="6.5" fill="none" stroke="#26a69a" stroke-width="1"/>
<line x1="1578.2" x2="1578.2" y1="216.9" y2="242.8" stroke="#ef5350" stroke-width="1"/>
<rect x="1576.7" y="218.1" width="3" height="18.8" fill="#ef5350"/>
<line x1="1582.0" x2="1582.0" y1="232.4" y2="244.2" stroke="#ef5350" stroke-width="1"/>
<rect x="1580.5" y="236.1" width="3" height="6.2" fill="#ef5350"/>
<line x1="1585.7" x2="1585.7" y1="237.3" y2="253.2" stroke="#ef5350" stroke-width="1"/>
<rect x="1584.2" y="241.2" width="3" height="4.2" fill="#ef5350"/>
<line x1="1589.5" x2="1589.5" y1="246.8" y2="258.3" stroke="#ef5350" stroke-width="1"/>
<rect x="1588.0" y="247.4" width="3" height="7.1" fill="#ef5350"/>
<line x1="1593.3" x2="1593.3" y1="226.4" y2="231.0" stroke="#26a69a" stroke-width="1"/>
<line x1="1593.3" x2="1593.3" y1="254.8" y2="256.0" stroke="#26a69a" stroke-width="1"/>
<rect x="1592.2" y="231.0" width="2.2" height="23.8" fill="none" stroke="#26a69a" stroke-width="1"/>
<line x1="1597.0" x2="1597.0" y1="228.9" y2="241.2" stroke="#ef5350" stroke-width="1"/>
<rect x="1595.5" y="233.2" width="3" height="6.3" fill="#ef5350"/>
<line x1="1600.8" x2="1600.8" y1="215.3" y2="221.1" stroke="#26a69a" stroke-width="1"/>
<line x1="1600.8" x2="1600.8" y1="240.7" y2="242.2" stroke="#26a69a" stroke-width="1"/>
<rect x="1599.7" y="221.1" width="2.2" height="19.6" fill="none" stroke="#26a69a" stroke-width="1"/>
<line x1="1604.6" x2="1604.6" y1="193.5" y2="225.0" stroke="#ef5350" stroke-width="1"/>
<rect x="1603.1" y="195.7" width="3" height="25.2" fill="#ef5350"/>
<line x1="1608.3" x2="1608.3" y1="180.0" y2="181.4" stroke="#26a69a" stroke-width="1"/>
<line x1="1608.3" x2="1608.3" y1="197.7" y2="203.2" stroke="#26a69a" stroke-width="1"/>
<rect x="1607.2" y="181.4" width="2.2" height="16.3" fill="none" stroke="#26a69a" stroke-width="1"/>
<line x1="1612.1" x2="1612.1" y1="170.3" y2="178.2" stroke="#26a69a" stroke-width="1"/>
<line x1="1612.1" x2="1612.1" y1="183.0" y2="190.6" stroke="#26a69a" stroke-width="1"/>
<rect x="1611.0" y="178.2" width="2.2" height="4.8" fill="none" stroke="#26a69a" stroke-width="1"/>
<line x1="1615.8" x2="1615.8" y1="178.0" y2="189.8" stroke="#ef5350" stroke-width="1"/>
<rect x="1614.3" y="178.6" width="3" height="7.5" fill="#ef5350"/>
<line x1="1619.6" x2="1619.6" y1="181.0" y2="220.2" stroke="#ef5350" stroke-width="1"/>
<rect x="1618.1" y="186.2" width="3" height="31.2" fill="#ef5350"/>
<line x1="1623.4" x2="1623.4" y1="217.3" y2="218.3" stroke="#26a69a" stroke-width="1"/>
<line x1="1623.4" x2="1623.4" y1="227.5" y2="233.7" stroke="#26a69a" stroke-width="1"/>
<rect x="1622.3" y="218.3" width="2.2" height="9.2" fill="none" stroke="#26a69a" stroke-width="1"/>
<line x1="1627.1" x2="1627.1" y1="225.5" y2="260.9" stroke="#ef5350" stroke-width="1"/>
<rect x="1625.6" y="226.8" width="3" height="27.4" fill="#ef5350"/>
<line x1="1630.9" x2="1630.9" y1="250.4" y2="259.9" stroke="#ef5350" stroke-width="1"/>
<rect x="1629.4" y="254.9" width="3" height="1.5" fill="#ef5350"/>
<line x1="1634.6" x2="1634.6" y1="248.3" y2="257.1" stroke="#ef5350" stroke-width="1"/>
<rect x="1633.1" y="253.1" width="3" height="3.0" fill="#ef5350"/>
<line x1="1638.4" x2="1638.4" y1="246.8" y2="250.1" stroke="#26a69a" stroke-width="1"/>
<line x1="1638.4" x2="1638.4" y1="259.9" y2="264.3" stroke="#26a69a" stroke-width="1"/>
<rect x="1637.3" y="250.1" width="2.2" height="9.9" fill="none" stroke="#26a69a" stroke-width="1"/>
<line x1="1642.2" x2="1642.2" y1="240.7" y2="243.8" stroke="#26a69a" stroke-width="1"/>
<line x1="1642.2" x2="1642.2" y1="247.5" y2="248.2" stroke="#26a69a" stroke-width="1"/>
<rect x="1641.1" y="243.8" width="2.2" height="3.7" fill="none" stroke="#26a69a" stroke-width="1"/>
<line x1="1645.9" x2="1645.9" y1="224.4" y2="226.2" stroke="#26a69a" stroke-width="1"/>
<line x1="1645.9" x2="1645.9" y1="243.6" y2="246.7" stroke="#26a69a" stroke-width="1"/>
<rect x="1644.8" y="226.2" width="2.2" height="17.4" fill="none" stroke="#26a69a" stroke-width="1"/>
<line x1="1649.7" x2="1649.7" y1="222.3" y2="224.4" stroke="#26a69a" stroke-width="1"/>
<line x1="1649.7" x2="1649.7" y1="225.9" y2="227.3" stroke="#26a69a" stroke-width="1"/>
<rect x="1648.6" y="224.4" width="2.2" height="1.5" fill="none" stroke="#26a69a" stroke-width="1"/>
<line x1="1653.5" x2="1653.5" y1="213.6" y2="219.6" stroke="#26a69a" stroke-width="1"/>
<line x1="1653.5" x2="1653.5" y1="224.8" y2="224.9" stroke="#26a69a" stroke-width="1"/>
<rect x="1652.4" y="219.6" width="2.2" height="5.2" fill="none" stroke="#26a69a" stroke-width="1"/>
<line x1="1657.2" x2="1657.2" y1="219.3" y2="225.9" stroke="#ef5350" stroke-width="1"/>
<rect x="1655.7" y="220.7" width="3" height="1.5" fill="#ef5350"/>
<line x1="1661.0" x2="1661.0" y1="207.8" y2="209.8" stroke="#26a69a" stroke-width="1"/>
<line x1="1661.0" x2="1661.0" y1="222.7" y2="225.8" stroke="#26a69a" stroke-width="1"/>
<rect x="1659.9" y="209.8" width="2.2" height="12.9" fill="none" stroke="#26a69a" stroke-width="1"/>
<line x1="1664.7" x2="1664.7" y1="201.8" y2="217.1" stroke="#ef5350" stroke-width="1"/>
<rect x="1663.2" y="208.5" width="3" height="6.0" fill="#ef5350"/>
<line x1="1668.5" x2="1668.5" y1="208.5" y2="220.1" stroke="#ef5350" stroke-width="1"/>
<rect x="1667.0" y="213.1" width="3" height="1.5" fill="#ef5350"/>
<line x1="1672.3" x2="1672.3" y1="192.0" y2="201.3" stroke="#26a69a" stroke-width="1"/>
<line x1="1672.3" x2="1672.3" y1="214.3" y2="215.0" stroke="#26a69a" stroke-width="1"/>
<rect x="1671.2" y="201.3" width="2.2" height="13.0" fill="none" stroke="#26a69a" stroke-width="1"/>
<line x1="1676.0" x2="1676.0" y1="190.3" y2="192.0" stroke="#26a69a" stroke-width="1"/>
<line x1="1676.0" x2="1676.0" y1="200.4" y2="201.6" stroke="#26a69a" stroke-width="1"/>
<rect x="1674.9" y="192.0" width="2.2" height="8.3" fill="none" stroke="#26a69a" stroke-width="1"/>
<line x1="1679.8" x2="1679.8" y1="189.1" y2="190.4" stroke="#26a69a" stroke-width="1"/>
<line x1="1679.8" x2="1679.8" y1="194.6" y2="196.4" stroke="#26a69a" stroke-width="1"/>
<rect x="1678.7" y="190.4" width="2.2" height="4.2" fill="none" stroke="#26a69a" stroke-width="1"/>
<line x1="1683.5" x2="1683.5" y1="184.9" y2="214.7" stroke="#ef5350" stroke-width="1"/>
<rect x="1682.0" y="188.9" width="3" height="18.8" fill="#ef5350"/>
<line x1="1687.3" x2="1687.3" y1="192.8" y2="196.7" stroke="#26a69a" stroke-width="1"/>
<line x1="1687.3" x2="1687.3" y1="206.0" y2="213.1" stroke="#26a69a" stroke-width="1"/>
<rect x="1686.2" y="196.7" width="2.2" height="9.3" fill="none" stroke="#26a69a" stroke-width="1"/>
<line x1="1691.1" x2="1691.1" y1="192.0" y2="218.2" stroke="#ef5350" stroke-width="1"/>
<rect x="1689.6" y="193.9" width="3" height="18.8" fill="#ef5350"/>
<line x1="1694.8" x2="1694.8" y1="203.6" y2="210.8" stroke="#26a69a" stroke-width="1"/>
<line x1="1694.8" x2="1694.8" y1="212.3" y2="215.2" stroke="#26a69a" stroke-width="1"/>
<rect x="1693.7" y="210.8" width="2.2" height="1.5" fill="none" stroke="#26a69a" stroke-width="1"/>
<line x1="1698.6" x2="1698.6" y1="210.2" y2="223.7" stroke="#ef5350" stroke-width="1"/>
<rect x="1697.1" y="210.4" width="3" height="11.2" fill="#ef5350"/>
<line x1="1702.4" x2="1702.4" y1="219.6" y2="231.3" stroke="#ef5350" stroke-width="1"/>
<rect x="1700.9" y="221.6" width="3" height="9.2" fill="#ef5350"/>
<line x1="1706.1" x2="1706.1" y1="223.6" y2="234.4" stroke="#ef5350" stroke-width="1"/>
<rect x="1704.6" y="230.9" width="3" height="1.6" fill="#ef5350"/>
<line x1="1709.9" x2="1709.9" y1="227.8" y2="255.8" stroke="#ef5350" stroke-width="1"/>
<rect x="1708.4" y="232.6" width="3" height="22.2" fill="#ef5350"/>
<line x1="1713.6" x2="1713.6" y1="231.8" y2="234.6" stroke="#26a69a" stroke-width="1"/>
<line x1="1713.6" x2="1713.6" y1="252.4" y2="255.2" stroke="#26a69a" stroke-width="1"/>
<rect x="1712.5" y="234.6" width="2.2" height="17.7" fill="none" stroke="#26a69a" stroke-width="1"/>
<line x1="1717.4" x2="1717.4" y1="227.7" y2="231.3" stroke="#26a69a" stroke-width="1"/>
<line x1="1717.4" x2="1717.4" y1="234.5" y2="238.6" stroke="#26a69a" stroke-width="1"/>
<rect x="1716.3" y="231.3" width="2.2" height="3.2" fill="none" stroke="#26a69a" stroke-width="1"/>
<line x1="1721.2" x2="1721.2" y1="222.2" y2="225.8" stroke="#26a69a" stroke-width="1"/>
<line x1="1721.2" x2="1721.2" y1="231.6" y2="239.6" stroke="#26a69a" stroke-width="1"/>
<rect x="1720.1" y="225.8" width="2.2" height="5.8" fill="none" stroke="#26a69a" stroke-width="1"/>
<line x1="1724.9" x2="1724.9" y1="194.6" y2="199.0" stroke="#26a69a" stroke-width="1"/>
<line x1="1724.9" x2="1724.9" y1="229.5" y2="229.8" stroke="#26a69a" stroke-width="1"/>
<rect x="1723.8" y="199.0" width="2.2" height="30.6" fill="none" stroke="#26a69a" stroke-width="1"/>
<line x1="1728.7" x2="1728.7" y1="197.7" y2="215.7" stroke="#ef5350" stroke-width="1"/>
<rect x="1727.2" y="198.7" width="3" height="11.7" fill="#ef5350"/>
<line x1="1732.5" x2="1732.5" y1="210.1" y2="217.2" stroke="#ef5350" stroke-width="1"/>
<rect x="1731.0" y="213.0" width="3" height="1.5" fill="#ef5350"/>
<line x1="1736.2" x2="1736.2" y1="212.6" y2="227.4" stroke="#ef5350" stroke-width="1"/>
<rect x="1734.7" y="213.6" width="3" height="9.9" fill="#ef5350"/>
<line x1="1740.0" x2="1740.0" y1="222.9" y2="238.0" stroke="#ef5350" stroke-width="1"/>
<rect x="1738.5" y="224.4" width="3" height="10.8" fill="#ef5350"/>
<line x1="1743.7" x2="1743.7" y1="230.8" y2="236.7" stroke="#ef5350" stroke-width="1"/>
<rect x="1742.2" y="233.9" width="3" height="2.8" fill="#ef5350"/>
<line x1="1747.5" x2="1747.5" y1="200.4" y2="204.2" stroke="#26a69a" stroke-width="1"/>
<line x1="1747.5" x2="1747.5" y1="236.5" y2="242.0" stroke="#26a69a" stroke-width="1"/>
<rect x="1746.4" y="204.2" width="2.2" height="32.3" fill="none" stroke="#26a69a" stroke-width="1"/>
<line x1="1751.3" x2="1751.3" y1="203.8" y2="212.3" stroke="#ef5350" stroke-width="1"/>
<rect x="1749.8" y="205.4" width="3" height="2.1" fill="#ef5350"/>
<line x1="1755.0" x2="1755.0" y1="197.2" y2="203.1" stroke="#26a69a" stroke-width="1"/>
<line x1="1755.0" x2="1755.0" y1="205.5" y2="207.0" stroke="#26a69a" stroke-width="1"/>
<rect x="1753.9" y="203.1" width="2.2" height="2.4" fill="none" stroke="#26a69a" stroke-width="1"/>
<line x1="1758.8" x2="1758.8" y1="198.8" y2="225.0" stroke="#ef5350" stroke-width="1"/>
<rect x="1757.3" y="201.8" width="3" height="22.1" fill="#ef5350"/>
<line x1="1762.5" x2="1762.5" y1="219.4" y2="230.9" stroke="#ef5350" stroke-width="1"/>
<rect x="1761.0" y="224.0" width="3" height="4.4" fill="#ef5350"/>
<line x1="1766.3" x2="1766.3" y1="221.8" y2="230.5" stroke="#ef5350" stroke-width="1"/>
<rect x="1764.8" y="226.2" width="3" height="1.5" fill="#ef5350"/>
<line x1="1770.1" x2="1770.1" y1="224.6" y2="247.7" stroke="#ef5350" stroke-width="1"/>
<rect x="1768.6" y="226.3" width="3" height="16.6" fill="#ef5350"/>
<line x1="1773.8" x2="1773.8" y1="239.8" y2="259.0" stroke="#ef5350" stroke-width="1"/>
<rect x="1772.3" y="241.9" width="3" height="13.4" fill="#ef5350"/>
<line x1="1777.6" x2="1777.6" y1="254.2" y2="268.1" stroke="#ef5350" stroke-width="1"/>
<rect x="1776.1" y="254.7" width="3" height="12.4" fill="#ef5350"/>
<line x1="1781.4" x2="1781.4" y1="261.8" y2="300.0" stroke="#ef5350" stroke-width="1"/>
<rect x="1779.9" y="263.8" width="3" height="13.9" fill="#ef5350"/>
<line x1="1785.1" x2="1785.1" y1="272.6" y2="286.8" stroke="#ef5350" stroke-width="1"/>
<rect x="1783.6" y="275.3" width="3" height="10.4" fill="#ef5350"/>
<line x1="1788.9" x2="1788.9" y1="279.6" y2="281.3" stroke="#26a69a" stroke-width="1"/>
<line x1="1788.9" x2="1788.9" y1="287.2" y2="290.9" stroke="#26a69a" stroke-width="1"/>
<rect x="1787.8" y="281.3" width="2.2" height="5.9" fill="none" stroke="#26a69a" stroke-width="1"/>
<line x1="1792.6" x2="1792.6" y1="265.1" y2="269.8" stroke="#26a69a" stroke-width="1"/>
<line x1="1792.6" x2="1792.6" y1="278.6" y2="280.2" stroke="#26a69a" stroke-width="1"/>
<rect x="1791.5" y="269.8" width="2.2" height="8.8" fill="none" stroke="#26a69a" stroke-width="1"/>
<line x1="1796.4" x2="1796.4" y1="268.1" y2="279.3" stroke="#ef5350" stroke-width="1"/>
<rect x="1794.9" y="270.0" width="3" height="4.7" fill="#ef5350"/>
<line x1="1800.2" x2="1800.2" y1="268.0" y2="271.8" stroke="#26a69a" stroke-width="1"/>
<line x1="1800.2" x2="1800.2" y1="273.8" y2="274.2" stroke="#26a69a" stroke-width="1"/>
<rect x="1799.1" y="271.8" width="2.2" height="2.1" fill="none" stroke="#26a69a" stroke-width="1"/>
<line x1="1803.9" x2="1803.9" y1="237.4" y2="241.7" stroke="#26a69a" stroke-width="1"/>
<line x1="1803.9" x2="1803.9" y1="269.8" y2="270.3" stroke="#26a69a" stroke-width="1"/>
<rect x="1802.8" y="241.7" width="2.2" height="28.1" fill="none" stroke="#26a69a" stroke-width="1"/>
<line x1="1807.7" x2="1807.7" y1="237.1" y2="238.7" stroke="#26a69a" stroke-width="1"/>
<line x1="1807.7" x2="1807.7" y1="242.1" y2="244.2" stroke="#26a69a" stroke-width="1"/>
<rect x="1806.6" y="238.7" width="2.2" height="3.4" fill="none" stroke="#26a69a" stroke-width="1"/>
<circle cx="318.3" cy="198.6" r="3.6" fill="#fff" stroke="#5b7cfa" stroke-width="1.6"/>
<circle cx="408.6" cy="209.0" r="3.6" fill="#fff" stroke="#5b7cfa" stroke-width="1.6"/>
<circle cx="498.6" cy="160.8" r="3.6" fill="#fff" stroke="#5b7cfa" stroke-width="1.6"/>
<circle cx="589.5" cy="208.4" r="3.6" fill="#fff" stroke="#5b7cfa" stroke-width="1.6"/>
<circle cx="679.5" cy="298.4" r="3.6" fill="#fff" stroke="#5b7cfa" stroke-width="1.6"/>
<circle cx="769.8" cy="228.9" r="3.6" fill="#fff" stroke="#5b7cfa" stroke-width="1.6"/>
<circle cx="860.7" cy="213.0" r="3.6" fill="#fff" stroke="#5b7cfa" stroke-width="1.6"/>
<circle cx="950.6" cy="107.0" r="3.6" fill="#fff" stroke="#5b7cfa" stroke-width="1.6"/>
<circle cx="1040.6" cy="139.0" r="3.6" fill="#fff" stroke="#5b7cfa" stroke-width="1.6"/>
<circle cx="1130.4" cy="111.4" r="3.6" fill="#fff" stroke="#5b7cfa" stroke-width="1.6"/>
<circle cx="1221.8" cy="142.0" r="3.6" fill="#fff" stroke="#5b7cfa" stroke-width="1.6"/>
<circle cx="1311.6" cy="109.7" r="3.6" fill="#fff" stroke="#5b7cfa" stroke-width="1.6"/>
<circle cx="1401.6" cy="178.5" r="3.6" fill="#fff" stroke="#5b7cfa" stroke-width="1.6"/>
<circle cx="1492.2" cy="228.9" r="3.6" fill="#fff" stroke="#5b7cfa" stroke-width="1.6"/>
<circle cx="1582.5" cy="250.8" r="3.6" fill="#fff" stroke="#5b7cfa" stroke-width="1.6"/>
<circle cx="1672.4" cy="207.7" r="3.6" fill="#fff" stroke="#5b7cfa" stroke-width="1.6"/>
<circle cx="1762.7" cy="228.9" r="3.6" fill="#fff" stroke="#5b7cfa" stroke-width="1.6"/>
<line x1="305" x2="1810" y1="239.5" y2="239.5" stroke="#26a69a" stroke-width="1" stroke-dasharray="1 2"/>
</g>
<line x1="305" x2="1873" y1="382.5" y2="382.5" stroke="#e0e3eb"/>
<line x1="1810.5" x2="1810.5" y1="0" y2="407" stroke="#e0e3eb"/>
<text x="382.5" y="399" text-anchor="middle" font-size="12" textLength="26.5" lengthAdjust="spacingAndGlyphs" fill="#5d606b">03:30</text>
<text x="495.5" y="399" text-anchor="middle" font-size="12" textLength="29" lengthAdjust="spacingAndGlyphs" fill="#3b3f4a">04:00</text>
<text x="608.5" y="399" text-anchor="middle" font-size="12" textLength="26.5" lengthAdjust="spacingAndGlyphs" fill="#5d606b">04:30</text>
<text x="721.5" y="399" text-anchor="middle" font-size="12" textLength="29" lengthAdjust="spacingAndGlyphs" fill="#3b3f4a">05:00</text>
<text x="833.5" y="399" text-anchor="middle" font-size="12" textLength="26.5" lengthAdjust="spacingAndGlyphs" fill="#5d606b">05:30</text>
<text x="947.5" y="399" text-anchor="middle" font-size="12" textLength="29" lengthAdjust="spacingAndGlyphs" fill="#3b3f4a">06:00</text>
<text x="1059.5" y="399" text-anchor="middle" font-size="12" textLength="26.5" lengthAdjust="spacingAndGlyphs" fill="#5d606b">06:30</text>
<text x="1172.5" y="399" text-anchor="middle" font-size="12" textLength="29" lengthAdjust="spacingAndGlyphs" fill="#3b3f4a">07:00</text>
<text x="1285.5" y="399" text-anchor="middle" font-size="12" textLength="26.5" lengthAdjust="spacingAndGlyphs" fill="#5d606b">07:30</text>
<text x="1398.5" y="399" text-anchor="middle" font-size="12" textLength="29" lengthAdjust="spacingAndGlyphs" fill="#3b3f4a">08:00</text>
<text x="1511.5" y="399" text-anchor="middle" font-size="12" textLength="26.5" lengthAdjust="spacingAndGlyphs" fill="#5d606b">08:30</text>
<text x="1624.5" y="399" text-anchor="middle" font-size="12" textLength="29" lengthAdjust="spacingAndGlyphs" fill="#3b3f4a">09:00</text>
<text x="1736.5" y="399" text-anchor="middle" font-size="12" textLength="26.5" lengthAdjust="spacingAndGlyphs" fill="#5d606b">09:30</text>
<text x="1862.5" y="65.2" text-anchor="end" font-size="11.6" textLength="42.8" lengthAdjust="spacingAndGlyphs" fill="#434651">38750.00</text>
<text x="1862.5" y="93.7" text-anchor="end" font-size="11.6" textLength="42.8" lengthAdjust="spacingAndGlyphs" fill="#434651">38725.00</text>
<text x="1862.5" y="122.2" text-anchor="end" font-size="11.6" textLength="42.8" lengthAdjust="spacingAndGlyphs" fill="#434651">38700.00</text>
<text x="1862.5" y="150.7" text-anchor="end" font-size="11.6" textLength="42.8" lengthAdjust="spacingAndGlyphs" fill="#434651">38675.00</text>
<text x="1862.5" y="179.2" text-anchor="end" font-size="11.6" textLength="42.8" lengthAdjust="spacingAndGlyphs" fill="#434651">38650.00</text>
<text x="1862.5" y="207.7" text-anchor="end" font-size="11.6" textLength="42.8" lengthAdjust="spacingAndGlyphs" fill="#434651">38625.00</text>
<text x="1862.5" y="236.2" text-anchor="end" font-size="11.6" textLength="42.8" lengthAdjust="spacingAndGlyphs" fill="#434651">38600.00</text>
<text x="1862.5" y="264.7" text-anchor="end" font-size="11.6" textLength="42.8" lengthAdjust="spacingAndGlyphs" fill="#434651">38575.00</text>
<text x="1862.5" y="293.2" text-anchor="end" font-size="11.6" textLength="42.8" lengthAdjust="spacingAndGlyphs" fill="#434651">38550.00</text>
<text x="1862.5" y="321.7" text-anchor="end" font-size="11.6" textLength="42.8" lengthAdjust="spacingAndGlyphs" fill="#434651">38525.00</text>
<text x="1862.5" y="350.2" text-anchor="end" font-size="11.6" textLength="42.8" lengthAdjust="spacingAndGlyphs" fill="#434651">38500.00</text>
<text x="1862.5" y="378.7" text-anchor="end" font-size="11.6" textLength="42.8" lengthAdjust="spacingAndGlyphs" fill="#434651">38475.00</text>
<rect x="1810" y="191.3" width="58" height="15.2" rx="1.5" fill="#138b7c"/>
<text x="1862.5" y="203.1" text-anchor="end" font-size="11.8" textLength="43" lengthAdjust="spacingAndGlyphs" fill="#fff">38629.01</text>
<rect x="1810" y="232.3" width="58" height="15.2" rx="1.5" fill="#26a69a"/>
<text x="1862.5" y="244.1" text-anchor="end" font-size="11.8" textLength="43" lengthAdjust="spacingAndGlyphs" fill="#fff">38593.46</text>
<rect x="1810" y="247.3" width="58" height="15.2" rx="1.5" fill="#26a69a"/>
<text x="1862.5" y="259.1" text-anchor="end" font-size="11.8" textLength="43" lengthAdjust="spacingAndGlyphs" fill="#fff">38588.13</text>
<rect x="1810" y="262.5" width="58" height="15.2" rx="1.5" fill="#7f1d1d"/>
<text x="1862.5" y="274.3" text-anchor="end" font-size="11.8" textLength="43" lengthAdjust="spacingAndGlyphs" fill="#fff">38584.47</text>
<rect x="1810" y="293.2" width="58" height="15.2" rx="1.5" fill="#138b7c"/>
<text x="1862.5" y="305.0" text-anchor="end" font-size="11.8" textLength="43" lengthAdjust="spacingAndGlyphs" fill="#fff">38539.92</text>
<rect x="1810" y="368" width="20" height="14" fill="#26a69a"/><text x="1820" y="379" text-anchor="middle" font-size="11" font-weight="bold" fill="#fff">2</text>
<g transform="translate(1841,394)" fill="none" stroke="#131722" stroke-width="1.3"><circle r="4.2"/><line x1="4.20" y1="0.00" x2="6.60" y2="0.00"/><line x1="2.97" y1="2.97" x2="4.67" y2="4.67"/><line x1="0.00" y1="4.20" x2="0.00" y2="6.60"/><line x1="-2.97" y1="2.97" x2="-4.67" y2="4.67"/><line x1="-4.20" y1="0.00" x2="-6.60" y2="0.00"/><line x1="-2.97" y1="-2.97" x2="-4.67" y2="-4.67"/><line x1="-0.00" y1="-4.20" x2="-0.00" y2="-6.60"/><line x1="2.97" y1="-2.97" x2="4.67" y2="-4.67"/></g>
<circle cx="326.2" cy="361.7" r="14.5" fill="#fff" stroke="#e6e8ec" stroke-width="0.8"/>
<path d="M316.8,357.8 H324.7 V367.8 H321.1 V361.2 H316.8z M331,357.8 H335.8 L332.9,367.8 H327.9z" fill="#131722"/><circle cx="327.4" cy="359.2" r="1.3" fill="#131722"/>
<circle cx="1782" cy="341" r="12" fill="#fff" filter="url(#sh)"/>
<path d="M1777.5,336.5 l4,4.5 -4,4.5 M1782,336.5 l4,4.5 -4,4.5" fill="none" stroke="#4a4e59" stroke-width="1.6"/>
<rect x="314.5" y="46.5" width="25" height="22" rx="3" fill="#fff" stroke="#e0e3eb"/>
<path d="M323.5,62 l4,-4 4,4" fill="none" stroke="#131722" stroke-width="1.4"/>
<g fill="none" stroke="#2f3340" stroke-width="1.05">
<line x1="268" y1="58" x2="289" y2="58"/><line x1="268" y1="64" x2="286" y2="64"/><circle cx="288.5" cy="64" r="1.8"/><line x1="268" y1="69" x2="289" y2="69"/><line x1="271" y1="75" x2="289" y2="75"/><circle cx="269" cy="75" r="1.8"/>
<path d="M268,107 C270,100 276,94 282,97 C284,100 279,106 268,107 Z M282,97 L285,92 M286,94 L291,90"/>
<path d="M272,124 h14 M279,124 v16 M276.5,140 h5"/>
<circle cx="271" cy="157" r="1.8"/><circle cx="284" cy="157" r="1.8"/><circle cx="276" cy="163" r="1.8"/><circle cx="269" cy="171" r="1.8"/><circle cx="287" cy="169" r="1.8"/><path d="M271,159 L269,169 M271,159 L276,161 M278,163 L285,158 M276,165 L286,168 M284,159 L287,167 M270,169 L275,164"/>
<circle cx="269" cy="189" r="1.8"/><line x1="271" y1="189" x2="288" y2="189"/><path d="M272,195 L287,191" stroke-dasharray="1.5 1.5"/><circle cx="269" cy="197" r="1.8"/><line x1="271" y1="197" x2="285" y2="197"/><circle cx="287" cy="197" r="1.8"/><circle cx="269" cy="204" r="1.8"/><line x1="271" y1="204" x2="288" y2="204"/>
<circle cx="279" cy="229" r="6.5"/><circle cx="276.8" cy="227" r="0.5" fill="#2f3340"/><circle cx="281.2" cy="227" r="0.5" fill="#2f3340"/><path d="M275.5,231 Q279,234.5 282.5,231"/>
<g transform="translate(279,273) rotate(-40)"><rect x="-10" y="-3" width="20" height="6" rx="1"/><path d="M-6,-3 v2 M-3,-3 v2.5 M0,-3 v2 M3,-3 v2.5 M6,-3 v2"/></g>
<circle cx="278" cy="304" r="6.5"/><path d="M282.8,308.8 L286,312 M278,300.5 v7 M274.5,304 h7"/>
<path d="M272.5,357 v-8 a6.5,6.5 0 0 1 13,0 v8 h-4 v-8 a2.5,2.5 0 0 0 -5,0 v8 z M272.5,353 h4 M281.5,353 h4"/>
</g>
</svg>
<div class="link">个人交易图表</div>
<div class="sect">外汇市场基本面数据</div>
<div class="tbl">
<div class="c" style="left:0px;top:0px;width:127px;height:32px;line-height:30px"></div>
<div class="c" style="left:126px;top:0px;width:127px;height:32px;line-height:30px"><svg class="flag" width="18" height="18" viewBox="0 0 18 18"><circle cx="9" cy="9" r="9" fill="#3e4fa8"/><circle cx="14.20" cy="9.00" r="0.7" fill="#f3c744"/><circle cx="13.50" cy="11.60" r="0.7" fill="#f3c744"/><circle cx="11.60" cy="13.50" r="0.7" fill="#f3c744"/><circle cx="9.00" cy="14.20" r="0.7" fill="#f3c744"/><circle cx="6.40" cy="13.50" r="0.7" fill="#f3c744"/><circle cx="4.50" cy="11.60" r="0.7" fill="#f3c744"/><circle cx="3.80" cy="9.00" r="0.7" fill="#f3c744"/><circle cx="4.50" cy="6.40" r="0.7" fill="#f3c744"/><circle cx="6.40" cy="4.50" r="0.7" fill="#f3c744"/><circle cx="9.00" cy="3.80" r="0.7" fill="#f3c744"/><circle cx="11.60" cy="4.50" r="0.7" fill="#f3c744"/><circle cx="13.50" cy="6.40" r="0.7" fill="#f3c744"/></svg><span>EUR</span></div>
<div class="c" style="left:252px;top:0px;width:127px;height:32px;line-height:30px"><svg class="flag" width="18" height="18" viewBox="0 0 18 18"><clipPath id="cu2"><circle cx="9" cy="9" r="9"/></clipPath><g clip-path="url(#cu2)"><rect width="18" height="18" fill="#fff"/><rect x="0" y="0.00" width="18" height="1.3" fill="#ef4b5c"/><rect x="0" y="2.60" width="18" height="1.3" fill="#ef4b5c"/><rect x="0" y="5.20" width="18" height="1.3" fill="#ef4b5c"/><rect x="0" y="7.80" width="18" height="1.3" fill="#ef4b5c"/><rect x="0" y="10.40" width="18" height="1.3" fill="#ef4b5c"/><rect x="0" y="13.00" width="18" height="1.3" fill="#ef4b5c"/><rect x="0" y="15.60" width="18" height="1.3" fill="#ef4b5c"/><rect x="0" y="0" width="9" height="8" fill="#3e4fa8"/></g></svg><span>USD</span></div>
<div class="c" style="left:378px;top:0px;width:127px;height:32px;line-height:30px"><svg class="flag" width="18" height="18" viewBox="0 0 18 18"><circle cx="9" cy="9" r="9" fill="#f5f5f7"/><circle cx="9" cy="9" r="4" fill="#ef4b5c"/></svg><span>JPY</span></div>
<div class="c" style="left:504px;top:0px;width:127px;height:32px;line-height:30px"><span>BTC</span></div>
<div class="c" style="left:630px;top:0px;width:135px;height:32px;line-height:30px"><span>ETH</span></div>
<div class="c" style="left:764px;top:0px;width:127px;height:32px;line-height:30px"><span>LTC</span></div>
<div class="c" style="left:890px;top:0px;width:127px;height:32px;line-height:30px"><svg class="flag" width="18" height="18" viewBox="0 0 18 18"><clipPath id="cg4"><circle cx="9" cy="9" r="9"/></clipPath><g clip-path="url(#cg4)"><rect width="18" height="18" fill="#3e4fa8"/><path d="M0,0 L18,18 M18,0 L0,18" stroke="#fff" stroke-width="3.5"/><path d="M0,0 L18,18 M18,0 L0,18" stroke="#ef4b5c" stroke-width="1.2"/><path d="M9,0 V18 M0,9 H18" stroke="#fff" stroke-width="5"/><path d="M9,0 V18 M0,9 H18" stroke="#ef4b5c" stroke-width="2.6"/></g></svg><span>GBP</span></div>
<div class="c" style="left:1016px;top:0px;width:127px;height:32px;line-height:30px"><svg class="flag" width="18" height="18" viewBox="0 0 18 18"><circle cx="9" cy="9" r="9" fill="#ef4b5c"/><path d="M7.2,4.2 h3.6 v3 h3 v3.6 h-3 v3 h-3.6 v-3 h-3 v-3.6 h3z" fill="#fff"/></svg><span>CHF</span></div>
<div class="c" style="left:1142px;top:0px;width:128px;height:32px;line-height:30px"><svg class="flag" width="18" height="18" viewBox="0 0 18 18"><circle cx="9" cy="9" r="9" fill="#3e4fa8"/><path d="M9,9 V0 A9,9 0 0 0 0,9z" fill="#ef4b5c"/><path d="M9,9 V2 A7,7 0 0 0 2,9z" fill="#fff"/><path d="M3.5,5 V9 H5.2 V7 L8,9.5 V5" fill="none" stroke="#3e4fa8" stroke-width="0.9"/><path d="M4.5,4.5 L9,9" stroke="#ef4b5c" stroke-width="1.1" opacity="0.8"/><rect x="12.3" y="4.5" width="1.4" height="1.4" fill="#fff" opacity="0.7"/><rect x="14.5" y="6.8" width="1.6" height="1" fill="#fff"/><rect x="10.5" y="7.5" width="1.2" height="1.2" fill="#fff"/><rect x="13" y="9.3" width="1" height="1" fill="#fff" opacity="0.7"/><rect x="4.2" y="11.8" width="2" height="2" fill="#fff"/><rect x="12.2" y="13" width="2" height="1.2" fill="#fff"/></svg><span>AUD</span></div>
<div class="c" style="left:1269px;top:0px;width:127px;height:32px;line-height:30px"><svg class="flag" width="18" height="18" viewBox="0 0 18 18"><circle cx="9" cy="9" r="9" fill="#f5f5f7"/><path d="M0,9 A9,9 0 0 1 4.5,1.2 V16.8 A9,9 0 0 1 0,9z M18,9 A9,9 0 0 0 13.5,1.2 V16.8 A9,9 0 0 0 18,9z" fill="#ef4b5c"/><path d="M9,5 l1.2,2 1.5,-.5 -.6,2.8 1.2,.3 -2,1.8 v1.8 h-2.6 v-1.8 l-2,-1.8 1.2,-.3 -.6,-2.8 1.5,.5z" fill="#ef4b5c"/></svg><span>CAD</span></div>
<div class="c" style="left:1395px;top:0px;width:127px;height:32px;line-height:30px"><svg class="flag" width="18" height="18" viewBox="0 0 18 18"><circle cx="9" cy="9" r="9" fill="#3e4fa8"/><path d="M9,9 V0 A9,9 0 0 0 0,9z" fill="#ef4b5c"/><path d="M9,9 V2 A7,7 0 0 0 2,9z" fill="#fff"/><path d="M3.5,5 V9 H5.2 V7 L8,9.5 V5" fill="none" stroke="#3e4fa8" stroke-width="0.9"/><path d="M4.5,4.5 L9,9" stroke="#ef4b5c" stroke-width="1.1" opacity="0.8"/><rect x="12.3" y="4.5" width="1.4" height="1.4" fill="#fff" opacity="0.7"/><rect x="14.5" y="6.8" width="1.6" height="1" fill="#fff"/><rect x="10.5" y="7.5" width="1.2" height="1.2" fill="#fff"/><rect x="13" y="9.3" width="1" height="1" fill="#fff" opacity="0.7"/><rect x="4.2" y="11.8" width="2" height="2" fill="#fff"/><rect x="12.2" y="13" width="2" height="1.2" fill="#fff"/></svg><span>NZD</span></div>
<div class="c" style="left:1521px;top:0px;width:126px;height:32px;line-height:30px"><svg class="flag" width="18" height="18" viewBox="0 0 18 18"><circle cx="9" cy="9" r="9" fill="#ef4b5c"/><circle cx="5.5" cy="6" r="1.6" fill="#f3c744"/><circle cx="9.5" cy="3.8" r="0.5" fill="#f3c744"/><circle cx="11" cy="6" r="0.5" fill="#f3c744"/><circle cx="11" cy="8.5" r="0.5" fill="#f3c744"/><circle cx="9.5" cy="10.5" r="0.5" fill="#f3c744"/></svg><span>CNY</span></div>
<div class="c" style="left:0px;top:31px;width:127px;height:32px;line-height:30px"><svg class="flag" width="18" height="18" viewBox="0 0 18 18"><circle cx="9" cy="9" r="9" fill="#3e4fa8"/><circle cx="14.20" cy="9.00" r="0.7" fill="#f3c744"/><circle cx="13.50" cy="11.60" r="0.7" fill="#f3c744"/><circle cx="11.60" cy="13.50" r="0.7" fill="#f3c744"/><circle cx="9.00" cy="14.20" r="0.7" fill="#f3c744"/><circle cx="6.40" cy="13.50" r="0.7" fill="#f3c744"/><circle cx="4.50" cy="11.60" r="0.7" fill="#f3c744"/><circle cx="3.80" cy="9.00" r="0.7" fill="#f3c744"/><circle cx="4.50" cy="6.40" r="0.7" fill="#f3c744"/><circle cx="6.40" cy="4.50" r="0.7" fill="#f3c744"/><circle cx="9.00" cy="3.80" r="0.7" fill="#f3c744"/><circle cx="11.60" cy="4.50" r="0.7" fill="#f3c744"/><circle cx="13.50" cy="6.40" r="0.7" fill="#f3c744"/></svg><span>EUR</span></div>
<div class="c hl" style="left:126px;top:31px;width:127px;height:32px;line-height:30px"></div>
<div class="c" style="left:252px;top:31px;width:127px;height:32px;line-height:30px">1.05410</div>
<div class="c" style="left:378px;top:31px;width:127px;height:32px;line-height:30px">136.944</div>
<div class="c" style="left:504px;top:31px;width:127px;height:32px;line-height:30px">-</div>
<div class="c" style="left:630px;top:31px;width:135px;height:32px;line-height:30px">-</div>
<div class="c" style="left:764px;top:31px;width:127px;height:32px;line-height:30px">-</div>
<div class="c" style="left:890px;top:31px;width:127px;height:32px;line-height:30px">0.83861</div>
<div class="c" style="left:1016px;top:31px;width:127px;height:32px;line-height:30px">1.026890</div>
<div class="c" style="left:1142px;top:31px;width:128px;height:32px;line-height:30px">1.49284</div>
<div class="c" style="left:1269px;top:31px;width:127px;height:32px;line-height:30px">1.35559</div>
<div class="c" style="left:1395px;top:31px;width:127px;height:32px;line-height:30px">1.632850</div>
<div class="c" style="left:1521px;top:31px;width:126px;height:32px;line-height:30px">6.9679</div>
<div class="c" style="left:0px;top:62px;width:127px;height:32px;line-height:30px"><svg class="flag" width="18" height="18" viewBox="0 0 18 18"><clipPath id="cu11"><circle cx="9" cy="9" r="9"/></clipPath><g clip-path="url(#cu11)"><rect width="18" height="18" fill="#fff"/><rect x="0" y="0.00" width="18" height="1.3" fill="#ef4b5c"/><rect x="0" y="2.60" width="18" height="1.3" fill="#ef4b5c"/><rect x="0" y="5.20" width="18" height="1.3" fill="#ef4b5c"/><rect x="0" y="7.80" width="18" height="1.3" fill="#ef4b5c"/><rect x="0" y="10.40" width="18" height="1.3" fill="#ef4b5c"/><rect x="0" y="13.00" width="18" height="1.3" fill="#ef4b5c"/><rect x="0" y="15.60" width="18" height="1.3" fill="#ef4b5c"/><rect x="0" y="0" width="9" height="8" fill="#3e4fa8"/></g></svg><span>USD</span></div>
<div class="c" style="left:126px;top:62px;width:127px;height:32px;line-height:30px">0.9479</div>
<div class="c hl" style="left:252px;top:62px;width:127px;height:32px;line-height:30px"></div>
<div class="c" style="left:378px;top:62px;width:127px;height:32px;line-height:30px">129.830</div>
<div class="c" style="left:504px;top:62px;width:127px;height:32px;line-height:30px">-</div>
<div class="c" style="left:630px;top:62px;width:135px;height:32px;line-height:30px">-</div>
<div class="c" style="left:764px;top:62px;width:127px;height:32px;line-height:30px">-</div>
<div class="c" style="left:890px;top:62px;width:127px;height:32px;line-height:30px">0.79535</div>
<div class="c" style="left:1016px;top:62px;width:127px;height:32px;line-height:30px">0.97318</div>
<div class="c" style="left:1142px;top:62px;width:128px;height:32px;line-height:30px">1.4156</div>
<div class="c" style="left:1269px;top:62px;width:127px;height:32px;line-height:30px">1.28560</div>
<div class="c" style="left:1395px;top:62px;width:127px;height:32px;line-height:30px">1.5484</div>
<div class="c" style="left:1521px;top:62px;width:126px;height:32px;line-height:30px">6.6080</div>
<div class="c" style="left:0px;top:93px;width:127px;height:33px;line-height:31px"><svg class="flag" width="18" height="18" viewBox="0 0 18 18"><circle cx="9" cy="9" r="9" fill="#f5f5f7"/><circle cx="9" cy="9" r="4" fill="#ef4b5c"/></svg><span>JPY</span></div>
<div class="c" style="left:126px;top:93px;width:127px;height:33px;line-height:31px">0.0073020</div>
<div class="c" style="left:252px;top:93px;width:127px;height:33px;line-height:31px">0.007700</div>
<div class="c hl" style="left:378px;top:93px;width:127px;height:33px;line-height:31px"></div>
<div class="c" style="left:504px;top:93px;width:127px;height:33px;line-height:31px">-</div>
<div class="c" style="left:630px;top:93px;width:135px;height:33px;line-height:31px">-</div>
<div class="c" style="left:764px;top:93px;width:127px;height:33px;line-height:31px">-</div>
<div class="c" style="left:890px;top:93px;width:127px;height:33px;line-height:31px">0.006123</div>
<div class="c" style="left:1016px;top:93px;width:127px;height:33px;line-height:31px">0.007497</div>
<div class="c" style="left:1142px;top:93px;width:128px;height:33px;line-height:31px">0.010900</div>
<div class="c" style="left:1269px;top:93px;width:127px;height:33px;line-height:31px">0.009898</div>
<div class="c" style="left:1395px;top:93px;width:127px;height:33px;line-height:31px">0.011924</div>
<div class="c" style="left:1521px;top:93px;width:126px;height:33px;line-height:31px">0.05088</div>
<div class="c" style="left:0px;top:125px;width:127px;height:22px;line-height:20px"><span>BTC</span></div>
<div class="c" style="left:126px;top:125px;width:127px;height:22px;line-height:20px">36634.25</div>
<div class="c" style="left:252px;top:125px;width:127px;height:22px;line-height:20px">38601.14</div>
<div class="c" style="left:378px;top:125px;width:127px;height:22px;line-height:20px">5011199</div>
<div class="c hl" style="left:504px;top:125px;width:127px;height:22px;line-height:20px"></div>
<div class="c" style="left:630px;top:125px;width:135px;height:22px;line-height:20px">13.6335231830</div>
<div class="c" style="left:764px;top:125px;width:127px;height:22px;line-height:20px">-</div>
<div class="c" style="left:890px;top:125px;width:127px;height:22px;line-height:20px">30697.96</div>
<div class="c" style="left:1016px;top:125px;width:127px;height:22px;line-height:20px">37570.0</div>
<div class="c" style="left:1142px;top:125px;width:128px;height:22px;line-height:20px">54755.31</div>
<div class="c" style="left:1269px;top:125px;width:127px;height:22px;line-height:20px">49152.41</div>
<div class="c" style="left:1395px;top:125px;width:127px;height:22px;line-height:20px">59671.94</div>
<div class="c" style="left:1521px;top:125px;width:126px;height:22px;line-height:20px">-</div>
<div class="c" style="left:0px;top:146px;width:127px;height:22px;line-height:20px"><span>ETH</span></div>
<div class="c" style="left:126px;top:146px;width:127px;height:22px;line-height:20px">2682.10</div>
<div class="c" style="left:252px;top:146px;width:127px;height:22px;line-height:20px">2826.22</div>
<div class="c" style="left:378px;top:146px;width:127px;height:22px;line-height:20px">366577</div>
<div class="c" style="left:504px;top:146px;width:127px;height:22px;line-height:20px">0.073220</div>
<div class="c hl" style="left:630px;top:146px;width:135px;height:22px;line-height:20px"></div>
<div class="c" style="left:764px;top:146px;width:127px;height:22px;line-height:20px">28.11071600</div>
<div class="c" style="left:890px;top:146px;width:127px;height:22px;line-height:20px">2247.56</div>
<div class="c" style="left:1016px;top:146px;width:127px;height:22px;line-height:20px">2736.78</div>
<div class="c" style="left:1142px;top:146px;width:128px;height:22px;line-height:20px">4009.00</div>
<div class="c" style="left:1269px;top:146px;width:127px;height:22px;line-height:20px">3623.43</div>
<div class="c" style="left:1395px;top:146px;width:127px;height:22px;line-height:20px">4343.19</div>
<div class="c" style="left:1521px;top:146px;width:126px;height:22px;line-height:20px">-</div>
<div class="c" style="left:0px;top:167px;width:127px;height:22px;line-height:20px"><span>LTC</span></div>
<div class="c" style="left:126px;top:167px;width:127px;height:22px;line-height:20px">95.40</div>
<div class="c" style="left:252px;top:167px;width:127px;height:22px;line-height:20px">100.48</div>
<div class="c" style="left:378px;top:167px;width:127px;height:22px;line-height:20px">12962</div>
<div class="c" style="left:504px;top:167px;width:127px;height:22px;line-height:20px">0.002604</div>
<div class="c" style="left:630px;top:167px;width:135px;height:22px;line-height:20px">0.03550</div>
<div class="c hl" style="left:764px;top:167px;width:127px;height:22px;line-height:20px"></div>
<div class="c" style="left:890px;top:167px;width:127px;height:22px;line-height:20px">80.12</div>
<div class="c" style="left:1016px;top:167px;width:127px;height:22px;line-height:20px">-</div>
<div class="c" style="left:1142px;top:167px;width:128px;height:22px;line-height:20px">143.36</div>
<div class="c" style="left:1269px;top:167px;width:127px;height:22px;line-height:20px">128.179</div>
<div class="c" style="left:1395px;top:167px;width:127px;height:22px;line-height:20px">-</div>
<div class="c" style="left:1521px;top:167px;width:126px;height:22px;line-height:20px">-</div>
<div class="c" style="left:0px;top:188px;width:127px;height:33px;line-height:31px"><svg class="flag" width="18" height="18" viewBox="0 0 18 18"><clipPath id="cg13"><circle cx="9" cy="9" r="9"/></clipPath><g clip-path="url(#cg13)"><rect width="18" height="18" fill="#3e4fa8"/><path d="M0,0 L18,18 M18,0 L0,18" stroke="#fff" stroke-width="3.5"/><path d="M0,0 L18,18 M18,0 L0,18" stroke="#ef4b5c" stroke-width="1.2"/><path d="M9,0 V18 M0,9 H18" stroke="#fff" stroke-width="5"/><path d="M9,0 V18 M0,9 H18" stroke="#ef4b5c" stroke-width="2.6"/></g></svg><span>GBP</span></div>
<div class="c" style="left:126px;top:188px;width:127px;height:33px;line-height:31px">1.1920</div>
<div class="c" style="left:252px;top:188px;width:127px;height:33px;line-height:31px">1.2571</div>
<div class="c" style="left:378px;top:188px;width:127px;height:33px;line-height:31px">163.196</div>
<div class="c" style="left:504px;top:188px;width:127px;height:33px;line-height:31px">-</div>
<div class="c" style="left:630px;top:188px;width:135px;height:33px;line-height:31px">-</div>
<div class="c" style="left:764px;top:188px;width:127px;height:33px;line-height:31px">-</div>
<div class="c hl" style="left:890px;top:188px;width:127px;height:33px;line-height:31px"></div>
<div class="c" style="left:1016px;top:188px;width:127px;height:33px;line-height:31px">1.224590</div>
<div class="c" style="left:1142px;top:188px;width:128px;height:33px;line-height:31px">1.780520</div>
<div class="c" style="left:1269px;top:188px;width:127px;height:33px;line-height:31px">1.61670</div>
<div class="c" style="left:1395px;top:188px;width:127px;height:33px;line-height:31px">1.947110</div>
<div class="c" style="left:1521px;top:188px;width:126px;height:33px;line-height:31px">8.3089</div>
<div class="c" style="left:0px;top:220px;width:127px;height:32px;line-height:30px"><svg class="flag" width="18" height="18" viewBox="0 0 18 18"><circle cx="9" cy="9" r="9" fill="#ef4b5c"/><path d="M7.2,4.2 h3.6 v3 h3 v3.6 h-3 v3 h-3.6 v-3 h-3 v-3.6 h3z" fill="#fff"/></svg><span>CHF</span></div>
<div class="c" style="left:126px;top:220px;width:127px;height:32px;line-height:30px">0.9730</div>
<div class="c" style="left:252px;top:220px;width:127px;height:32px;line-height:30px">1.0268</div>
<div class="c" style="left:378px;top:220px;width:127px;height:32px;line-height:30px">133.306</div>
<div class="c" style="left:504px;top:220px;width:127px;height:32px;line-height:30px">-</div>
<div class="c" style="left:630px;top:220px;width:135px;height:32px;line-height:30px">-</div>
<div class="c" style="left:764px;top:220px;width:127px;height:32px;line-height:30px">-</div>
<div class="c" style="left:890px;top:220px;width:127px;height:32px;line-height:30px">0.8159</div>
<div class="c hl" style="left:1016px;top:220px;width:127px;height:32px;line-height:30px"></div>
<div class="c" style="left:1142px;top:220px;width:128px;height:32px;line-height:30px">1.4532</div>
<div class="c" style="left:1269px;top:220px;width:127px;height:32px;line-height:30px">1.3191</div>
<div class="c" style="left:1395px;top:220px;width:127px;height:32px;line-height:30px">1.5895</div>
<div class="c" style="left:1521px;top:220px;width:126px;height:32px;line-height:30px">6.7828</div>
<div class="c" style="left:0px;top:251px;width:127px;height:32px;line-height:30px"><svg class="flag" width="18" height="18" viewBox="0 0 18 18"><circle cx="9" cy="9" r="9" fill="#3e4fa8"/><path d="M9,9 V0 A9,9 0 0 0 0,9z" fill="#ef4b5c"/><path d="M9,9 V2 A7,7 0 0 0 2,9z" fill="#fff"/><path d="M3.5,5 V9 H5.2 V7 L8,9.5 V5" fill="none" stroke="#3e4fa8" stroke-width="0.9"/><path d="M4.5,4.5 L9,9" stroke="#ef4b5c" stroke-width="1.1" opacity="0.8"/><rect x="12.3" y="4.5" width="1.4" height="1.4" fill="#fff" opacity="0.7"/><rect x="14.5" y="6.8" width="1.6" height="1" fill="#fff"/><rect x="10.5" y="7.5" width="1.2" height="1.2" fill="#fff"/><rect x="13" y="9.3" width="1" height="1" fill="#fff" opacity="0.7"/><rect x="4.2" y="11.8" width="2" height="2" fill="#fff"/><rect x="12.2" y="13" width="2" height="1.2" fill="#fff"/></svg><span>AUD</span></div>
<div class="c" style="left:126px;top:251px;width:127px;height:32px;line-height:30px">0.6696</div>
<div class="c" style="left:252px;top:251px;width:127px;height:32px;line-height:30px">0.70630</div>
<div class="c" style="left:378px;top:251px;width:127px;height:32px;line-height:30px">91.707</div>
<div class="c" style="left:504px;top:251px;width:127px;height:32px;line-height:30px">-</div>
<div class="c" style="left:630px;top:251px;width:135px;height:32px;line-height:30px">-</div>
<div class="c" style="left:764px;top:251px;width:127px;height:32px;line-height:30px">-</div>
<div class="c" style="left:890px;top:251px;width:127px;height:32px;line-height:30px">0.5612</div>
<div class="c" style="left:1016px;top:251px;width:127px;height:32px;line-height:30px">0.687380</div>
<div class="c hl" style="left:1142px;top:251px;width:128px;height:32px;line-height:30px"></div>
<div class="c" style="left:1269px;top:251px;width:127px;height:32px;line-height:30px">0.90728</div>
<div class="c" style="left:1395px;top:251px;width:127px;height:32px;line-height:30px">1.093360</div>
<div class="c" style="left:1521px;top:251px;width:126px;height:32px;line-height:30px">4.6662</div>
<div class="c" style="left:0px;top:282px;width:127px;height:32px;line-height:30px"><svg class="flag" width="18" height="18" viewBox="0 0 18 18"><circle cx="9" cy="9" r="9" fill="#f5f5f7"/><path d="M0,9 A9,9 0 0 1 4.5,1.2 V16.8 A9,9 0 0 1 0,9z M18,9 A9,9 0 0 0 13.5,1.2 V16.8 A9,9 0 0 0 18,9z" fill="#ef4b5c"/><path d="M9,5 l1.2,2 1.5,-.5 -.6,2.8 1.2,.3 -2,1.8 v1.8 h-2.6 v-1.8 l-2,-1.8 1.2,-.3 -.6,-2.8 1.5,.5z" fill="#ef4b5c"/></svg><span>CAD</span></div>
<div class="c" style="left:126px;top:282px;width:127px;height:32px;line-height:30px">0.7373</div>
<div class="c" style="left:252px;top:282px;width:127px;height:32px;line-height:30px">0.7773</div>
<div class="c" style="left:378px;top:282px;width:127px;height:32px;line-height:30px">100.974</div>
<div class="c" style="left:504px;top:282px;width:127px;height:32px;line-height:30px">-</div>
<div class="c" style="left:630px;top:282px;width:135px;height:32px;line-height:30px">-</div>
<div class="c" style="left:764px;top:282px;width:127px;height:32px;line-height:30px">-</div>
<div class="c" style="left:890px;top:282px;width:127px;height:32px;line-height:30px">0.6181</div>
<div class="c" style="left:1016px;top:282px;width:127px;height:32px;line-height:30px">0.75702</div>
<div class="c" style="left:1142px;top:282px;width:128px;height:32px;line-height:30px">1.1008</div>
<div class="c hl" style="left:1269px;top:282px;width:127px;height:32px;line-height:30px"></div>
<div class="c" style="left:1395px;top:282px;width:127px;height:32px;line-height:30px">1.2035</div>
<div class="c" style="left:1521px;top:282px;width:126px;height:32px;line-height:30px">5.1390</div>
<div class="c" style="left:0px;top:313px;width:127px;height:32px;line-height:30px"><svg class="flag" width="18" height="18" viewBox="0 0 18 18"><circle cx="9" cy="9" r="9" fill="#3e4fa8"/><path d="M9,9 V0 A9,9 0 0 0 0,9z" fill="#ef4b5c"/><path d="M9,9 V2 A7,7 0 0 0 2,9z" fill="#fff"/><path d="M3.5,5 V9 H5.2 V7 L8,9.5 V5" fill="none" stroke="#3e4fa8" stroke-width="0.9"/><path d="M4.5,4.5 L9,9" stroke="#ef4b5c" stroke-width="1.1" opacity="0.8"/><rect x="12.3" y="4.5" width="1.4" height="1.4" fill="#fff" opacity="0.7"/><rect x="14.5" y="6.8" width="1.6" height="1" fill="#fff"/><rect x="10.5" y="7.5" width="1.2" height="1.2" fill="#fff"/><rect x="13" y="9.3" width="1" height="1" fill="#fff" opacity="0.7"/><rect x="4.2" y="11.8" width="2" height="2" fill="#fff"/><rect x="12.2" y="13" width="2" height="1.2" fill="#fff"/></svg><span>NZD</span></div>
<div class="c" style="left:126px;top:313px;width:127px;height:32px;line-height:30px">0.6119</div>
<div class="c" style="left:252px;top:313px;width:127px;height:32px;line-height:30px">0.64550</div>
<div class="c" style="left:378px;top:313px;width:127px;height:32px;line-height:30px">83.845</div>
<div class="c" style="left:504px;top:313px;width:127px;height:32px;line-height:30px">-</div>
<div class="c" style="left:630px;top:313px;width:135px;height:32px;line-height:30px">-</div>
<div class="c" style="left:764px;top:313px;width:127px;height:32px;line-height:30px">-</div>
<div class="c" style="left:890px;top:313px;width:127px;height:32px;line-height:30px">0.5131</div>
<div class="c" style="left:1016px;top:313px;width:127px;height:32px;line-height:30px">0.62880</div>
<div class="c" style="left:1142px;top:313px;width:128px;height:32px;line-height:30px">0.9139</div>
<div class="c" style="left:1269px;top:313px;width:127px;height:32px;line-height:30px">0.83004</div>
<div class="c hl" style="left:1395px;top:313px;width:127px;height:32px;line-height:30px"></div>
<div class="c" style="left:1521px;top:313px;width:126px;height:32px;line-height:30px">4.263</div>
<div class="c" style="left:0px;top:344px;width:127px;height:32px;line-height:30px"><svg class="flag" width="18" height="18" viewBox="0 0 18 18"><circle cx="9" cy="9" r="9" fill="#ef4b5c"/><circle cx="5.5" cy="6" r="1.6" fill="#f3c744"/><circle cx="9.5" cy="3.8" r="0.5" fill="#f3c744"/><circle cx="11" cy="6" r="0.5" fill="#f3c744"/><circle cx="11" cy="8.5" r="0.5" fill="#f3c744"/><circle cx="9.5" cy="10.5" r="0.5" fill="#f3c744"/></svg><span>CNY</span></div>
<div class="c" style="left:126px;top:344px;width:127px;height:32px;line-height:30px">0.14345</div>
<div class="c" style="left:252px;top:344px;width:127px;height:32px;line-height:30px">0.1513</div>
<div class="c" style="left:378px;top:344px;width:127px;height:32px;line-height:30px">19.619</div>
<div class="c" style="left:504px;top:344px;width:127px;height:32px;line-height:30px">-</div>
<div class="c" style="left:630px;top:344px;width:135px;height:32px;line-height:30px">-</div>
<div class="c" style="left:764px;top:344px;width:127px;height:32px;line-height:30px">-</div>
<div class="c" style="left:890px;top:344px;width:127px;height:32px;line-height:30px">0.12030</div>
<div class="c" style="left:1016px;top:344px;width:127px;height:32px;line-height:30px">0.1470</div>
<div class="c" style="left:1142px;top:344px;width:128px;height:32px;line-height:30px">0.210</div>
<div class="c" style="left:1269px;top:344px;width:127px;height:32px;line-height:30px">0.1942</div>
<div class="c" style="left:1395px;top:344px;width:127px;height:32px;line-height:30px">0.230</div>
<div class="c hl" style="left:1521px;top:344px;width:126px;height:32px;line-height:30px"></div>
</div>
<svg style="position:absolute;left:1856px;top:814px" width="30" height="32"><rect x="4.5" y="4.6" width="34" height="22.8" rx="11.4" fill="#fff" stroke="#e8eaee" stroke-width="1"/><path d="M9.8,11.8 H15.8 V19 H13.2 V14.3 H9.8z M20,11.8 H23.8 L21.6,19 H17.8z" fill="#131722"/><circle cx="17.4" cy="12.9" r="1" fill="#131722"/></svg>
<div class="foot"><div>版权所有 © 在线贸易 2022</div></div>
</body></html>
